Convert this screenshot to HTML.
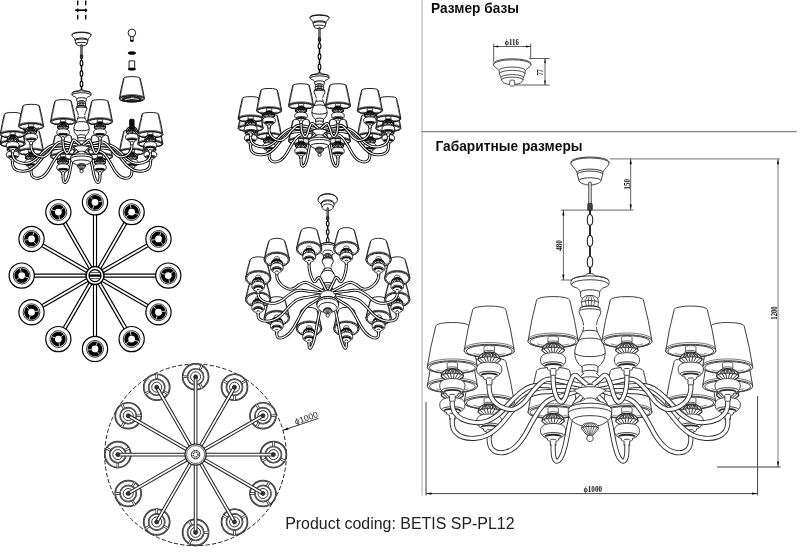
<!DOCTYPE html>
<html lang="ru"><head><meta charset="utf-8"><title>BETIS SP-PL12</title>
<style>
html,body{margin:0;padding:0;background:#fff}
body{width:800px;height:552px;overflow:hidden;position:relative;font-family:"Liberation Sans",sans-serif}
svg{position:absolute;left:0;top:0;display:block}
text{font-family:"Liberation Sans",sans-serif}
.h{font-weight:bold;font-size:15px;fill:#111}
.dim{font-family:"Liberation Serif",serif;font-weight:bold;fill:#111}
</style></head><body>
<svg width="800" height="552" viewBox="0 0 800 552">
<defs><filter id="soft" x="0" y="0" width="100%" height="100%" filterUnits="userSpaceOnUse"><feGaussianBlur stdDeviation="0.33"/></filter></defs>
<rect width="800" height="552" fill="#fff"/>
<g filter="url(#soft)">
<path d="M422.1 0L422.1 495.5" stroke="#cfcfcf" stroke-width="1.8" fill="none"/><path d="M421.4 131.6L796.8 131.6" stroke="#858585" stroke-width="1.4" fill="none"/><text class="h" x="431" y="12.6" textLength="88" lengthAdjust="spacingAndGlyphs">Размер базы</text><text class="h" x="435.5" y="151.3" textLength="147" lengthAdjust="spacingAndGlyphs">Габаритные размеры</text><text x="285.2" y="529.3" font-size="17.2" fill="#222" textLength="229.4" lengthAdjust="spacingAndGlyphs">Product coding: BETIS SP-PL12</text><g stroke="#222" stroke-linejoin="round" stroke-linecap="butt">
<path d="M493.43 64.39L493.53 63.78L493.79 63.04L494.03 62.64L494.43 62.22L495.15 61.7L495.82 61.34L496.83 60.9L498.03 60.5L500.83 59.8L504.34 59.25L508.03 58.92L512.2 58.8L516.03 58.9L519.63 59.2L523.23 59.74L526.03 60.39L528.2 61.17L529.23 61.69L529.81 62.09L530.27 62.51L530.61 63.04L530.87 63.78L530.97 64.39L530.97 64.43L530.91 64.99L530.72 65.48L530.45 65.93L530.05 66.39L529.25 67.11L527.81 68.17L526.03 69.61L525.63 70.02L525.23 70.63L524.94 73.98L523.63 76.94L523.23 78.31L522.83 80.47L522.03 81.62L521.63 82.08L521.23 82.43L520.37 82.97L518.83 83.64L518 83.89L516.83 84.14L515.23 84.36L512.2 84.51L509.23 84.37L507.82 84.18L506.43 83.9L505.23 83.51L504.03 82.97L503.23 82.48L502.83 82.15L502.03 81.16L501.63 80.56L501.23 78.83L501.17 78.31L500.83 77.07L499.46 73.98L499.23 70.92L498.93 70.23L498.43 69.67L498.03 69.32L495.15 67.11L494.35 66.39L493.95 65.93L493.68 65.48L493.49 64.99L493.43 64.43Z" fill="#fff" stroke-width="0.8"/>
<path d="M493.45 64.61A18.75 4.82 0 0 1 530.95 64.61" fill="none" stroke-width="0.8"/>
<path d="M499.2 70.41A13 3.34 0 0 1 525.2 70.41" fill="none" stroke-width="0.8"/>
<path d="M499.4 73.65A12.8 3.29 0 0 1 525 73.65" fill="none" stroke-width="0.8"/>
<path d="M501.07 77.46A11.13 2.86 0 0 1 523.33 77.46" fill="none" stroke-width="0.8"/>
<path d="M501.37 79.93A10.83 2.79 0 0 1 523.04 79.93" fill="none" stroke-width="0.8"/>
<path d="M509.62 83.7L509.95 80.62L510.18 80.43L510.69 80.26L511.4 80.15L512.2 80.11L513.02 80.15L513.71 80.26L514.22 80.43L514.45 80.62L514.78 83.7L514.78 83.71L514.76 84.24L514.65 84.69L514.28 85.32L513.82 85.85L513.55 86L513.19 86.09L512.2 86.17L511.21 86.09L510.6 85.87L510.12 85.32L509.75 84.69L509.64 84.24L509.62 83.71Z" fill="#fff" stroke-width="0.8"/>
</g>
<path d="M493.7 43.6L493.7 62" stroke="#333" stroke-width="0.8" fill="none"/><path d="M530.7 43.6L530.7 58.5" stroke="#333" stroke-width="0.8" fill="none"/><path d="M493.7 46.5L530.7 46.5" stroke="#333" stroke-width="0.8" fill="none"/><path d="M493.7 46.5L498.2 45.6L498.2 47.4Z" fill="#111" stroke="none"/><path d="M530.7 46.5L526.2 47.4L526.2 45.6Z" fill="#111" stroke="none"/><text class="dim" font-size="7.6" textLength="14" lengthAdjust="spacingAndGlyphs" x="504.8" y="45">&#981;116</text><path d="M529 58.5L549.7 58.5" stroke="#333" stroke-width="0.8" fill="none"/><path d="M515 85L549.7 85" stroke="#333" stroke-width="0.8" fill="none"/><path d="M545 58.5L545 85" stroke="#333" stroke-width="0.8" fill="none"/><path d="M545 58.5L545.9 63L544.1 63Z" fill="#111" stroke="none"/><path d="M545 85L544.1 80.5L545.9 80.5Z" fill="#111" stroke="none"/><text class="dim" font-size="7.6" textLength="6.3" lengthAdjust="spacingAndGlyphs" transform="translate(542.6 72.4) rotate(-90)" x="-3.15" y="0">77</text><path d="M610 158.8L780 158.8" stroke="#909090" stroke-width="1.2" fill="none"/><path d="M778 158.7L778 467" stroke="#a4a4a4" stroke-width="1.5" fill="none"/><path d="M717 467L780.6 467" stroke="#444" stroke-width="1" fill="none"/><path d="M778 158.7L779.1 164.2L776.9 164.2Z" fill="#111" stroke="none"/><path d="M778 467L776.9 461.5L779.1 461.5Z" fill="#111" stroke="none"/><text class="dim" font-size="8" textLength="13.4" lengthAdjust="spacingAndGlyphs" transform="translate(777 313) rotate(-90)" x="-6.7" y="0">1200</text><path d="M560.6 210.1L633.4 210.1" stroke="#555" stroke-width="0.9" fill="none"/><path d="M630.7 158.7L630.7 210" stroke="#555" stroke-width="0.9" fill="none"/><path d="M630.7 158.7L631.8 164.2L629.6 164.2Z" fill="#111" stroke="none"/><path d="M630.7 210L629.6 204.5L631.8 204.5Z" fill="#111" stroke="none"/><text class="dim" font-size="8" textLength="10.6" lengthAdjust="spacingAndGlyphs" transform="translate(629.5 184.3) rotate(-90)" x="-5.3" y="0">150</text><path d="M561 280L585 280" stroke="#555" stroke-width="0.9" fill="none"/><path d="M563.4 210L563.4 280" stroke="#555" stroke-width="0.9" fill="none"/><path d="M563.4 210L564.5 215.5L562.3 215.5Z" fill="#111" stroke="none"/><path d="M563.4 280L562.3 274.5L564.5 274.5Z" fill="#111" stroke="none"/><text class="dim" font-size="8" textLength="10.6" lengthAdjust="spacingAndGlyphs" transform="translate(561.8 245.4) rotate(-90)" x="-5.3" y="0">480</text><path d="M426 402L426 495.5" stroke="#444" stroke-width="1" fill="none"/><path d="M757.6 396L757.6 495.5" stroke="#444" stroke-width="1" fill="none"/><path d="M426 493.6L757.6 493.6" stroke="#444" stroke-width="1" fill="none"/><path d="M426 493.6L431.5 492.5L431.5 494.7Z" fill="#111" stroke="none"/><path d="M757.6 493.6L752.1 494.7L752.1 492.5Z" fill="#111" stroke="none"/><text class="dim" font-size="8" textLength="18.5" lengthAdjust="spacingAndGlyphs" x="583.45" y="492">&#981;1000</text><g stroke="#2b2b2b" stroke-linejoin="round" stroke-linecap="butt">
<path d="M570.92 163.16L570.98 162.48L571.29 161.41L571.52 160.99L571.85 160.61L572.37 160.19L573.35 159.63L574.32 159.21L575.49 158.8L578.32 158.09L582.01 157.5L585.92 157.16L590 157.04L594.32 157.17L598.32 157.54L601.81 158.11L604.72 158.87L606.72 159.66L607.52 160.12L608.15 160.61L608.55 161.09L608.72 161.43L609.02 162.48L609.08 163.16L609.08 163.19L608.85 164.13L608.32 165.07L606.65 167.15L604.51 169.53L603.92 170.38L603.49 171.23L602.95 172.48L602.72 174.19L601.12 180.22L600.72 181.26L600.32 181.81L599.92 182.25L599.12 182.87L598.32 183.3L597.12 183.75L595.12 184.24L593.92 184.65L593.12 184.81L591.52 185L590 185.06L588.32 184.99L586.72 184.79L585.92 184.6L584.82 184.23L583.12 183.82L582.01 183.44L581.34 183.14L580.68 182.74L579.92 182.08L579.12 181.04L577.52 175.26L577.12 172.61L576.32 170.83L575.52 169.56L573.35 167.15L571.64 165L571.12 164.07L570.92 163.19Z" fill="#fff" stroke-width="0.9"/>
<path d="M570.93 162.84A19.07 4.9 0 0 1 609.07 162.84" fill="none" stroke-width="0.9"/>
<path d="M577.1 172.41A12.9 3.32 0 0 1 602.9 172.41" fill="none" stroke-width="0.9"/>
<path d="M577.3 174.34A12.7 3.27 0 0 1 602.7 174.34" fill="none" stroke-width="0.9"/>
<path d="M579 180.62A11 2.83 0 0 1 601 180.62" fill="none" stroke-width="0.9"/>
<path d="M588.8 182.45L588.89 182.34L589.15 182.24L590 182.15L590.85 182.24L591.11 182.34L591.2 182.45L591.2 203.92L591.11 204.03L590.85 204.13L590 204.22L589.15 204.13L588.89 204.03L588.8 203.92Z" fill="#fff" stroke-width="0.9"/>
<path d="M587.8 203.91L587.97 203.7L588.44 203.51L589.16 203.39L590 203.35L590.84 203.39L591.56 203.51L592.03 203.7L592.2 203.91L592.2 209.91L592.03 210.12L591.56 210.3L590.84 210.43L590 210.47L589.16 210.43L588.44 210.3L587.97 210.12L587.8 209.91Z" fill="#444" stroke-width="0.9"/>
<path d="M590 209.9L590 215.51M590 224.4L590 236.48M590 245.37L590 257.45M590 266.34L590 275.23" fill="none" stroke-width="2"/>
<ellipse cx="590" cy="219.95" rx="2.7" ry="5.41" fill="#fff" stroke-width="1.12"/>
<ellipse cx="590" cy="240.92" rx="2.7" ry="5.41" fill="#fff" stroke-width="1.12"/>
<ellipse cx="590" cy="261.89" rx="2.7" ry="5.41" fill="#fff" stroke-width="1.12"/>
<path d="M536.62 370.73A16.5 3.39 0 0 1 569.62 370.73Q575.02 390.97 578.22 412.09A25.1 6.45 0 0 1 528.02 412.09Q531.22 390.97 536.62 370.73Z" fill="#fff" stroke-width="0.9"/>
<ellipse cx="553.12" cy="412.09" rx="25.1" ry="6.45" fill="#fff" stroke-width="0.9"/>
<ellipse cx="553.12" cy="412.38" rx="22.9" ry="5.89" fill="#fff" stroke-width="0.9"/>
<path d="M528.42 410.16A24.7 6.35 0 0 1 577.82 410.16" fill="none" stroke-width="0.63"/>
<path d="M547.92 408.22L548.02 407.97L548.31 407.72L548.79 407.48L549.44 407.28L551.13 406.99L553.12 406.89L555.11 406.99L556.8 407.28L557.44 407.48L557.92 407.72L558.22 407.97L558.32 408.22L558.32 413.07L558.22 413.32L557.92 413.57L557.44 413.8L556.8 414L555.11 414.29L553.12 414.4L551.13 414.29L549.44 414L548.79 413.8L548.31 413.57L548.02 413.32L547.92 413.07Z" fill="#fff" stroke-width="0.72"/>
<path d="M547.92 413.06A5.2 1.34 0 0 1 558.32 413.06" fill="none" stroke-width="0.72"/>
<path d="M537.04 414.61A20.1 5.17 0 0 0 569.2 414.61" fill="none" stroke-width="0.54"/>
<path d="M541.92 420.97L542.61 418.9L542.92 418.19L543.32 417.49L543.81 416.86L544.52 416.15L545.72 415.23L546.52 414.75L547.32 414.37L548.92 413.88L550.92 413.56L553.12 413.46L555.32 413.56L557.32 413.88L558.92 414.37L559.72 414.75L560.52 415.23L561.72 416.15L562.43 416.86L562.92 417.49L563.32 418.19L563.63 418.9L564.32 420.97L564.32 421L564.24 421.32L564.01 421.66L562.52 422.9L557.72 426.13L556.92 426.46L555.73 426.72L554.52 426.86L553.12 426.91L551.72 426.86L550.5 426.72L549.32 426.46L548.52 426.13L543.72 422.9L542.23 421.66L542 421.32L541.92 421Z" fill="#fff" stroke-width="1.12"/>
<path d="M550.74 414.13L543.6 419.47L548.07 423.57M551.72 413.83L547.52 418.49L550.15 422.99M552.64 413.72L551.21 418.15L552.11 422.79M553.59 413.72L555.02 418.15L554.13 422.79M554.52 413.83L558.72 418.49L556.09 422.99M555.5 414.13L562.64 419.47L558.17 423.57" fill="none" stroke-width="0.9"/>
<path d="M551.21 413.95L546.39 416.02L546.26 418.87M552.19 413.76L549.85 415.49L549.79 418.26M553.12 413.71L553.12 415.35L553.12 418.1M554.04 413.76L556.39 415.49L556.44 418.26M555.02 413.95L559.85 416.02L559.97 418.87" fill="none" stroke-width="0.9"/>
<path d="M541.92 420.98A11.2 2.88 0 0 1 564.32 420.98" fill="none" stroke-width="0.9"/>
<path d="M540.51 430.55L540.59 429.47L540.71 428.95L540.85 428.5L541.29 427.65L541.88 426.79L542.31 426.3L542.91 425.74L543.86 425.12L544.71 424.72L545.51 424.42L547.51 423.94L550.17 423.58L553.12 423.45L556.07 423.58L558.77 423.95L560.71 424.41L561.51 424.71L562.38 425.12L563.32 425.74L563.91 426.27L564.36 426.79L564.95 427.65L565.26 428.23L565.51 428.88L565.64 429.47L565.73 430.55L565.73 430.58L565.58 432.24L565.38 433.02L564.95 434.08L564.31 435.04L563.32 436.01L562.38 436.76L561.51 437.37L560.31 437.94L558.77 438.41L558.71 440.02L558.62 440.2L558.4 440.4L557.48 440.83L555.92 441.17L555.91 445.5L555.58 445.78L555.09 445.94L554.11 446.11L553.12 446.15L552.13 446.11L551.15 445.94L550.66 445.78L550.32 445.45L550.32 441.17L548.75 440.83L547.84 440.4L547.57 440.12L547.51 438.42L545.91 437.93L544.71 437.35L542.91 436.01L541.91 435.01L541.29 434.08L540.85 433.02L540.66 432.24L540.51 430.58Z" fill="#fff" stroke-width="0.9"/>
<path d="M542.54 435.29A10.58 2.72 0 0 1 563.7 435.29" fill="none" stroke-width="0.9"/>
<path d="M550.32 439.92A2.8 0.72 0 0 1 555.92 439.92" fill="none" stroke-width="0.9"/>
<path d="M545.12 436.83A8 2.06 0 0 1 561.12 436.83" fill="none" stroke-width="1.8"/>
<path d="M586.91 390.59C586.35 391.21 584.76 392.96 583.55 394.29C582.35 395.62 580.89 397.3 579.68 398.58C578.48 399.87 577.28 400.73 576.33 401.99C575.38 403.26 574.74 404.33 574.01 406.15C573.28 407.98 572.76 409.7 571.95 412.97C571.13 416.23 570.14 420.74 569.11 425.74C568.08 430.74 566.87 438.14 565.76 442.97C564.64 447.79 563.52 451.83 562.4 454.69C561.29 457.55 560.17 459.11 559.05 460.13C557.93 461.16 556.58 461.38 555.7 460.84C554.82 460.3 554.19 458.58 553.76 456.89C553.33 455.21 553.23 452.9 553.12 450.75C553.01 448.6 553.12 445.11 553.12 443.98" fill="none" stroke-width="5.1"/>
<path d="M586.91 390.59C586.35 391.21 584.76 392.96 583.55 394.29C582.35 395.62 580.89 397.3 579.68 398.58C578.48 399.87 577.28 400.73 576.33 401.99C575.38 403.26 574.74 404.33 574.01 406.15C573.28 407.98 572.76 409.7 571.95 412.97C571.13 416.23 570.14 420.74 569.11 425.74C568.08 430.74 566.87 438.14 565.76 442.97C564.64 447.79 563.52 451.83 562.4 454.69C561.29 457.55 560.17 459.11 559.05 460.13C557.93 461.16 556.58 461.38 555.7 460.84C554.82 460.3 554.19 458.58 553.76 456.89C553.33 455.21 553.23 452.9 553.12 450.75C553.01 448.6 553.12 445.11 553.12 443.98" fill="none" stroke="#fff" stroke-width="3.3"/>
<path d="M610.38 370.73A16.5 3.39 0 0 1 643.38 370.73Q648.78 390.97 651.98 412.09A25.1 6.45 0 0 1 601.78 412.09Q604.98 390.97 610.38 370.73Z" fill="#fff" stroke-width="0.9"/>
<ellipse cx="626.88" cy="412.09" rx="25.1" ry="6.45" fill="#fff" stroke-width="0.9"/>
<ellipse cx="626.88" cy="412.38" rx="22.9" ry="5.89" fill="#fff" stroke-width="0.9"/>
<path d="M602.18 410.16A24.7 6.35 0 0 1 651.58 410.16" fill="none" stroke-width="0.63"/>
<path d="M621.68 408.22L621.78 407.97L622.08 407.72L622.56 407.48L623.2 407.28L624.89 406.99L626.88 406.89L628.87 406.99L630.56 407.28L631.21 407.48L631.69 407.72L631.98 407.97L632.08 408.22L632.08 413.07L631.98 413.32L631.69 413.57L631.21 413.8L630.56 414L628.87 414.29L626.88 414.4L624.89 414.29L623.2 414L622.56 413.8L622.08 413.57L621.78 413.32L621.68 413.07Z" fill="#fff" stroke-width="0.72"/>
<path d="M621.68 413.06A5.2 1.34 0 0 1 632.08 413.06" fill="none" stroke-width="0.72"/>
<path d="M610.8 414.61A20.1 5.17 0 0 0 642.96 414.61" fill="none" stroke-width="0.54"/>
<path d="M615.68 420.97L616.37 418.9L616.68 418.19L617.08 417.49L617.57 416.86L618.28 416.15L619.48 415.23L620.28 414.75L621.08 414.37L622.68 413.88L624.68 413.56L626.88 413.46L629.08 413.56L631.08 413.88L632.68 414.37L633.48 414.75L634.28 415.23L635.48 416.15L636.19 416.86L636.68 417.49L637.08 418.19L637.39 418.9L638.08 420.97L638.08 421L638 421.32L637.77 421.66L636.28 422.9L631.48 426.13L630.68 426.46L629.5 426.72L628.28 426.86L626.88 426.91L625.48 426.86L624.27 426.72L623.08 426.46L622.28 426.13L617.48 422.9L615.99 421.66L615.76 421.32L615.68 421Z" fill="#fff" stroke-width="1.12"/>
<path d="M624.5 414.13L617.36 419.47L621.83 423.57M625.48 413.83L621.28 418.49L623.91 422.99M626.41 413.72L624.98 418.15L625.87 422.79M627.36 413.72L628.79 418.15L627.89 422.79M628.28 413.83L632.48 418.49L629.85 422.99M629.26 414.13L636.4 419.47L631.93 423.57" fill="none" stroke-width="0.9"/>
<path d="M624.98 413.95L620.15 416.02L620.03 418.87M625.96 413.76L623.61 415.49L623.56 418.26M626.88 413.71L626.88 415.35L626.88 418.1M627.81 413.76L630.15 415.49L630.21 418.26M628.79 413.95L633.61 416.02L633.74 418.87" fill="none" stroke-width="0.9"/>
<path d="M615.68 420.98A11.2 2.88 0 0 1 638.08 420.98" fill="none" stroke-width="0.9"/>
<path d="M614.27 430.55L614.36 429.47L614.47 428.95L614.62 428.5L615.05 427.65L615.64 426.79L616.07 426.3L616.68 425.74L617.62 425.12L618.47 424.72L619.27 424.42L621.27 423.94L623.94 423.58L626.88 423.45L629.83 423.58L632.53 423.95L634.47 424.41L635.27 424.71L636.14 425.12L637.09 425.74L637.67 426.27L638.12 426.79L638.71 427.65L639.02 428.23L639.27 428.88L639.41 429.47L639.49 430.55L639.49 430.58L639.34 432.24L639.15 433.02L638.71 434.08L638.07 435.04L637.09 436.01L636.14 436.76L635.27 437.37L634.07 437.94L632.53 438.41L632.47 440.02L632.38 440.2L632.16 440.4L631.25 440.83L629.68 441.17L629.67 445.5L629.34 445.78L628.85 445.94L627.87 446.11L626.88 446.15L625.89 446.11L624.91 445.94L624.42 445.78L624.08 445.45L624.08 441.17L622.52 440.83L621.6 440.4L621.33 440.12L621.27 438.42L619.67 437.93L618.47 437.35L616.68 436.01L615.67 435.01L615.05 434.08L614.62 433.02L614.42 432.24L614.27 430.58Z" fill="#fff" stroke-width="0.9"/>
<path d="M616.3 435.29A10.58 2.72 0 0 1 637.46 435.29" fill="none" stroke-width="0.9"/>
<path d="M624.08 439.92A2.8 0.72 0 0 1 629.68 439.92" fill="none" stroke-width="0.9"/>
<path d="M618.88 436.83A8 2.06 0 0 1 634.88 436.83" fill="none" stroke-width="1.8"/>
<path d="M593.09 390.59C593.65 391.21 595.24 392.96 596.45 394.29C597.65 395.62 599.11 397.3 600.32 398.58C601.52 399.87 602.72 400.73 603.67 401.99C604.62 403.26 605.26 404.33 605.99 406.15C606.72 407.98 607.24 409.7 608.05 412.97C608.87 416.23 609.86 420.74 610.89 425.74C611.92 430.74 613.13 438.14 614.24 442.97C615.36 447.79 616.48 451.83 617.6 454.69C618.71 457.55 619.83 459.11 620.95 460.13C622.07 461.16 623.42 461.38 624.3 460.84C625.18 460.3 625.81 458.58 626.24 456.89C626.67 455.21 626.77 452.9 626.88 450.75C626.99 448.6 626.88 445.11 626.88 443.98" fill="none" stroke-width="5.1"/>
<path d="M593.09 390.59C593.65 391.21 595.24 392.96 596.45 394.29C597.65 395.62 599.11 397.3 600.32 398.58C601.52 399.87 602.72 400.73 603.67 401.99C604.62 403.26 605.26 404.33 605.99 406.15C606.72 407.98 607.24 409.7 608.05 412.97C608.87 416.23 609.86 420.74 610.89 425.74C611.92 430.74 613.13 438.14 614.24 442.97C615.36 447.79 616.48 451.83 617.6 454.69C618.71 457.55 619.83 459.11 620.95 460.13C622.07 461.16 623.42 461.38 624.3 460.84C625.18 460.3 625.81 458.58 626.24 456.89C626.67 455.21 626.77 452.9 626.88 450.75C626.99 448.6 626.88 445.11 626.88 443.98" fill="none" stroke="#fff" stroke-width="3.3"/>
<path d="M472.74 361.25A16.5 3.39 0 0 1 505.74 361.25Q511.14 381.49 514.34 402.61A25.1 6.45 0 0 1 464.14 402.61Q467.34 381.49 472.74 361.25Z" fill="#fff" stroke-width="0.9"/>
<ellipse cx="489.24" cy="402.61" rx="25.1" ry="6.45" fill="#fff" stroke-width="0.9"/>
<ellipse cx="489.24" cy="402.9" rx="22.9" ry="5.89" fill="#fff" stroke-width="0.9"/>
<path d="M464.54 400.68A24.7 6.35 0 0 1 513.94 400.68" fill="none" stroke-width="0.63"/>
<path d="M484.04 398.74L484.14 398.48L484.43 398.23L484.91 398L485.56 397.8L487.25 397.51L489.24 397.41L491.23 397.51L492.91 397.8L493.56 398L494.04 398.23L494.34 398.48L494.44 398.74L494.44 403.58L494.34 403.84L494.04 404.09L493.56 404.32L492.91 404.52L491.23 404.81L489.24 404.91L487.25 404.81L485.56 404.52L484.91 404.32L484.43 404.09L484.14 403.84L484.04 403.58Z" fill="#fff" stroke-width="0.72"/>
<path d="M484.04 403.58A5.2 1.34 0 0 1 494.44 403.58" fill="none" stroke-width="0.72"/>
<path d="M473.16 405.13A20.1 5.17 0 0 0 505.32 405.13" fill="none" stroke-width="0.54"/>
<path d="M478.04 411.49L478.73 409.41L479.04 408.71L479.44 408.01L479.92 407.38L480.64 406.66L481.84 405.75L482.64 405.27L483.44 404.89L485.04 404.39L487.04 404.08L489.24 403.98L491.44 404.08L493.44 404.39L495.04 404.89L495.84 405.27L496.64 405.75L497.84 406.66L498.55 407.38L499.04 408.01L499.44 408.71L499.75 409.41L500.44 411.49L500.44 411.51L500.36 411.84L500.13 412.17L498.64 413.42L493.84 416.64L493.04 416.97L491.85 417.23L490.64 417.37L489.24 417.42L487.84 417.37L486.62 417.23L485.44 416.97L484.64 416.64L479.84 413.42L478.35 412.17L478.11 411.84L478.04 411.51Z" fill="#fff" stroke-width="1.12"/>
<path d="M486.86 404.65L479.72 409.98L484.19 414.09M487.84 404.34L483.64 409.01L486.27 413.51M488.76 404.24L487.33 408.66L488.23 413.31M489.71 404.24L491.14 408.66L490.25 413.31M490.64 404.34L494.84 409.01L492.21 413.51M491.62 404.65L498.76 409.98L494.29 414.09" fill="none" stroke-width="0.9"/>
<path d="M487.33 404.46L482.51 406.54L482.38 409.39M488.31 404.27L485.97 406L485.91 408.78M489.24 404.22L489.24 405.86L489.24 408.62M490.16 404.27L492.5 406L492.56 408.78M491.14 404.46L495.97 406.54L496.09 409.39" fill="none" stroke-width="0.9"/>
<path d="M478.04 411.5A11.2 2.88 0 0 1 500.44 411.5" fill="none" stroke-width="0.9"/>
<path d="M476.62 421.07L476.71 419.99L476.82 419.47L476.97 419.02L477.4 418.16L478 417.3L478.42 416.81L479.03 416.26L479.98 415.64L480.82 415.23L481.62 414.94L483.62 414.46L486.29 414.09L489.24 413.97L492.19 414.09L494.89 414.47L496.82 414.93L497.62 415.22L498.5 415.64L499.44 416.26L500.02 416.79L500.48 417.3L501.07 418.16L501.38 418.74L501.62 419.39L501.76 419.99L501.85 421.07L501.85 421.1L501.69 422.75L501.5 423.54L501.07 424.59L500.42 425.55L499.44 426.53L498.5 427.28L497.62 427.88L496.42 428.45L494.89 428.92L494.82 430.54L494.74 430.71L494.52 430.92L493.6 431.34L492.04 431.69L492.02 436.02L491.7 436.29L491.21 436.46L490.23 436.62L489.24 436.67L488.25 436.62L487.26 436.46L486.78 436.29L486.44 435.97L486.44 431.69L484.87 431.34L483.96 430.92L483.69 430.63L483.62 428.93L482.02 428.44L480.82 427.87L479.03 426.53L478.02 425.52L477.4 424.59L476.97 423.54L476.78 422.75L476.62 421.1Z" fill="#fff" stroke-width="0.9"/>
<path d="M478.66 425.8A10.58 2.72 0 0 1 499.82 425.8" fill="none" stroke-width="0.9"/>
<path d="M486.44 430.44A2.8 0.72 0 0 1 492.04 430.44" fill="none" stroke-width="0.9"/>
<path d="M481.24 427.35A8 2.06 0 0 1 497.24 427.35" fill="none" stroke-width="1.8"/>
<path d="M581.54 389.79C580.02 390.27 575.67 391.61 572.38 392.63C569.1 393.66 565.1 394.96 561.81 395.93C558.53 396.9 555.24 397.46 552.65 398.48C550.07 399.5 548.31 400.4 546.31 402.04C544.32 403.68 542.91 405.27 540.68 408.32C538.44 411.38 535.74 415.63 532.92 420.37C530.11 425.1 526.82 432.2 523.76 436.74C520.71 441.27 517.66 445.02 514.6 447.59C511.55 450.17 508.5 451.44 505.44 452.17C502.39 452.91 498.69 452.78 496.28 452.02C493.88 451.25 492.17 449.37 491 447.58C489.82 445.78 489.53 443.44 489.24 441.26C488.94 439.09 489.24 435.63 489.24 434.5" fill="none" stroke-width="5.1"/>
<path d="M581.54 389.79C580.02 390.27 575.67 391.61 572.38 392.63C569.1 393.66 565.1 394.96 561.81 395.93C558.53 396.9 555.24 397.46 552.65 398.48C550.07 399.5 548.31 400.4 546.31 402.04C544.32 403.68 542.91 405.27 540.68 408.32C538.44 411.38 535.74 415.63 532.92 420.37C530.11 425.1 526.82 432.2 523.76 436.74C520.71 441.27 517.66 445.02 514.6 447.59C511.55 450.17 508.5 451.44 505.44 452.17C502.39 452.91 498.69 452.78 496.28 452.02C493.88 451.25 492.17 449.37 491 447.58C489.82 445.78 489.53 443.44 489.24 441.26C488.94 439.09 489.24 435.63 489.24 434.5" fill="none" stroke="#fff" stroke-width="3.3"/>
<path d="M674.26 361.25A16.5 3.39 0 0 1 707.26 361.25Q712.66 381.49 715.86 402.61A25.1 6.45 0 0 1 665.66 402.61Q668.86 381.49 674.26 361.25Z" fill="#fff" stroke-width="0.9"/>
<ellipse cx="690.76" cy="402.61" rx="25.1" ry="6.45" fill="#fff" stroke-width="0.9"/>
<ellipse cx="690.76" cy="402.9" rx="22.9" ry="5.89" fill="#fff" stroke-width="0.9"/>
<path d="M666.06 400.68A24.7 6.35 0 0 1 715.46 400.68" fill="none" stroke-width="0.63"/>
<path d="M685.56 398.74L685.66 398.48L685.96 398.23L686.44 398L687.09 397.8L688.77 397.51L690.76 397.41L692.75 397.51L694.44 397.8L695.09 398L695.57 398.23L695.86 398.48L695.96 398.74L695.96 403.58L695.86 403.84L695.57 404.09L695.09 404.32L694.44 404.52L692.75 404.81L690.76 404.91L688.77 404.81L687.09 404.52L686.44 404.32L685.96 404.09L685.66 403.84L685.56 403.58Z" fill="#fff" stroke-width="0.72"/>
<path d="M685.56 403.58A5.2 1.34 0 0 1 695.96 403.58" fill="none" stroke-width="0.72"/>
<path d="M674.68 405.13A20.1 5.17 0 0 0 706.84 405.13" fill="none" stroke-width="0.54"/>
<path d="M679.56 411.49L680.25 409.41L680.56 408.71L680.96 408.01L681.45 407.38L682.16 406.66L683.36 405.75L684.16 405.27L684.96 404.89L686.56 404.39L688.56 404.08L690.76 403.98L692.96 404.08L694.96 404.39L696.56 404.89L697.36 405.27L698.16 405.75L699.36 406.66L700.08 407.38L700.56 408.01L700.96 408.71L701.27 409.41L701.96 411.49L701.96 411.51L701.89 411.84L701.65 412.17L700.16 413.42L695.36 416.64L694.56 416.97L693.38 417.23L692.16 417.37L690.76 417.42L689.36 417.37L688.15 417.23L686.96 416.97L686.16 416.64L681.36 413.42L679.87 412.17L679.64 411.84L679.56 411.51Z" fill="#fff" stroke-width="1.12"/>
<path d="M688.38 404.65L681.24 409.98L685.71 414.09M689.36 404.34L685.16 409.01L687.79 413.51M690.29 404.24L688.86 408.66L689.75 413.31M691.24 404.24L692.67 408.66L691.77 413.31M692.16 404.34L696.36 409.01L693.73 413.51M693.14 404.65L700.28 409.98L695.81 414.09" fill="none" stroke-width="0.9"/>
<path d="M688.86 404.46L684.03 406.54L683.91 409.39M689.84 404.27L687.5 406L687.44 408.78M690.76 404.22L690.76 405.86L690.76 408.62M691.69 404.27L694.03 406L694.09 408.78M692.67 404.46L697.49 406.54L697.62 409.39" fill="none" stroke-width="0.9"/>
<path d="M679.56 411.5A11.2 2.88 0 0 1 701.96 411.5" fill="none" stroke-width="0.9"/>
<path d="M678.15 421.07L678.24 419.99L678.35 419.47L678.5 419.02L678.93 418.16L679.52 417.3L679.95 416.81L680.56 416.26L681.5 415.64L682.35 415.23L683.15 414.94L685.15 414.46L687.82 414.09L690.76 413.97L693.71 414.09L696.41 414.47L698.35 414.93L699.15 415.22L700.02 415.64L700.97 416.26L701.55 416.79L702 417.3L702.6 418.16L702.9 418.74L703.15 419.39L703.29 419.99L703.38 421.07L703.38 421.1L703.22 422.75L703.03 423.54L702.6 424.59L701.95 425.55L700.97 426.53L700.02 427.28L699.15 427.88L697.95 428.45L696.41 428.92L696.35 430.54L696.26 430.71L696.04 430.92L695.13 431.34L693.56 431.69L693.55 436.02L693.22 436.29L692.74 436.46L691.75 436.62L690.76 436.67L689.77 436.62L688.79 436.46L688.3 436.29L687.96 435.97L687.96 431.69L686.4 431.34L685.48 430.92L685.21 430.63L685.15 428.93L683.55 428.44L682.35 427.87L680.56 426.53L679.55 425.52L678.93 424.59L678.5 423.54L678.31 422.75L678.15 421.1Z" fill="#fff" stroke-width="0.9"/>
<path d="M680.18 425.8A10.58 2.72 0 0 1 701.34 425.8" fill="none" stroke-width="0.9"/>
<path d="M687.96 430.44A2.8 0.72 0 0 1 693.56 430.44" fill="none" stroke-width="0.9"/>
<path d="M682.76 427.35A8 2.06 0 0 1 698.76 427.35" fill="none" stroke-width="1.8"/>
<path d="M598.46 389.79C599.98 390.27 604.33 391.61 607.62 392.63C610.9 393.66 614.9 394.96 618.19 395.93C621.47 396.9 624.76 397.46 627.35 398.48C629.93 399.5 631.69 400.4 633.69 402.04C635.68 403.68 637.09 405.27 639.32 408.32C641.56 411.38 644.26 415.63 647.08 420.37C649.89 425.1 653.18 432.2 656.24 436.74C659.29 441.27 662.34 445.02 665.4 447.59C668.45 450.17 671.5 451.44 674.56 452.17C677.61 452.91 681.31 452.78 683.72 452.02C686.12 451.25 687.83 449.37 689 447.58C690.18 445.78 690.47 443.44 690.76 441.26C691.06 439.09 690.76 435.63 690.76 434.5" fill="none" stroke-width="5.1"/>
<path d="M598.46 389.79C599.98 390.27 604.33 391.61 607.62 392.63C610.9 393.66 614.9 394.96 618.19 395.93C621.47 396.9 624.76 397.46 627.35 398.48C629.93 399.5 631.69 400.4 633.69 402.04C635.68 403.68 637.09 405.27 639.32 408.32C641.56 411.38 644.26 415.63 647.08 420.37C649.89 425.1 653.18 432.2 656.24 436.74C659.29 441.27 662.34 445.02 665.4 447.59C668.45 450.17 671.5 451.44 674.56 452.17C677.61 452.91 681.31 452.78 683.72 452.02C686.12 451.25 687.83 449.37 689 447.58C690.18 445.78 690.47 443.44 690.76 441.26C691.06 439.09 690.76 435.63 690.76 434.5" fill="none" stroke="#fff" stroke-width="3.3"/>
<path d="M435.86 344.82A16.5 3.39 0 0 1 468.86 344.82Q474.26 365.06 477.46 386.18A25.1 6.45 0 0 1 427.26 386.18Q430.46 365.06 435.86 344.82Z" fill="#fff" stroke-width="0.9"/>
<ellipse cx="452.36" cy="386.18" rx="25.1" ry="6.45" fill="#fff" stroke-width="0.9"/>
<ellipse cx="452.36" cy="386.47" rx="22.9" ry="5.89" fill="#fff" stroke-width="0.9"/>
<path d="M427.66 384.25A24.7 6.35 0 0 1 477.06 384.25" fill="none" stroke-width="0.63"/>
<path d="M447.16 382.31L447.26 382.06L447.55 381.81L448.03 381.58L448.68 381.37L450.37 381.08L452.36 380.98L454.35 381.08L456.03 381.37L456.68 381.58L457.16 381.81L457.46 382.06L457.56 382.31L457.56 387.16L457.46 387.41L457.16 387.66L456.68 387.89L456.03 388.1L454.35 388.39L452.36 388.49L450.37 388.39L448.68 388.1L448.03 387.89L447.55 387.66L447.26 387.41L447.16 387.16Z" fill="#fff" stroke-width="0.72"/>
<path d="M447.16 387.15A5.2 1.34 0 0 1 457.56 387.15" fill="none" stroke-width="0.72"/>
<path d="M436.28 388.7A20.1 5.17 0 0 0 468.44 388.7" fill="none" stroke-width="0.54"/>
<path d="M441.16 395.06L441.85 392.99L442.16 392.28L442.56 391.58L443.04 390.95L443.76 390.24L444.96 389.32L445.76 388.84L446.56 388.46L448.16 387.97L450.16 387.65L452.36 387.55L454.56 387.65L456.56 387.97L458.16 388.46L458.96 388.84L459.76 389.32L460.96 390.24L461.67 390.95L462.16 391.58L462.56 392.28L462.86 392.99L463.56 395.06L463.56 395.09L463.48 395.41L463.25 395.75L461.76 396.99L456.96 400.22L456.16 400.55L454.97 400.81L453.76 400.95L452.36 401L450.96 400.95L449.74 400.81L448.56 400.55L447.76 400.22L442.96 396.99L441.47 395.75L441.23 395.41L441.16 395.09Z" fill="#fff" stroke-width="1.12"/>
<path d="M449.98 388.22L442.84 393.56L447.31 397.66M450.96 387.92L446.76 392.58L449.39 397.08M451.88 387.81L450.45 392.24L451.35 396.88M452.83 387.81L454.26 392.24L453.37 396.88M453.76 387.92L457.96 392.58L455.33 397.08M454.74 388.22L461.88 393.56L457.4 397.66" fill="none" stroke-width="0.9"/>
<path d="M450.45 388.04L445.62 390.12L445.5 392.96M451.43 387.85L449.09 389.58L449.03 392.36M452.36 387.8L452.36 389.44L452.36 392.19M453.28 387.85L455.62 389.58L455.68 392.36M454.26 388.04L459.09 390.12L459.21 392.96" fill="none" stroke-width="0.9"/>
<path d="M441.16 395.07A11.2 2.88 0 0 1 463.56 395.07" fill="none" stroke-width="0.9"/>
<path d="M439.74 404.64L439.83 403.56L439.94 403.04L440.09 402.6L440.52 401.74L441.12 400.88L441.54 400.39L442.15 399.83L443.09 399.21L443.94 398.81L444.74 398.51L446.74 398.03L449.41 397.67L452.36 397.54L455.31 397.67L458.01 398.04L459.94 398.5L460.74 398.8L461.62 399.21L462.56 399.83L463.14 400.36L463.59 400.88L464.19 401.74L464.49 402.32L464.74 402.97L464.88 403.56L464.97 404.64L464.97 404.67L464.81 406.33L464.62 407.11L464.19 408.17L463.54 409.13L462.56 410.1L461.62 410.85L460.74 411.46L459.54 412.03L458.01 412.5L457.94 414.11L457.85 414.29L457.64 414.49L456.72 414.92L455.16 415.26L455.14 419.59L454.82 419.87L454.33 420.03L453.35 420.2L452.36 420.24L451.37 420.2L450.38 420.03L449.89 419.87L449.56 419.54L449.55 415.26L447.99 414.92L447.08 414.49L446.81 414.21L446.74 412.51L445.14 412.02L443.94 411.44L442.15 410.1L441.14 409.1L440.52 408.17L440.09 407.11L439.9 406.33L439.74 404.67Z" fill="#fff" stroke-width="0.9"/>
<path d="M441.78 409.38A10.58 2.72 0 0 1 462.94 409.38" fill="none" stroke-width="0.9"/>
<path d="M449.56 414.02A2.8 0.72 0 0 1 455.16 414.02" fill="none" stroke-width="0.9"/>
<path d="M444.36 410.92A8 2.06 0 0 1 460.36 410.92" fill="none" stroke-width="1.8"/>
<path d="M578.45 388.42C576.36 388.64 570.43 389.27 565.94 389.76C561.44 390.25 555.99 390.9 551.5 391.34C547.01 391.77 542.51 391.79 538.98 392.39C535.46 392.99 533.05 393.61 530.32 394.92C527.59 396.24 525.67 397.59 522.62 400.28C519.57 402.97 515.88 406.79 512.03 411.06C508.18 415.34 503.69 421.9 499.52 425.94C495.35 429.98 491.18 433.23 487.01 435.3C482.84 437.38 478.67 438.15 474.49 438.39C470.32 438.63 465.27 437.9 461.98 436.74C458.69 435.58 456.37 433.42 454.76 431.44C453.16 429.45 452.76 427.07 452.36 424.84C451.95 422.61 452.36 419.2 452.36 418.07" fill="none" stroke-width="5.1"/>
<path d="M578.45 388.42C576.36 388.64 570.43 389.27 565.94 389.76C561.44 390.25 555.99 390.9 551.5 391.34C547.01 391.77 542.51 391.79 538.98 392.39C535.46 392.99 533.05 393.61 530.32 394.92C527.59 396.24 525.67 397.59 522.62 400.28C519.57 402.97 515.88 406.79 512.03 411.06C508.18 415.34 503.69 421.9 499.52 425.94C495.35 429.98 491.18 433.23 487.01 435.3C482.84 437.38 478.67 438.15 474.49 438.39C470.32 438.63 465.27 437.9 461.98 436.74C458.69 435.58 456.37 433.42 454.76 431.44C453.16 429.45 452.76 427.07 452.36 424.84C451.95 422.61 452.36 419.2 452.36 418.07" fill="none" stroke="#fff" stroke-width="3.3"/>
<path d="M711.14 344.82A16.5 3.39 0 0 1 744.14 344.82Q749.54 365.06 752.74 386.18A25.1 6.45 0 0 1 702.54 386.18Q705.74 365.06 711.14 344.82Z" fill="#fff" stroke-width="0.9"/>
<ellipse cx="727.64" cy="386.18" rx="25.1" ry="6.45" fill="#fff" stroke-width="0.9"/>
<ellipse cx="727.64" cy="386.47" rx="22.9" ry="5.89" fill="#fff" stroke-width="0.9"/>
<path d="M702.94 384.25A24.7 6.35 0 0 1 752.34 384.25" fill="none" stroke-width="0.63"/>
<path d="M722.44 382.31L722.54 382.06L722.84 381.81L723.32 381.58L723.97 381.37L725.65 381.08L727.64 380.98L729.63 381.08L731.32 381.37L731.97 381.58L732.45 381.81L732.74 382.06L732.84 382.31L732.84 387.16L732.74 387.41L732.45 387.66L731.97 387.89L731.32 388.1L729.63 388.39L727.64 388.49L725.65 388.39L723.97 388.1L723.32 387.89L722.84 387.66L722.54 387.41L722.44 387.16Z" fill="#fff" stroke-width="0.72"/>
<path d="M722.44 387.15A5.2 1.34 0 0 1 732.84 387.15" fill="none" stroke-width="0.72"/>
<path d="M711.56 388.7A20.1 5.17 0 0 0 743.72 388.7" fill="none" stroke-width="0.54"/>
<path d="M716.44 395.06L717.14 392.99L717.44 392.28L717.84 391.58L718.33 390.95L719.04 390.24L720.24 389.32L721.04 388.84L721.84 388.46L723.44 387.97L725.44 387.65L727.64 387.55L729.84 387.65L731.84 387.97L733.44 388.46L734.24 388.84L735.04 389.32L736.24 390.24L736.96 390.95L737.44 391.58L737.84 392.28L738.15 392.99L738.84 395.06L738.84 395.09L738.77 395.41L738.53 395.75L737.04 396.99L732.24 400.22L731.44 400.55L730.26 400.81L729.04 400.95L727.64 401L726.24 400.95L725.03 400.81L723.84 400.55L723.04 400.22L718.24 396.99L716.75 395.75L716.52 395.41L716.44 395.09Z" fill="#fff" stroke-width="1.12"/>
<path d="M725.26 388.22L718.12 393.56L722.6 397.66M726.24 387.92L722.04 392.58L724.67 397.08M727.17 387.81L725.74 392.24L726.63 396.88M728.12 387.81L729.55 392.24L728.65 396.88M729.04 387.92L733.24 392.58L730.61 397.08M730.02 388.22L737.16 393.56L732.69 397.66" fill="none" stroke-width="0.9"/>
<path d="M725.74 388.04L720.91 390.12L720.79 392.96M726.72 387.85L724.38 389.58L724.32 392.36M727.64 387.8L727.64 389.44L727.64 392.19M728.57 387.85L730.91 389.58L730.97 392.36M729.55 388.04L734.38 390.12L734.5 392.96" fill="none" stroke-width="0.9"/>
<path d="M716.44 395.07A11.2 2.88 0 0 1 738.84 395.07" fill="none" stroke-width="0.9"/>
<path d="M715.03 404.64L715.12 403.56L715.23 403.04L715.38 402.6L715.81 401.74L716.41 400.88L716.83 400.39L717.44 399.83L718.38 399.21L719.23 398.81L720.03 398.51L722.03 398.03L724.7 397.67L727.64 397.54L730.59 397.67L733.29 398.04L735.23 398.5L736.03 398.8L736.91 399.21L737.85 399.83L738.43 400.36L738.88 400.88L739.48 401.74L739.78 402.32L740.03 402.97L740.17 403.56L740.26 404.64L740.26 404.67L740.1 406.33L739.91 407.11L739.48 408.17L738.83 409.13L737.85 410.1L736.91 410.85L736.03 411.46L734.83 412.03L733.29 412.5L733.23 414.11L733.14 414.29L732.92 414.49L732.01 414.92L730.45 415.26L730.43 419.59L730.11 419.87L729.62 420.03L728.63 420.2L727.64 420.24L726.65 420.2L725.67 420.03L725.18 419.87L724.85 419.54L724.84 415.26L723.28 414.92L722.36 414.49L722.09 414.21L722.03 412.51L720.43 412.02L719.23 411.44L717.44 410.1L716.43 409.1L715.81 408.17L715.38 407.11L715.19 406.33L715.03 404.67Z" fill="#fff" stroke-width="0.9"/>
<path d="M717.06 409.38A10.58 2.72 0 0 1 738.22 409.38" fill="none" stroke-width="0.9"/>
<path d="M724.84 414.02A2.8 0.72 0 0 1 730.44 414.02" fill="none" stroke-width="0.9"/>
<path d="M719.64 410.92A8 2.06 0 0 1 735.64 410.92" fill="none" stroke-width="1.8"/>
<path d="M601.55 388.42C603.64 388.64 609.57 389.27 614.06 389.76C618.56 390.25 624.01 390.9 628.5 391.34C632.99 391.77 637.49 391.79 641.02 392.39C644.54 392.99 646.95 393.61 649.68 394.92C652.41 396.24 654.33 397.59 657.38 400.28C660.43 402.97 664.12 406.79 667.97 411.06C671.82 415.34 676.31 421.9 680.48 425.94C684.65 429.98 688.82 433.23 692.99 435.3C697.16 437.38 701.33 438.15 705.51 438.39C709.68 438.63 714.73 437.9 718.02 436.74C721.31 435.58 723.63 433.42 725.24 431.44C726.84 429.45 727.24 427.07 727.64 424.84C728.05 422.61 727.64 419.2 727.64 418.07" fill="none" stroke-width="5.1"/>
<path d="M601.55 388.42C603.64 388.64 609.57 389.27 614.06 389.76C618.56 390.25 624.01 390.9 628.5 391.34C632.99 391.77 637.49 391.79 641.02 392.39C644.54 392.99 646.95 393.61 649.68 394.92C652.41 396.24 654.33 397.59 657.38 400.28C660.43 402.97 664.12 406.79 667.97 411.06C671.82 415.34 676.31 421.9 680.48 425.94C684.65 429.98 688.82 433.23 692.99 435.3C697.16 437.38 701.33 438.15 705.51 438.39C709.68 438.63 714.73 437.9 718.02 436.74C721.31 435.58 723.63 433.42 725.24 431.44C726.84 429.45 727.24 427.07 727.64 424.84C728.05 422.61 727.64 419.2 727.64 418.07" fill="none" stroke="#fff" stroke-width="3.3"/>
<path d="M570.8 282.56L570.86 282L571 281.45L571.52 280.1L571.74 279.73L572.2 279.25L572.56 278.98L573.63 278.37L574.6 277.96L575.8 277.55L578.2 276.95L581.28 276.42L584.6 276.06L585.8 274.74L586.25 274.39L587 273.99L588.35 273.59L590 273.4L591.65 273.59L593 273.99L593.75 274.39L594.2 274.74L595.4 276.06L598.72 276.42L601.8 276.95L604.2 277.55L605.4 277.96L606.37 278.37L607.44 278.98L607.8 279.25L608.26 279.73L608.48 280.1L609 281.45L609.14 282L609.2 282.56L609.2 282.59L609.14 283.15L609 283.7L608.48 285.05L608.2 285.49L607.8 285.9L607 286.45L605.96 286.96L603.03 287.99L602.47 288.35L601.4 289.19L600.6 290.06L600.2 290.76L599.8 291.79L599.4 294.46L599.2 296.72L599 297.17L598.72 297.44L598.2 297.76L597.4 298.09L595.4 298.6L593 298.92L590 299.05L587 298.92L584.6 298.6L582.6 298.09L581.8 297.76L581.28 297.44L581 297.17L580.8 296.72L580.6 294.34L580.2 291.79L579.8 290.76L579.4 290.06L578.6 289.19L577.53 288.35L576.97 287.99L574.04 286.96L573 286.45L572.2 285.9L571.8 285.49L571.52 285.05L571 283.7L570.86 283.15L570.8 282.59Z" fill="#fff" stroke-width="0.9"/>
<path d="M571.4 280.64A18.6 4.78 0 0 1 608.6 280.64" fill="none" stroke-width="0.9"/>
<path d="M571.4 284.51A18.6 4.78 0 0 1 608.6 284.51" fill="none" stroke-width="0.9"/>
<path d="M580.4 292.24A9.6 2.47 0 0 1 599.6 292.24" fill="none" stroke-width="0.9"/>
<path d="M581.6 302.67L581.66 301.62L581.8 300.6L582.2 299.21L582.52 298.57L582.84 298.15L583.61 297.39L585.4 296.18L586.19 295.85L587.8 295.53L590 295.4L592.2 295.53L593.81 295.85L594.6 296.18L596.39 297.39L597.16 298.15L597.48 298.57L597.8 299.21L598.2 300.6L598.34 301.62L598.4 302.67L598.4 302.69L598.34 303.68L598.2 304.61L597.8 305.87L597.48 306.49L597 307.13L595.94 308.13L594.67 309.13L593.81 309.5L592.2 309.82L590 309.95L587.8 309.82L586.19 309.5L585.33 309.13L584.06 308.13L583 307.13L582.52 306.49L582.2 305.87L581.8 304.61L581.66 303.68L581.6 302.69Z" fill="#fff" stroke-width="0.9"/>
<path d="M581.6 302.68A8.4 2.16 0 0 1 598.4 302.68" fill="none" stroke-width="0.9"/>
<path d="M587.6 295.66L584.96 300.95L587.3 307.64M589.2 295.42L588.32 300.56L589.1 307.41M590.8 295.42L591.68 300.56L590.9 307.41M592.4 295.66L595.04 300.95L592.7 307.64" fill="none" stroke-width="0.68"/>
<path d="M579.8 311.36L580 308.44L580.08 308.15L580.4 307.75L580.91 307.4L581.6 307.08L582.51 306.77L584.67 306.3L587.23 306L590 305.9L592.77 306L595.33 306.3L597.49 306.77L598.4 307.08L599.09 307.4L599.6 307.75L599.92 308.15L600 308.44L600.2 311.36L600.2 311.38L600.15 311.63L600 311.89L599.42 312.38L598.48 312.83L597.2 313.23L595.67 313.55L593.9 313.8L591.99 313.95L590 314L588.01 313.95L586.1 313.8L584.33 313.55L582.8 313.23L581.52 312.83L580.58 312.38L580 311.89L579.85 311.63L579.8 311.38Z" fill="#fff" stroke-width="0.9"/>
<path d="M580 308.47A10 2.57 0 0 1 600 308.47" fill="none" stroke-width="0.9"/>
<path d="M579.1 311.55L579.18 311.24L579.31 311.02L579.93 310.49L580.94 310.01L582.29 309.58L583.94 309.24L585.83 308.98L587.87 308.82L590 308.76L592.13 308.82L594.17 308.98L596.06 309.24L597.7 309.58L599.06 310.01L600.07 310.49L600.69 311.02L600.82 311.24L600.9 311.55L600.9 311.58L600.69 313.06L600.37 314.1L598.5 317.61L598 318.76L597.7 319.68L597.08 321.73L596.75 323.13L596.5 324.41L596.4 325.7L596.1 326.17L595.3 326.6L593.77 327L592.1 327.23L590 327.32L587.7 327.21L585.83 326.92L584.5 326.52L583.94 326.21L583.7 325.97L583.6 325.7L583.45 324.11L583.3 323.24L582.92 321.73L582.1 319.04L581.3 317.21L579.63 314.1L579.3 313.03L579.1 311.58Z" fill="#fff" stroke="none"/>
<path d="M583.6 325.52L583.3 323.24L582.92 321.73L582.1 319.04L581.3 317.21L579.63 314.1L579.3 313.03L579.1 311.6L579.13 311.35L579.3 311.03L579.51 310.81L580.29 310.29L581.3 309.88L582.6 309.51L584.3 309.18L586.1 308.95L588.1 308.81L590 308.76L592.1 308.82L594.1 308.97L595.7 309.18L597.4 309.51L598.56 309.83L599.71 310.29L600.49 310.81L600.69 311.02L600.87 311.35L600.9 311.6L600.69 313.06L600.37 314.1L598.5 317.61L598 318.76L597.7 319.68L597.08 321.73L596.75 323.13L596.5 324.41L596.4 325.52" fill="none" stroke-width="0.9"/>
<path d="M574.8 352.72L574.85 351.17L575.09 349.28L575.54 347.42L575.96 346.1L576.6 344.34L578.06 340.92L581.65 333.94L582.6 331.63L583.1 330.02L583.4 328.69L583.55 327.66L583.64 325.5L583.8 325.27L584.2 324.98L585 324.65L585.8 324.43L587.8 324.13L590 324.03L592.2 324.13L594.2 324.43L595 324.65L595.8 324.98L596.2 325.27L596.36 325.5L596.45 327.66L596.6 328.69L596.9 330.02L597.4 331.63L598.35 333.94L601.94 340.92L603.4 344.34L604.04 346.1L604.46 347.42L604.91 349.28L605.15 351.17L605.2 352.72L605.2 352.75L605.09 354.46L604.78 356.66L604.2 358.77L603.8 359.74L602.96 361.39L601.94 362.98L600.75 364.51L599.4 365.86L597.8 367.3L596.9 367.79L595.4 368.24L593.8 368.52L591.8 368.71L590 368.76L588.2 368.71L586.2 368.52L584.6 368.24L583.1 367.79L582.2 367.3L580.6 365.86L579.25 364.51L578.06 362.98L577.04 361.39L576.2 359.74L575.8 358.77L575.22 356.66L574.91 354.46L574.8 352.75Z" fill="#fff" stroke="none"/>
<path d="M596.4 326.97L596.6 328.69L596.9 330.02L597.4 331.63L597.8 332.64L598.35 333.94L601.94 340.92L603.4 344.34L604.26 346.77L604.91 349.28L605.15 351.17L605.2 352.75L605 355.31L604.78 356.66L604.26 358.61L603.8 359.74L602.96 361.39L601.94 362.98L600.75 364.51L599.4 365.86L597.94 367.17L597.43 367.54L596.9 367.79L596.2 368.03L595 368.32L592.6 368.65L590 368.76L587.4 368.65L585 368.32L583.8 368.03L583.1 367.79L582.57 367.54L582.06 367.17L580.6 365.86L579.25 364.51L578.06 362.98L577.04 361.39L576.2 359.74L575.74 358.61L575.22 356.66L575 355.31L574.8 352.75L574.85 351.17L575.09 349.28L575.74 346.77L576.6 344.34L578.06 340.92L581.65 333.94L582.2 332.64L582.6 331.63L583.1 330.02L583.4 328.69L583.6 326.97" fill="none" stroke-width="0.9"/>
<path d="M582.4 332.25A7.6 1.95 0 0 1 597.6 332.25" fill="none" stroke-width="0.9"/>
<path d="M578 341.23A12 3.09 0 0 1 602 341.23" fill="none" stroke-width="0.9"/>
<path d="M574.8 352.73A15.2 3.91 0 0 0 605.2 352.73" fill="none" stroke-width="0.9"/>
<path d="M582.2 366.64L582.35 366.26L582.8 365.88L583.51 365.54L584.48 365.23L585.67 364.98L587.02 364.8L590 364.64L592.98 364.8L594.33 364.98L595.52 365.23L596.49 365.54L597.2 365.88L597.65 366.26L597.8 366.64L597.8 372.36L597.65 372.74L597.2 373.12L595.2 374.09L594.58 374.31L593.6 374.55L592.41 374.73L590 374.86L587.59 374.73L586.4 374.55L585.42 374.31L584.8 374.09L582.8 373.12L582.35 372.74L582.2 372.36Z" fill="#fff" stroke="none"/>
<path d="M584.48 373.94L582.79 373.12L582.42 372.82L582.22 372.51L582.2 366.64L582.3 366.34L582.58 366.03L583.19 365.67L583.95 365.38L584.93 365.12L587.3 364.77L590 364.64L592.7 364.77L595.07 365.12L596.05 365.38L596.81 365.67L597.42 366.03L597.7 366.34L597.8 366.64L597.78 372.51L597.58 372.82L597.21 373.12L595.52 373.94" fill="none" stroke-width="0.9"/>
<path d="M579 379.59L579.08 379.27L579.6 378.05L580.2 376.92L580.62 376.31L581.92 374.94L584.4 372.76L585.2 372.39L586.6 372.05L588.28 371.84L590 371.77L591.72 371.84L593.4 372.05L594.8 372.39L595.6 372.76L598.08 374.94L599.38 376.31L599.8 376.92L600.4 378.05L600.92 379.27L601 379.59L601 379.61L600.92 379.93L600.7 380.26L599.99 380.78L598.8 381.3L597 381.8L597 390.26L596.81 390.65L596.47 390.92L596 391.16L594.4 391.63L592.4 391.92L590 392.03L587.6 391.92L585.6 391.63L584 391.16L583.53 390.92L583.19 390.65L583 390.26L583 381.8L581.2 381.3L580.01 380.78L579.3 380.26L579.08 379.93L579 379.61Z" fill="#fff" stroke="none"/>
<path d="M596 373.12L598.08 374.94L599.38 376.31L599.8 376.92L600.4 378.05L600.97 379.38L600.97 379.82L600.8 380.14L600.59 380.37L599.8 380.88L598.64 381.35L597 381.8L597 390.26L596.81 390.65L596.47 390.92L596 391.16L594.4 391.63L592.4 391.92L590 392.03L587.6 391.92L585.6 391.63L584 391.16L583.53 390.92L583.19 390.65L583 390.26L583 381.8L581.36 381.35L580.2 380.88L579.41 380.37L579.2 380.14L579.03 379.82L579.03 379.38L579.6 378.05L580.2 376.92L580.62 376.31L581.92 374.94L584 373.12" fill="none" stroke-width="0.9"/>
<path d="M582.2 372.35A7.8 2.01 0 0 1 597.8 372.35" fill="none" stroke-width="0.9"/>
<path d="M579 379.6A11 2.83 0 0 1 601 379.6" fill="none" stroke-width="0.9"/>
<path d="M574.1 389.03L574.21 388.44L574.54 387.58L575.08 386.93L575.56 386.59L576.3 386.19L577.91 385.57L580.3 384.96L583.34 384.48L586.7 384.18L590 384.09L593.5 384.19L596.7 384.48L599.5 384.92L602.09 385.57L603.88 386.27L604.92 386.93L605.31 387.33L605.5 387.64L605.79 388.44L605.9 389.03L605.9 389.06L605.86 389.57L605.6 390.24L604.92 391.36L604.69 391.62L604.17 392.03L600.8 394.08L599.1 395.28L597.5 396.8L594.91 399.65L594.3 399.97L593.1 400.29L591.5 400.5L590 400.55L588.3 400.48L586.9 400.29L585.9 400.04L585.1 399.66L582.3 396.58L581.1 395.45L579.5 394.27L575.9 392.07L575.31 391.62L575.08 391.36L574.4 390.24L574.14 389.57L574.1 389.06Z" fill="#fff" stroke-width="0.9"/>
<path d="M574.4 388.1A15.6 4.01 0 0 1 605.6 388.1" fill="none" stroke-width="0.9"/>
<path d="M574.8 390.62A15.2 3.91 0 0 1 605.2 390.62" fill="none" stroke-width="0.9"/>
<path d="M568.25 410.85L568.32 409.54L568.45 408.98L568.67 408.48L569.06 407.88L569.9 407.02L571.65 405.62L572.85 404.74L574.03 403.98L575.25 403.31L577.21 402.43L582.45 400.57L583.25 400.22L584.05 399.76L585.25 398.82L585.76 398.54L586.6 398.27L587.65 398.08L590 397.93L591.25 397.97L592.45 398.1L594.05 398.46L594.45 398.63L596.05 399.83L596.85 400.27L602.85 402.46L604.45 403.16L606.05 404.02L607.25 404.8L608.45 405.7L610.1 407.02L610.85 407.77L611.25 408.32L611.48 408.8L611.68 409.54L611.75 410.85L611.75 410.88L611.68 413.44L611.15 415.91L610.85 416.8L610.45 417.63L609.65 418.82L608.45 420.21L607.08 421.47L606.05 422.27L604.45 423.29L602.79 424.18L601.37 424.81L599.45 425.46L596.85 426.08L594.45 426.47L592.45 426.68L590 426.76L587.65 426.68L585.65 426.48L582.47 425.94L580.45 425.43L578.63 424.81L577.25 424.19L575.65 423.35L573.65 422.04L572.4 421.03L571.02 419.64L569.9 418.2L569.31 417.15L568.85 415.9L568.32 413.44L568.25 410.88Z" fill="#fff" stroke-width="0.9"/>
<path d="M569 408.59A21 5.4 0 0 1 611 408.59" fill="none" stroke-width="0.9"/>
<path d="M568.3 413.23A21.7 5.58 0 0 1 611.7 413.23" fill="none" stroke-width="0.9"/>
<path d="M572.2 420.19A17.8 4.58 0 0 1 607.8 420.19" fill="none" stroke-width="0.9"/>
<path d="M581.6 428.49L581.92 426.92L582.24 425.79L582.6 425.15L583.02 424.72L583.61 424.31L584.35 423.94L585.4 423.52L586.48 423.22L588.2 422.98L590 422.9L591.8 422.98L593.52 423.22L594.6 423.52L595.65 423.94L596.39 424.31L596.98 424.72L597.4 425.15L597.76 425.79L598.08 426.92L598.4 428.49L598.4 428.51L598.24 428.92L595 432.89L593 435.25L592.6 435.62L592.6 435.69L592.28 435.97L591.8 436.13L590.99 436.27L590 436.32L589.01 436.27L588.2 436.13L587.72 435.97L587.4 435.69L587.4 435.62L587 435.25L585 432.89L581.76 428.92L581.6 428.51Z" fill="#fff" stroke-width="0.9"/>
<path d="M581.6 428.5A8.4 2.16 0 0 1 598.4 428.5" fill="none" stroke-width="0.9"/>
<path d="M586.19 423.58L582.86 427.36L588.01 435.3M587.76 423.1L585.8 426.63L588.83 435.07M589.24 422.92L588.57 426.37L589.6 434.99M590.76 422.92L591.43 426.37L590.4 434.99M592.24 423.1L594.2 426.63L591.17 435.07M593.81 423.58L597.14 427.36L591.99 435.3" fill="none" stroke-width="0.68"/>
<path d="M586.9 438.35L586.96 437.61L587.14 436.89L587.49 436.25L587.81 435.98L588.3 435.74L589.4 435.44L590 435.39L590.6 435.44L591.62 435.71L592.19 435.98L592.51 436.25L592.86 436.89L593.04 437.61L593.1 438.35L593.1 438.36L593.04 439.09L592.86 439.8L592.51 440.46L592.19 440.75L591.5 441.13L590.7 441.44L590 441.51L589.28 441.43L588.49 441.13L587.81 440.75L587.49 440.46L587.14 439.8L586.96 439.09L586.9 438.36Z" fill="#fff" stroke-width="0.9"/>
<path d="M578.45 386.82C576.36 386.76 570.43 386.58 565.94 386.45C561.44 386.31 555.99 386.21 551.5 386.03C547.01 385.85 542.51 385.25 538.98 385.36C535.46 385.47 533.05 385.76 530.32 386.7C527.59 387.64 525.67 388.73 522.62 391C519.57 393.27 515.88 396.57 512.03 400.32C508.18 404.06 503.69 410 499.52 413.47C495.35 416.94 491.18 419.61 487.01 421.11C482.84 422.61 478.67 422.81 474.49 422.47C470.32 422.14 465.27 420.71 461.98 419.1C458.69 417.49 456.37 415.01 454.76 412.8C453.16 410.6 452.76 408.15 452.36 405.87C451.95 403.59 452.36 400.23 452.36 399.11" fill="none" stroke-width="5.1"/>
<path d="M578.45 386.82C576.36 386.76 570.43 386.58 565.94 386.45C561.44 386.31 555.99 386.21 551.5 386.03C547.01 385.85 542.51 385.25 538.98 385.36C535.46 385.47 533.05 385.76 530.32 386.7C527.59 387.64 525.67 388.73 522.62 391C519.57 393.27 515.88 396.57 512.03 400.32C508.18 404.06 503.69 410 499.52 413.47C495.35 416.94 491.18 419.61 487.01 421.11C482.84 422.61 478.67 422.81 474.49 422.47C470.32 422.14 465.27 420.71 461.98 419.1C458.69 417.49 456.37 415.01 454.76 412.8C453.16 410.6 452.76 408.15 452.36 405.87C451.95 403.59 452.36 400.23 452.36 399.11" fill="none" stroke="#fff" stroke-width="3.3"/>
<path d="M601.55 386.82C603.64 386.76 609.57 386.58 614.06 386.45C618.56 386.31 624.01 386.21 628.5 386.03C632.99 385.85 637.49 385.25 641.02 385.36C644.54 385.47 646.95 385.76 649.68 386.7C652.41 387.64 654.33 388.73 657.38 391C660.43 393.27 664.12 396.57 667.97 400.32C671.82 404.06 676.31 410 680.48 413.47C684.65 416.94 688.82 419.61 692.99 421.11C697.16 422.61 701.33 422.81 705.51 422.47C709.68 422.14 714.73 420.71 718.02 419.1C721.31 417.49 723.63 415.01 725.24 412.8C726.84 410.6 727.24 408.15 727.64 405.87C728.05 403.59 727.64 400.23 727.64 399.11" fill="none" stroke-width="5.1"/>
<path d="M601.55 386.82C603.64 386.76 609.57 386.58 614.06 386.45C618.56 386.31 624.01 386.21 628.5 386.03C632.99 385.85 637.49 385.25 641.02 385.36C644.54 385.47 646.95 385.76 649.68 386.7C652.41 387.64 654.33 388.73 657.38 391C660.43 393.27 664.12 396.57 667.97 400.32C671.82 404.06 676.31 410 680.48 413.47C684.65 416.94 688.82 419.61 692.99 421.11C697.16 422.61 701.33 422.81 705.51 422.47C709.68 422.14 714.73 420.71 718.02 419.1C721.31 417.49 723.63 415.01 725.24 412.8C726.84 410.6 727.24 408.15 727.64 405.87C728.05 403.59 727.64 400.23 727.64 399.11" fill="none" stroke="#fff" stroke-width="3.3"/>
<path d="M581.54 385.45C580.02 385.13 575.67 384.24 572.38 383.57C569.1 382.91 565.1 382.15 561.81 381.44C558.53 380.72 555.24 379.58 552.65 379.27C550.07 378.96 548.31 378.96 546.31 379.58C544.32 380.19 542.91 381.05 540.68 382.96C538.44 384.86 535.74 387.73 532.92 391.02C530.11 394.3 526.82 399.7 523.76 402.67C520.71 405.64 517.66 407.82 514.6 408.82C511.55 409.82 508.5 409.52 505.44 408.69C502.39 407.85 498.69 405.82 496.28 403.82C493.88 401.82 492.17 399.06 491 396.66C489.82 394.27 489.53 391.78 489.24 389.45C488.94 387.12 489.24 383.81 489.24 382.68" fill="none" stroke-width="5.1"/>
<path d="M581.54 385.45C580.02 385.13 575.67 384.24 572.38 383.57C569.1 382.91 565.1 382.15 561.81 381.44C558.53 380.72 555.24 379.58 552.65 379.27C550.07 378.96 548.31 378.96 546.31 379.58C544.32 380.19 542.91 381.05 540.68 382.96C538.44 384.86 535.74 387.73 532.92 391.02C530.11 394.3 526.82 399.7 523.76 402.67C520.71 405.64 517.66 407.82 514.6 408.82C511.55 409.82 508.5 409.52 505.44 408.69C502.39 407.85 498.69 405.82 496.28 403.82C493.88 401.82 492.17 399.06 491 396.66C489.82 394.27 489.53 391.78 489.24 389.45C488.94 387.12 489.24 383.81 489.24 382.68" fill="none" stroke="#fff" stroke-width="3.3"/>
<path d="M598.46 385.45C599.98 385.13 604.33 384.24 607.62 383.57C610.9 382.91 614.9 382.15 618.19 381.44C621.47 380.72 624.76 379.58 627.35 379.27C629.93 378.96 631.69 378.96 633.69 379.58C635.68 380.19 637.09 381.05 639.32 382.96C641.56 384.86 644.26 387.73 647.08 391.02C649.89 394.3 653.18 399.7 656.24 402.67C659.29 405.64 662.34 407.82 665.4 408.82C668.45 409.82 671.5 409.52 674.56 408.69C677.61 407.85 681.31 405.82 683.72 403.82C686.12 401.82 687.83 399.06 689 396.66C690.18 394.27 690.47 391.78 690.76 389.45C691.06 387.12 690.76 383.81 690.76 382.68" fill="none" stroke-width="5.1"/>
<path d="M598.46 385.45C599.98 385.13 604.33 384.24 607.62 383.57C610.9 382.91 614.9 382.15 618.19 381.44C621.47 380.72 624.76 379.58 627.35 379.27C629.93 378.96 631.69 378.96 633.69 379.58C635.68 380.19 637.09 381.05 639.32 382.96C641.56 384.86 644.26 387.73 647.08 391.02C649.89 394.3 653.18 399.7 656.24 402.67C659.29 405.64 662.34 407.82 665.4 408.82C668.45 409.82 671.5 409.52 674.56 408.69C677.61 407.85 681.31 405.82 683.72 403.82C686.12 401.82 687.83 399.06 689 396.66C690.18 394.27 690.47 391.78 690.76 389.45C691.06 387.12 690.76 383.81 690.76 382.68" fill="none" stroke="#fff" stroke-width="3.3"/>
<path d="M586.91 384.65C586.35 384.19 584.76 382.89 583.55 381.92C582.35 380.94 580.89 379.81 579.68 378.78C578.48 377.76 577.28 376.31 576.33 375.76C575.38 375.21 574.74 375.04 574.01 375.46C573.28 375.89 572.76 376.62 571.95 378.32C571.13 380.01 570.14 382.62 569.11 385.64C568.08 388.66 566.87 393.76 565.76 396.44C564.64 399.12 563.52 401.01 562.4 401.73C561.29 402.44 560.17 401.85 559.05 400.73C557.93 399.61 556.58 397.23 555.7 395C554.82 392.77 554.19 389.85 553.76 387.35C553.33 384.84 553.23 382.32 553.12 379.96C553.01 377.6 553.12 374.32 553.12 373.2" fill="none" stroke-width="5.1"/>
<path d="M586.91 384.65C586.35 384.19 584.76 382.89 583.55 381.92C582.35 380.94 580.89 379.81 579.68 378.78C578.48 377.76 577.28 376.31 576.33 375.76C575.38 375.21 574.74 375.04 574.01 375.46C573.28 375.89 572.76 376.62 571.95 378.32C571.13 380.01 570.14 382.62 569.11 385.64C568.08 388.66 566.87 393.76 565.76 396.44C564.64 399.12 563.52 401.01 562.4 401.73C561.29 402.44 560.17 401.85 559.05 400.73C557.93 399.61 556.58 397.23 555.7 395C554.82 392.77 554.19 389.85 553.76 387.35C553.33 384.84 553.23 382.32 553.12 379.96C553.01 377.6 553.12 374.32 553.12 373.2" fill="none" stroke="#fff" stroke-width="3.3"/>
<path d="M593.09 384.65C593.65 384.19 595.24 382.89 596.45 381.92C597.65 380.94 599.11 379.81 600.32 378.78C601.52 377.76 602.72 376.31 603.67 375.76C604.62 375.21 605.26 375.04 605.99 375.46C606.72 375.89 607.24 376.62 608.05 378.32C608.87 380.01 609.86 382.62 610.89 385.64C611.92 388.66 613.13 393.76 614.24 396.44C615.36 399.12 616.48 401.01 617.6 401.73C618.71 402.44 619.83 401.85 620.95 400.73C622.07 399.61 623.42 397.23 624.3 395C625.18 392.77 625.81 389.85 626.24 387.35C626.67 384.84 626.77 382.32 626.88 379.96C626.99 377.6 626.88 374.32 626.88 373.2" fill="none" stroke-width="5.1"/>
<path d="M593.09 384.65C593.65 384.19 595.24 382.89 596.45 381.92C597.65 380.94 599.11 379.81 600.32 378.78C601.52 377.76 602.72 376.31 603.67 375.76C604.62 375.21 605.26 375.04 605.99 375.46C606.72 375.89 607.24 376.62 608.05 378.32C608.87 380.01 609.86 382.62 610.89 385.64C611.92 388.66 613.13 393.76 614.24 396.44C615.36 399.12 616.48 401.01 617.6 401.73C618.71 402.44 619.83 401.85 620.95 400.73C622.07 399.61 623.42 397.23 624.3 395C625.18 392.77 625.81 389.85 626.24 387.35C626.67 384.84 626.77 382.32 626.88 379.96C626.99 377.6 626.88 374.32 626.88 373.2" fill="none" stroke="#fff" stroke-width="3.3"/>
<path d="M435.86 325.86A16.5 3.39 0 0 1 468.86 325.86Q474.26 346.1 477.46 367.22A25.1 6.45 0 0 1 427.26 367.22Q430.46 346.1 435.86 325.86Z" fill="#fff" stroke-width="0.9"/>
<ellipse cx="452.36" cy="367.22" rx="25.1" ry="6.45" fill="#fff" stroke-width="0.9"/>
<ellipse cx="452.36" cy="367.51" rx="22.9" ry="5.89" fill="#fff" stroke-width="0.9"/>
<path d="M427.66 365.28A24.7 6.35 0 0 1 477.06 365.28" fill="none" stroke-width="0.63"/>
<path d="M447.16 363.34L447.26 363.09L447.55 362.84L448.03 362.61L448.68 362.41L450.37 362.12L452.36 362.01L454.35 362.12L456.03 362.41L456.68 362.61L457.16 362.84L457.46 363.09L457.56 363.34L457.56 368.19L457.46 368.44L457.16 368.69L456.68 368.93L456.03 369.13L454.35 369.42L452.36 369.52L450.37 369.42L448.68 369.13L448.03 368.93L447.55 368.69L447.26 368.44L447.16 368.19Z" fill="#fff" stroke-width="0.72"/>
<path d="M447.16 368.18A5.2 1.34 0 0 1 457.56 368.18" fill="none" stroke-width="0.72"/>
<path d="M436.28 369.74A20.1 5.17 0 0 0 468.44 369.74" fill="none" stroke-width="0.54"/>
<path d="M441.16 376.09L441.85 374.02L442.16 373.32L442.56 372.62L443.04 371.99L443.76 371.27L444.96 370.35L445.76 369.87L446.56 369.49L448.16 369L450.16 368.69L452.36 368.58L454.56 368.69L456.56 369L458.16 369.49L458.96 369.87L459.76 370.35L460.96 371.27L461.67 371.99L462.16 372.62L462.56 373.32L462.86 374.02L463.56 376.09L463.56 376.12L463.48 376.45L463.25 376.78L461.76 378.03L456.96 381.25L456.16 381.58L454.97 381.84L453.76 381.98L452.36 382.03L450.96 381.98L449.74 381.84L448.56 381.58L447.76 381.25L442.96 378.03L441.47 376.78L441.23 376.45L441.16 376.12Z" fill="#fff" stroke-width="1.12"/>
<path d="M449.98 369.25L442.84 374.59L447.31 378.69M450.96 368.95L446.76 373.61L449.39 378.12M451.88 368.84L450.45 373.27L451.35 377.91M452.83 368.84L454.26 373.27L453.37 377.91M453.76 368.95L457.96 373.61L455.33 378.12M454.74 369.25L461.88 374.59L457.4 378.69" fill="none" stroke-width="0.9"/>
<path d="M450.45 369.07L445.62 371.15L445.5 374M451.43 368.88L449.09 370.61L449.03 373.39M452.36 368.83L452.36 370.47L452.36 373.23M453.28 368.88L455.62 370.61L455.68 373.39M454.26 369.07L459.09 371.15L459.21 374" fill="none" stroke-width="0.9"/>
<path d="M441.16 376.11A11.2 2.88 0 0 1 463.56 376.11" fill="none" stroke-width="0.9"/>
<path d="M439.74 385.68L439.83 384.59L439.94 384.08L440.09 383.63L440.52 382.77L441.12 381.91L441.54 381.42L442.15 380.87L443.09 380.24L443.94 379.84L444.74 379.55L446.74 379.07L449.41 378.7L452.36 378.58L455.31 378.7L458.01 379.07L459.94 379.54L460.74 379.83L461.62 380.24L462.56 380.87L463.14 381.4L463.59 381.91L464.19 382.77L464.49 383.35L464.74 384L464.88 384.59L464.97 385.68L464.97 385.7L464.81 387.36L464.62 388.14L464.19 389.2L463.54 390.16L462.56 391.13L461.62 391.89L460.74 392.49L459.54 393.06L458.01 393.53L457.94 395.15L457.85 395.32L457.64 395.53L456.72 395.95L455.16 396.3L455.14 400.63L454.82 400.9L454.33 401.07L453.35 401.23L452.36 401.28L451.37 401.23L450.38 401.07L449.89 400.9L449.56 400.58L449.55 396.3L447.99 395.95L447.08 395.53L446.81 395.24L446.74 393.54L445.14 393.05L443.94 392.47L442.15 391.13L441.14 390.13L440.52 389.2L440.09 388.14L439.9 387.36L439.74 385.7Z" fill="#fff" stroke-width="0.9"/>
<path d="M441.78 390.41A10.58 2.72 0 0 1 462.94 390.41" fill="none" stroke-width="0.9"/>
<path d="M449.56 395.05A2.8 0.72 0 0 1 455.16 395.05" fill="none" stroke-width="0.9"/>
<path d="M444.36 391.96A8 2.06 0 0 1 460.36 391.96" fill="none" stroke-width="1.8"/>
<path d="M711.14 325.86A16.5 3.39 0 0 1 744.14 325.86Q749.54 346.1 752.74 367.22A25.1 6.45 0 0 1 702.54 367.22Q705.74 346.1 711.14 325.86Z" fill="#fff" stroke-width="0.9"/>
<ellipse cx="727.64" cy="367.22" rx="25.1" ry="6.45" fill="#fff" stroke-width="0.9"/>
<ellipse cx="727.64" cy="367.51" rx="22.9" ry="5.89" fill="#fff" stroke-width="0.9"/>
<path d="M702.94 365.28A24.7 6.35 0 0 1 752.34 365.28" fill="none" stroke-width="0.63"/>
<path d="M722.44 363.34L722.54 363.09L722.84 362.84L723.32 362.61L723.97 362.41L725.65 362.12L727.64 362.01L729.63 362.12L731.32 362.41L731.97 362.61L732.45 362.84L732.74 363.09L732.84 363.34L732.84 368.19L732.74 368.44L732.45 368.69L731.97 368.93L731.32 369.13L729.63 369.42L727.64 369.52L725.65 369.42L723.97 369.13L723.32 368.93L722.84 368.69L722.54 368.44L722.44 368.19Z" fill="#fff" stroke-width="0.72"/>
<path d="M722.44 368.18A5.2 1.34 0 0 1 732.84 368.18" fill="none" stroke-width="0.72"/>
<path d="M711.56 369.74A20.1 5.17 0 0 0 743.72 369.74" fill="none" stroke-width="0.54"/>
<path d="M716.44 376.09L717.14 374.02L717.44 373.32L717.84 372.62L718.33 371.99L719.04 371.27L720.24 370.35L721.04 369.87L721.84 369.49L723.44 369L725.44 368.69L727.64 368.58L729.84 368.69L731.84 369L733.44 369.49L734.24 369.87L735.04 370.35L736.24 371.27L736.96 371.99L737.44 372.62L737.84 373.32L738.15 374.02L738.84 376.09L738.84 376.12L738.77 376.45L738.53 376.78L737.04 378.03L732.24 381.25L731.44 381.58L730.26 381.84L729.04 381.98L727.64 382.03L726.24 381.98L725.03 381.84L723.84 381.58L723.04 381.25L718.24 378.03L716.75 376.78L716.52 376.45L716.44 376.12Z" fill="#fff" stroke-width="1.12"/>
<path d="M725.26 369.25L718.12 374.59L722.6 378.69M726.24 368.95L722.04 373.61L724.67 378.12M727.17 368.84L725.74 373.27L726.63 377.91M728.12 368.84L729.55 373.27L728.65 377.91M729.04 368.95L733.24 373.61L730.61 378.12M730.02 369.25L737.16 374.59L732.69 378.69" fill="none" stroke-width="0.9"/>
<path d="M725.74 369.07L720.91 371.15L720.79 374M726.72 368.88L724.38 370.61L724.32 373.39M727.64 368.83L727.64 370.47L727.64 373.23M728.57 368.88L730.91 370.61L730.97 373.39M729.55 369.07L734.38 371.15L734.5 374" fill="none" stroke-width="0.9"/>
<path d="M716.44 376.11A11.2 2.88 0 0 1 738.84 376.11" fill="none" stroke-width="0.9"/>
<path d="M715.03 385.68L715.12 384.59L715.23 384.08L715.38 383.63L715.81 382.77L716.41 381.91L716.83 381.42L717.44 380.87L718.38 380.24L719.23 379.84L720.03 379.55L722.03 379.07L724.7 378.7L727.64 378.58L730.59 378.7L733.29 379.07L735.23 379.54L736.03 379.83L736.91 380.24L737.85 380.87L738.43 381.4L738.88 381.91L739.48 382.77L739.78 383.35L740.03 384L740.17 384.59L740.26 385.68L740.26 385.7L740.1 387.36L739.91 388.14L739.48 389.2L738.83 390.16L737.85 391.13L736.91 391.89L736.03 392.49L734.83 393.06L733.29 393.53L733.23 395.15L733.14 395.32L732.92 395.53L732.01 395.95L730.45 396.3L730.43 400.63L730.11 400.9L729.62 401.07L728.63 401.23L727.64 401.28L726.65 401.23L725.67 401.07L725.18 400.9L724.85 400.58L724.84 396.3L723.28 395.95L722.36 395.53L722.09 395.24L722.03 393.54L720.43 393.05L719.23 392.47L717.44 391.13L716.43 390.13L715.81 389.2L715.38 388.14L715.19 387.36L715.03 385.7Z" fill="#fff" stroke-width="0.9"/>
<path d="M717.06 390.41A10.58 2.72 0 0 1 738.22 390.41" fill="none" stroke-width="0.9"/>
<path d="M724.84 395.05A2.8 0.72 0 0 1 730.44 395.05" fill="none" stroke-width="0.9"/>
<path d="M719.64 391.96A8 2.06 0 0 1 735.64 391.96" fill="none" stroke-width="1.8"/>
<path d="M472.74 309.43A16.5 3.39 0 0 1 505.74 309.43Q511.14 329.67 514.34 350.79A25.1 6.45 0 0 1 464.14 350.79Q467.34 329.67 472.74 309.43Z" fill="#fff" stroke-width="0.9"/>
<ellipse cx="489.24" cy="350.79" rx="25.1" ry="6.45" fill="#fff" stroke-width="0.9"/>
<ellipse cx="489.24" cy="351.08" rx="22.9" ry="5.89" fill="#fff" stroke-width="0.9"/>
<path d="M464.54 348.86A24.7 6.35 0 0 1 513.94 348.86" fill="none" stroke-width="0.63"/>
<path d="M484.04 346.92L484.14 346.66L484.43 346.41L484.91 346.18L485.56 345.98L487.25 345.69L489.24 345.59L491.23 345.69L492.91 345.98L493.56 346.18L494.04 346.41L494.34 346.66L494.44 346.92L494.44 351.77L494.34 352.02L494.04 352.27L493.56 352.5L492.91 352.7L491.23 352.99L489.24 353.09L487.25 352.99L485.56 352.7L484.91 352.5L484.43 352.27L484.14 352.02L484.04 351.77Z" fill="#fff" stroke-width="0.72"/>
<path d="M484.04 351.76A5.2 1.34 0 0 1 494.44 351.76" fill="none" stroke-width="0.72"/>
<path d="M473.16 353.31A20.1 5.17 0 0 0 505.32 353.31" fill="none" stroke-width="0.54"/>
<path d="M478.04 359.67L478.73 357.59L479.04 356.89L479.44 356.19L479.92 355.56L480.64 354.84L481.84 353.93L482.64 353.45L483.44 353.07L485.04 352.58L487.04 352.26L489.24 352.16L491.44 352.26L493.44 352.58L495.04 353.07L495.84 353.45L496.64 353.93L497.84 354.84L498.55 355.56L499.04 356.19L499.44 356.89L499.75 357.59L500.44 359.67L500.44 359.69L500.36 360.02L500.13 360.35L498.64 361.6L493.84 364.82L493.04 365.16L491.85 365.42L490.64 365.55L489.24 365.61L487.84 365.55L486.62 365.42L485.44 365.16L484.64 364.82L479.84 361.6L478.35 360.35L478.11 360.02L478.04 359.69Z" fill="#fff" stroke-width="1.12"/>
<path d="M486.86 352.83L479.72 358.16L484.19 362.27M487.84 352.52L483.64 357.19L486.27 361.69M488.76 352.42L487.33 356.84L488.23 361.49M489.71 352.42L491.14 356.84L490.25 361.49M490.64 352.52L494.84 357.19L492.21 361.69M491.62 352.83L498.76 358.16L494.29 362.27" fill="none" stroke-width="0.9"/>
<path d="M487.33 352.64L482.51 354.72L482.38 357.57M488.31 352.45L485.97 354.19L485.91 356.96M489.24 352.4L489.24 354.04L489.24 356.8M490.16 352.45L492.5 354.19L492.56 356.96M491.14 352.64L495.97 354.72L496.09 357.57" fill="none" stroke-width="0.9"/>
<path d="M478.04 359.68A11.2 2.88 0 0 1 500.44 359.68" fill="none" stroke-width="0.9"/>
<path d="M476.62 369.25L476.71 368.17L476.82 367.65L476.97 367.2L477.4 366.34L478 365.48L478.42 364.99L479.03 364.44L479.98 363.82L480.82 363.41L481.62 363.12L483.62 362.64L486.29 362.27L489.24 362.15L492.19 362.28L494.89 362.65L496.82 363.11L497.62 363.4L498.5 363.82L499.44 364.44L500.02 364.97L500.48 365.48L501.07 366.34L501.38 366.92L501.62 367.58L501.76 368.17L501.85 369.25L501.85 369.28L501.69 370.93L501.5 371.72L501.07 372.78L500.42 373.73L499.44 374.71L498.5 375.46L497.62 376.06L496.42 376.63L494.89 377.11L494.82 378.72L494.74 378.89L494.52 379.1L493.6 379.52L492.04 379.87L492.02 384.2L491.7 384.47L491.21 384.64L490.23 384.8L489.24 384.85L488.25 384.8L487.26 384.64L486.78 384.47L486.44 384.15L486.44 379.87L484.87 379.52L483.96 379.1L483.69 378.81L483.62 377.12L482.02 376.62L480.82 376.05L479.03 374.71L478.02 373.71L477.4 372.78L476.97 371.72L476.78 370.93L476.62 369.28Z" fill="#fff" stroke-width="0.9"/>
<path d="M478.66 373.98A10.58 2.72 0 0 1 499.82 373.98" fill="none" stroke-width="0.9"/>
<path d="M486.44 378.62A2.8 0.72 0 0 1 492.04 378.62" fill="none" stroke-width="0.9"/>
<path d="M481.24 375.53A8 2.06 0 0 1 497.24 375.53" fill="none" stroke-width="1.8"/>
<path d="M674.26 309.43A16.5 3.39 0 0 1 707.26 309.43Q712.66 329.67 715.86 350.79A25.1 6.45 0 0 1 665.66 350.79Q668.86 329.67 674.26 309.43Z" fill="#fff" stroke-width="0.9"/>
<ellipse cx="690.76" cy="350.79" rx="25.1" ry="6.45" fill="#fff" stroke-width="0.9"/>
<ellipse cx="690.76" cy="351.08" rx="22.9" ry="5.89" fill="#fff" stroke-width="0.9"/>
<path d="M666.06 348.86A24.7 6.35 0 0 1 715.46 348.86" fill="none" stroke-width="0.63"/>
<path d="M685.56 346.92L685.66 346.66L685.96 346.41L686.44 346.18L687.09 345.98L688.77 345.69L690.76 345.59L692.75 345.69L694.44 345.98L695.09 346.18L695.57 346.41L695.86 346.66L695.96 346.92L695.96 351.77L695.86 352.02L695.57 352.27L695.09 352.5L694.44 352.7L692.75 352.99L690.76 353.09L688.77 352.99L687.09 352.7L686.44 352.5L685.96 352.27L685.66 352.02L685.56 351.77Z" fill="#fff" stroke-width="0.72"/>
<path d="M685.56 351.76A5.2 1.34 0 0 1 695.96 351.76" fill="none" stroke-width="0.72"/>
<path d="M674.68 353.31A20.1 5.17 0 0 0 706.84 353.31" fill="none" stroke-width="0.54"/>
<path d="M679.56 359.67L680.25 357.59L680.56 356.89L680.96 356.19L681.45 355.56L682.16 354.84L683.36 353.93L684.16 353.45L684.96 353.07L686.56 352.58L688.56 352.26L690.76 352.16L692.96 352.26L694.96 352.58L696.56 353.07L697.36 353.45L698.16 353.93L699.36 354.84L700.08 355.56L700.56 356.19L700.96 356.89L701.27 357.59L701.96 359.67L701.96 359.69L701.89 360.02L701.65 360.35L700.16 361.6L695.36 364.82L694.56 365.16L693.38 365.42L692.16 365.55L690.76 365.61L689.36 365.55L688.15 365.42L686.96 365.16L686.16 364.82L681.36 361.6L679.87 360.35L679.64 360.02L679.56 359.69Z" fill="#fff" stroke-width="1.12"/>
<path d="M688.38 352.83L681.24 358.16L685.71 362.27M689.36 352.52L685.16 357.19L687.79 361.69M690.29 352.42L688.86 356.84L689.75 361.49M691.24 352.42L692.67 356.84L691.77 361.49M692.16 352.52L696.36 357.19L693.73 361.69M693.14 352.83L700.28 358.16L695.81 362.27" fill="none" stroke-width="0.9"/>
<path d="M688.86 352.64L684.03 354.72L683.91 357.57M689.84 352.45L687.5 354.19L687.44 356.96M690.76 352.4L690.76 354.04L690.76 356.8M691.69 352.45L694.03 354.19L694.09 356.96M692.67 352.64L697.49 354.72L697.62 357.57" fill="none" stroke-width="0.9"/>
<path d="M679.56 359.68A11.2 2.88 0 0 1 701.96 359.68" fill="none" stroke-width="0.9"/>
<path d="M678.15 369.25L678.24 368.17L678.35 367.65L678.5 367.2L678.93 366.34L679.52 365.48L679.95 364.99L680.56 364.44L681.5 363.82L682.35 363.41L683.15 363.12L685.15 362.64L687.82 362.27L690.76 362.15L693.71 362.28L696.41 362.65L698.35 363.11L699.15 363.4L700.02 363.82L700.97 364.44L701.55 364.97L702 365.48L702.6 366.34L702.9 366.92L703.15 367.58L703.29 368.17L703.38 369.25L703.38 369.28L703.22 370.93L703.03 371.72L702.6 372.78L701.95 373.73L700.97 374.71L700.02 375.46L699.15 376.06L697.95 376.63L696.41 377.11L696.35 378.72L696.26 378.89L696.04 379.1L695.13 379.52L693.56 379.87L693.55 384.2L693.22 384.47L692.74 384.64L691.75 384.8L690.76 384.85L689.77 384.8L688.79 384.64L688.3 384.47L687.96 384.15L687.96 379.87L686.4 379.52L685.48 379.1L685.21 378.81L685.15 377.12L683.55 376.62L682.35 376.05L680.56 374.71L679.55 373.71L678.93 372.78L678.5 371.72L678.31 370.93L678.15 369.28Z" fill="#fff" stroke-width="0.9"/>
<path d="M680.18 373.98A10.58 2.72 0 0 1 701.34 373.98" fill="none" stroke-width="0.9"/>
<path d="M687.96 378.62A2.8 0.72 0 0 1 693.56 378.62" fill="none" stroke-width="0.9"/>
<path d="M682.76 375.53A8 2.06 0 0 1 698.76 375.53" fill="none" stroke-width="1.8"/>
<path d="M536.62 299.95A16.5 3.39 0 0 1 569.62 299.95Q575.02 320.19 578.22 341.31A25.1 6.45 0 0 1 528.02 341.31Q531.22 320.19 536.62 299.95Z" fill="#fff" stroke-width="0.9"/>
<ellipse cx="553.12" cy="341.31" rx="25.1" ry="6.45" fill="#fff" stroke-width="0.9"/>
<ellipse cx="553.12" cy="341.6" rx="22.9" ry="5.89" fill="#fff" stroke-width="0.9"/>
<path d="M528.42 339.37A24.7 6.35 0 0 1 577.82 339.37" fill="none" stroke-width="0.63"/>
<path d="M547.92 337.43L548.02 337.18L548.31 336.93L548.79 336.7L549.44 336.5L551.13 336.21L553.12 336.1L555.11 336.21L556.8 336.5L557.44 336.7L557.92 336.93L558.22 337.18L558.32 337.43L558.32 342.28L558.22 342.53L557.92 342.79L557.44 343.02L556.8 343.22L555.11 343.51L553.12 343.61L551.13 343.51L549.44 343.22L548.79 343.02L548.31 342.79L548.02 342.53L547.92 342.28Z" fill="#fff" stroke-width="0.72"/>
<path d="M547.92 342.27A5.2 1.34 0 0 1 558.32 342.27" fill="none" stroke-width="0.72"/>
<path d="M537.04 343.83A20.1 5.17 0 0 0 569.2 343.83" fill="none" stroke-width="0.54"/>
<path d="M541.92 350.19L542.61 348.11L542.92 347.41L543.32 346.71L543.81 346.08L544.52 345.36L545.72 344.44L546.52 343.96L547.32 343.58L548.92 343.09L550.92 342.78L553.12 342.67L555.32 342.78L557.32 343.09L558.92 343.58L559.72 343.96L560.52 344.44L561.72 345.36L562.43 346.08L562.92 346.71L563.32 347.41L563.63 348.11L564.32 350.19L564.32 350.21L564.24 350.54L564.01 350.87L562.52 352.12L557.72 355.34L556.92 355.67L555.73 355.93L554.52 356.07L553.12 356.12L551.72 356.07L550.5 355.93L549.32 355.67L548.52 355.34L543.72 352.12L542.23 350.87L542 350.54L541.92 350.21Z" fill="#fff" stroke-width="1.12"/>
<path d="M550.74 343.35L543.6 348.68L548.07 352.78M551.72 343.04L547.52 347.7L550.15 352.21M552.64 342.93L551.21 347.36L552.11 352M553.59 342.93L555.02 347.36L554.13 352M554.52 343.04L558.72 347.7L556.09 352.21M555.5 343.35L562.64 348.68L558.17 352.78" fill="none" stroke-width="0.9"/>
<path d="M551.21 343.16L546.39 345.24L546.26 348.09M552.19 342.97L549.85 344.7L549.79 347.48M553.12 342.92L553.12 344.56L553.12 347.32M554.04 342.97L556.39 344.7L556.44 347.48M555.02 343.16L559.85 345.24L559.97 348.09" fill="none" stroke-width="0.9"/>
<path d="M541.92 350.2A11.2 2.88 0 0 1 564.32 350.2" fill="none" stroke-width="0.9"/>
<path d="M540.51 359.77L540.59 358.68L540.71 358.17L540.85 357.72L541.29 356.86L541.88 356L542.31 355.51L542.91 354.96L543.86 354.33L544.71 353.93L545.51 353.64L547.51 353.16L550.17 352.79L553.12 352.67L556.07 352.79L558.77 353.16L560.71 353.63L561.51 353.92L562.38 354.33L563.32 354.96L563.91 355.49L564.36 356L564.95 356.86L565.26 357.44L565.51 358.09L565.64 358.68L565.73 359.77L565.73 359.79L565.58 361.45L565.38 362.23L564.95 363.29L564.31 364.25L563.32 365.22L562.38 365.98L561.51 366.58L560.31 367.15L558.77 367.62L558.71 369.24L558.62 369.41L558.4 369.62L557.48 370.04L555.92 370.39L555.91 374.72L555.58 374.99L555.09 375.16L554.11 375.32L553.12 375.37L552.13 375.32L551.15 375.16L550.66 374.99L550.32 374.67L550.32 370.39L548.75 370.04L547.84 369.62L547.57 369.33L547.51 367.63L545.91 367.14L544.71 366.56L542.91 365.22L541.91 364.22L541.29 363.29L540.85 362.23L540.66 361.45L540.51 359.79Z" fill="#fff" stroke-width="0.9"/>
<path d="M542.54 364.5A10.58 2.72 0 0 1 563.7 364.5" fill="none" stroke-width="0.9"/>
<path d="M550.32 369.14A2.8 0.72 0 0 1 555.92 369.14" fill="none" stroke-width="0.9"/>
<path d="M545.12 366.05A8 2.06 0 0 1 561.12 366.05" fill="none" stroke-width="1.8"/>
<path d="M610.38 299.95A16.5 3.39 0 0 1 643.38 299.95Q648.78 320.19 651.98 341.31A25.1 6.45 0 0 1 601.78 341.31Q604.98 320.19 610.38 299.95Z" fill="#fff" stroke-width="0.9"/>
<ellipse cx="626.88" cy="341.31" rx="25.1" ry="6.45" fill="#fff" stroke-width="0.9"/>
<ellipse cx="626.88" cy="341.6" rx="22.9" ry="5.89" fill="#fff" stroke-width="0.9"/>
<path d="M602.18 339.37A24.7 6.35 0 0 1 651.58 339.37" fill="none" stroke-width="0.63"/>
<path d="M621.68 337.43L621.78 337.18L622.08 336.93L622.56 336.7L623.2 336.5L624.89 336.21L626.88 336.1L628.87 336.21L630.56 336.5L631.21 336.7L631.69 336.93L631.98 337.18L632.08 337.43L632.08 342.28L631.98 342.53L631.69 342.79L631.21 343.02L630.56 343.22L628.87 343.51L626.88 343.61L624.89 343.51L623.2 343.22L622.56 343.02L622.08 342.79L621.78 342.53L621.68 342.28Z" fill="#fff" stroke-width="0.72"/>
<path d="M621.68 342.27A5.2 1.34 0 0 1 632.08 342.27" fill="none" stroke-width="0.72"/>
<path d="M610.8 343.83A20.1 5.17 0 0 0 642.96 343.83" fill="none" stroke-width="0.54"/>
<path d="M615.68 350.19L616.37 348.11L616.68 347.41L617.08 346.71L617.57 346.08L618.28 345.36L619.48 344.44L620.28 343.96L621.08 343.58L622.68 343.09L624.68 342.78L626.88 342.67L629.08 342.78L631.08 343.09L632.68 343.58L633.48 343.96L634.28 344.44L635.48 345.36L636.19 346.08L636.68 346.71L637.08 347.41L637.39 348.11L638.08 350.19L638.08 350.21L638 350.54L637.77 350.87L636.28 352.12L631.48 355.34L630.68 355.67L629.5 355.93L628.28 356.07L626.88 356.12L625.48 356.07L624.27 355.93L623.08 355.67L622.28 355.34L617.48 352.12L615.99 350.87L615.76 350.54L615.68 350.21Z" fill="#fff" stroke-width="1.12"/>
<path d="M624.5 343.35L617.36 348.68L621.83 352.78M625.48 343.04L621.28 347.7L623.91 352.21M626.41 342.93L624.98 347.36L625.87 352M627.36 342.93L628.79 347.36L627.89 352M628.28 343.04L632.48 347.7L629.85 352.21M629.26 343.35L636.4 348.68L631.93 352.78" fill="none" stroke-width="0.9"/>
<path d="M624.98 343.16L620.15 345.24L620.03 348.09M625.96 342.97L623.61 344.7L623.56 347.48M626.88 342.92L626.88 344.56L626.88 347.32M627.81 342.97L630.15 344.7L630.21 347.48M628.79 343.16L633.61 345.24L633.74 348.09" fill="none" stroke-width="0.9"/>
<path d="M615.68 350.2A11.2 2.88 0 0 1 638.08 350.2" fill="none" stroke-width="0.9"/>
<path d="M614.27 359.77L614.36 358.68L614.47 358.17L614.62 357.72L615.05 356.86L615.64 356L616.07 355.51L616.68 354.96L617.62 354.33L618.47 353.93L619.27 353.64L621.27 353.16L623.94 352.79L626.88 352.67L629.83 352.79L632.53 353.16L634.47 353.63L635.27 353.92L636.14 354.33L637.09 354.96L637.67 355.49L638.12 356L638.71 356.86L639.02 357.44L639.27 358.09L639.41 358.68L639.49 359.77L639.49 359.79L639.34 361.45L639.15 362.23L638.71 363.29L638.07 364.25L637.09 365.22L636.14 365.98L635.27 366.58L634.07 367.15L632.53 367.62L632.47 369.24L632.38 369.41L632.16 369.62L631.25 370.04L629.68 370.39L629.67 374.72L629.34 374.99L628.85 375.16L627.87 375.32L626.88 375.37L625.89 375.32L624.91 375.16L624.42 374.99L624.08 374.67L624.08 370.39L622.52 370.04L621.6 369.62L621.33 369.33L621.27 367.63L619.67 367.14L618.47 366.56L616.68 365.22L615.67 364.22L615.05 363.29L614.62 362.23L614.42 361.45L614.27 359.79Z" fill="#fff" stroke-width="0.9"/>
<path d="M616.3 364.5A10.58 2.72 0 0 1 637.46 364.5" fill="none" stroke-width="0.9"/>
<path d="M624.08 369.14A2.8 0.72 0 0 1 629.68 369.14" fill="none" stroke-width="0.9"/>
<path d="M618.88 366.05A8 2.06 0 0 1 634.88 366.05" fill="none" stroke-width="1.8"/>
</g>
<g stroke="#000" stroke-linejoin="round" stroke-linecap="butt">
<path d="M71.96 35.1L71.99 34.77L72.14 34.24L72.43 33.84L73.18 33.36L74.16 32.98L75.59 32.61L77.36 32.32L79.36 32.14L81.5 32.08L83.73 32.15L85.49 32.3L87.36 32.6L88.75 32.95L89.82 33.36L90.57 33.84L90.86 34.24L91.01 34.77L91.04 35.1L91.04 35.12L90.95 35.53L90.68 36.01L89.63 37.29L88.75 38.25L88.25 39.06L87.98 39.71L87.7 41.21L86.96 43.91L86.48 44.52L85.76 45.02L84.8 45.36L82.99 45.82L81.5 45.93L80.01 45.82L78.16 45.35L77.17 44.98L76.52 44.52L76.16 44.08L75.76 42.91L75.3 41.21L75.02 39.71L74.75 39.06L74.49 38.57L74.16 38.14L73.36 37.29L72.32 36.01L72.05 35.53L71.96 35.12Z" fill="#fff" stroke-width="0.88"/>
<path d="M71.96 34.95A9.54 2.43 0 0 1 91.04 34.95" fill="none" stroke-width="0.88"/>
<path d="M75.05 39.68A6.45 1.64 0 0 1 87.95 39.68" fill="none" stroke-width="0.88"/>
<path d="M75.15 40.63A6.35 1.61 0 0 1 87.85 40.63" fill="none" stroke-width="0.88"/>
<path d="M76 43.74A5.5 1.4 0 0 1 87 43.74" fill="none" stroke-width="0.88"/>
<path d="M80.9 44.64L81.08 44.54L81.5 44.49L81.92 44.54L82.1 44.64L82.1 55.26L81.92 55.36L81.5 55.41L81.08 55.36L80.9 55.26Z" fill="#fff" stroke-width="0.88"/>
<path d="M80.4 55.25L80.48 55.15L80.72 55.06L81.5 54.98L82.28 55.06L82.52 55.15L82.6 55.26L82.6 58.22L82.52 58.33L82.28 58.42L81.5 58.5L80.72 58.42L80.48 58.33L80.4 58.22Z" fill="#444" stroke-width="0.88"/>
<path d="M81.5 58.22L81.5 60.99M81.5 65.39L81.5 71.36M81.5 75.76L81.5 81.73M81.5 86.13L81.5 90.52" fill="none" stroke-width="1.5"/>
<ellipse cx="81.5" cy="63.19" rx="1.35" ry="2.68" fill="#fff" stroke-width="1.1"/>
<ellipse cx="81.5" cy="73.56" rx="1.35" ry="2.68" fill="#fff" stroke-width="1.1"/>
<ellipse cx="81.5" cy="83.93" rx="1.35" ry="2.68" fill="#fff" stroke-width="1.1"/>
<path d="M54.81 136.32A8.25 1.68 0 0 1 71.31 136.32Q74.01 146.32 75.61 156.77A12.55 3.19 0 0 1 50.51 156.77Q52.11 146.32 54.81 136.32Z" fill="#fff" stroke-width="0.88"/>
<path d="M55.46 135.79L51.29 155.81M70.66 135.79L74.83 155.81" fill="none" stroke-width="0.53"/>
<ellipse cx="63.06" cy="156.77" rx="12.55" ry="3.19" fill="#fff" stroke-width="0.88"/>
<ellipse cx="63.06" cy="156.91" rx="11.45" ry="2.91" fill="#fff" stroke-width="0.88"/>
<path d="M50.71 155.81A12.35 3.14 0 0 1 75.41 155.81" fill="none" stroke-width="0.62"/>
<path d="M60.46 154.85L60.66 154.6L61.22 154.39L62.06 154.25L63.06 154.2L64.05 154.25L64.9 154.39L65.46 154.6L65.66 154.85L65.66 157.25L65.46 157.5L64.9 157.71L64.05 157.86L63.06 157.91L62.06 157.86L61.22 157.71L60.66 157.5L60.46 157.25Z" fill="#fff" stroke-width="0.7"/>
<path d="M60.46 157.25A2.6 0.66 0 0 1 65.66 157.25" fill="none" stroke-width="0.7"/>
<path d="M55.02 158.01A10.05 2.56 0 0 0 71.1 158.01" fill="none" stroke-width="0.53"/>
<path d="M57.46 162.59L57.73 161.03L58.06 159.76L58.4 159.06L58.8 158.63L59.59 158.13L60.71 157.71L61.75 157.52L63.06 157.44L64.37 157.52L65.4 157.71L66.53 158.13L67.32 158.63L67.72 159.06L68.06 159.76L68.39 161.03L68.66 162.59L68.66 162.61L68.5 162.93L67.83 163.49L65.26 165.19L64.37 165.43L63.06 165.53L61.75 165.43L60.86 165.19L58.28 163.49L57.61 162.93L57.46 162.61Z" fill="#fff" stroke-width="1.1"/>
<path d="M61.87 157.78L58.3 161.85L60.53 163.88M62.36 157.63L60.26 161.36L61.57 163.59M62.82 157.57L62.11 161.19L62.55 163.49M63.3 157.57L64.01 161.19L63.56 163.49M63.76 157.63L65.86 161.36L64.54 163.59M64.25 157.78L67.82 161.85L65.58 163.88" fill="none" stroke-width="0.88"/>
<path d="M62.11 157.68L59.69 159.43L59.63 161.55M62.6 157.59L61.43 159.16L61.4 161.25M63.06 157.57L63.06 159.09L63.06 161.17M63.52 157.59L64.69 159.16L64.72 161.25M64.01 157.68L66.43 159.43L66.49 161.55" fill="none" stroke-width="0.88"/>
<path d="M57.46 162.6A5.6 1.42 0 0 1 68.66 162.6" fill="none" stroke-width="0.88"/>
<path d="M56.75 167.33L56.87 166.48L57.23 165.75L57.68 165.2L58.43 164.64L59.15 164.33L60.26 164.06L61.59 163.88L63.06 163.82L64.55 163.88L65.92 164.07L66.95 164.33L67.75 164.68L68.44 165.2L69.06 166.03L69.32 166.79L69.37 167.33L69.37 167.35L69.29 168.16L69.13 168.73L68.89 169.24L68.44 169.78L67.69 170.4L67.15 170.76L66.56 171.01L65.86 171.22L65.81 172.1L65.7 172.2L65.24 172.41L64.46 172.58L64.46 174.7L64.29 174.86L64.05 174.94L63.06 175.04L62.32 174.99L61.75 174.82L61.66 174.7L61.66 172.58L60.88 172.41L60.42 172.2L60.31 172.1L60.26 171.22L59.56 171.01L58.95 170.75L58.43 170.4L57.68 169.78L57.23 169.24L56.99 168.73L56.83 168.16L56.75 167.35Z" fill="#fff" stroke-width="0.88"/>
<path d="M57.77 169.67A5.29 1.35 0 0 1 68.35 169.67" fill="none" stroke-width="0.88"/>
<path d="M61.66 171.96A1.4 0.36 0 0 1 64.46 171.96" fill="none" stroke-width="0.88"/>
<path d="M59.06 170.44A4 1.02 0 0 1 67.06 170.44" fill="none" stroke-width="1.76"/>
<path d="M79.95 147.57C79.67 147.87 78.88 148.74 78.28 149.4C77.67 150.06 76.94 150.89 76.34 151.52C75.74 152.16 75.14 152.58 74.67 153.21C74.19 153.83 73.87 154.36 73.5 155.27C73.14 156.17 72.88 157.02 72.47 158.63C72.06 160.25 71.57 162.48 71.05 164.95C70.54 167.42 69.94 171.08 69.38 173.47C68.82 175.86 68.26 177.85 67.7 179.27C67.14 180.68 66.58 181.45 66.03 181.96C65.47 182.46 64.79 182.57 64.35 182.31C63.91 182.04 63.6 181.19 63.38 180.36C63.17 179.52 63.11 178.38 63.06 177.32C63.01 176.25 63.06 174.53 63.06 173.97" fill="none" stroke-width="2.98"/>
<path d="M79.95 147.57C79.67 147.87 78.88 148.74 78.28 149.4C77.67 150.06 76.94 150.89 76.34 151.52C75.74 152.16 75.14 152.58 74.67 153.21C74.19 153.83 73.87 154.36 73.5 155.27C73.14 156.17 72.88 157.02 72.47 158.63C72.06 160.25 71.57 162.48 71.05 164.95C70.54 167.42 69.94 171.08 69.38 173.47C68.82 175.86 68.26 177.85 67.7 179.27C67.14 180.68 66.58 181.45 66.03 181.96C65.47 182.46 64.79 182.57 64.35 182.31C63.91 182.04 63.6 181.19 63.38 180.36C63.17 179.52 63.11 178.38 63.06 177.32C63.01 176.25 63.06 174.53 63.06 173.97" fill="none" stroke="#fff" stroke-width="1.22"/>
<path d="M91.69 136.32A8.25 1.68 0 0 1 108.19 136.32Q110.89 146.32 112.49 156.77A12.55 3.19 0 0 1 87.39 156.77Q88.99 146.32 91.69 136.32Z" fill="#fff" stroke-width="0.88"/>
<path d="M92.34 135.79L88.17 155.81M107.54 135.79L111.71 155.81" fill="none" stroke-width="0.53"/>
<ellipse cx="99.94" cy="156.77" rx="12.55" ry="3.19" fill="#fff" stroke-width="0.88"/>
<ellipse cx="99.94" cy="156.91" rx="11.45" ry="2.91" fill="#fff" stroke-width="0.88"/>
<path d="M87.59 155.81A12.35 3.14 0 0 1 112.29 155.81" fill="none" stroke-width="0.62"/>
<path d="M97.34 154.85L97.54 154.6L98.1 154.39L98.95 154.25L99.94 154.2L100.94 154.25L101.78 154.39L102.34 154.6L102.54 154.85L102.54 157.25L102.34 157.5L101.78 157.71L100.94 157.86L99.94 157.91L98.95 157.86L98.1 157.71L97.54 157.5L97.34 157.25Z" fill="#fff" stroke-width="0.7"/>
<path d="M97.34 157.25A2.6 0.66 0 0 1 102.54 157.25" fill="none" stroke-width="0.7"/>
<path d="M91.9 158.01A10.05 2.56 0 0 0 107.98 158.01" fill="none" stroke-width="0.53"/>
<path d="M94.34 162.59L94.61 161.03L94.94 159.76L95.28 159.06L95.68 158.63L96.47 158.13L97.6 157.71L98.63 157.52L99.94 157.44L101.25 157.52L102.29 157.71L103.41 158.13L104.2 158.63L104.6 159.06L104.94 159.76L105.27 161.03L105.54 162.59L105.54 162.61L105.39 162.93L104.72 163.49L102.14 165.19L101.25 165.43L99.94 165.53L98.63 165.43L97.74 165.19L95.17 163.49L94.5 162.93L94.34 162.61Z" fill="#fff" stroke-width="1.1"/>
<path d="M98.75 157.78L95.18 161.85L97.42 163.88M99.24 157.63L97.14 161.36L98.46 163.59M99.7 157.57L98.99 161.19L99.44 163.49M100.18 157.57L100.89 161.19L100.45 163.49M100.64 157.63L102.74 161.36L101.43 163.59M101.13 157.78L104.7 161.85L102.47 163.88" fill="none" stroke-width="0.88"/>
<path d="M98.99 157.68L96.57 159.43L96.51 161.55M99.48 157.59L98.31 159.16L98.28 161.25M99.94 157.57L99.94 159.09L99.94 161.17M100.4 157.59L101.57 159.16L101.6 161.25M100.89 157.68L103.31 159.43L103.37 161.55" fill="none" stroke-width="0.88"/>
<path d="M94.34 162.6A5.6 1.42 0 0 1 105.54 162.6" fill="none" stroke-width="0.88"/>
<path d="M93.63 167.33L93.76 166.48L94.11 165.75L94.56 165.2L95.31 164.64L96.04 164.33L97.14 164.06L98.47 163.88L99.94 163.82L101.43 163.88L102.8 164.07L103.83 164.33L104.63 164.68L105.32 165.2L105.94 166.03L106.2 166.79L106.25 167.33L106.25 167.35L106.17 168.16L106.01 168.73L105.77 169.24L105.32 169.78L104.57 170.4L104.04 170.76L103.44 171.01L102.74 171.22L102.69 172.1L102.58 172.2L102.12 172.41L101.34 172.58L101.34 174.7L101.17 174.86L100.93 174.94L99.94 175.04L99.2 174.99L98.63 174.82L98.54 174.7L98.54 172.58L97.76 172.41L97.3 172.2L97.19 172.1L97.14 171.22L96.44 171.01L95.83 170.75L95.31 170.4L94.56 169.78L94.11 169.24L93.87 168.73L93.71 168.16L93.63 167.35Z" fill="#fff" stroke-width="0.88"/>
<path d="M94.65 169.67A5.29 1.35 0 0 1 105.23 169.67" fill="none" stroke-width="0.88"/>
<path d="M98.54 171.96A1.4 0.36 0 0 1 101.34 171.96" fill="none" stroke-width="0.88"/>
<path d="M95.94 170.44A4 1.02 0 0 1 103.94 170.44" fill="none" stroke-width="1.76"/>
<path d="M83.05 147.57C83.33 147.87 84.12 148.74 84.72 149.4C85.33 150.06 86.06 150.89 86.66 151.52C87.26 152.16 87.86 152.58 88.33 153.21C88.81 153.83 89.13 154.36 89.5 155.27C89.86 156.17 90.12 157.02 90.53 158.63C90.94 160.25 91.43 162.48 91.95 164.95C92.46 167.42 93.06 171.08 93.62 173.47C94.18 175.86 94.74 177.85 95.3 179.27C95.86 180.68 96.42 181.45 96.97 181.96C97.53 182.46 98.21 182.57 98.65 182.31C99.09 182.04 99.4 181.19 99.62 180.36C99.83 179.52 99.89 178.38 99.94 177.32C99.99 176.25 99.94 174.53 99.94 173.97" fill="none" stroke-width="2.98"/>
<path d="M83.05 147.57C83.33 147.87 84.12 148.74 84.72 149.4C85.33 150.06 86.06 150.89 86.66 151.52C87.26 152.16 87.86 152.58 88.33 153.21C88.81 153.83 89.13 154.36 89.5 155.27C89.86 156.17 90.12 157.02 90.53 158.63C90.94 160.25 91.43 162.48 91.95 164.95C92.46 167.42 93.06 171.08 93.62 173.47C94.18 175.86 94.74 177.85 95.3 179.27C95.86 180.68 96.42 181.45 96.97 181.96C97.53 182.46 98.21 182.57 98.65 182.31C99.09 182.04 99.4 181.19 99.62 180.36C99.83 179.52 99.89 178.38 99.94 177.32C99.99 176.25 99.94 174.53 99.94 173.97" fill="none" stroke="#fff" stroke-width="1.22"/>
<path d="M22.87 131.63A8.25 1.68 0 0 1 39.37 131.63Q42.07 141.63 43.67 152.08A12.55 3.19 0 0 1 18.57 152.08Q20.17 141.63 22.87 131.63Z" fill="#fff" stroke-width="0.88"/>
<path d="M23.52 131.1L19.35 151.12M38.72 131.1L42.89 151.12" fill="none" stroke-width="0.53"/>
<ellipse cx="31.12" cy="152.08" rx="12.55" ry="3.19" fill="#fff" stroke-width="0.88"/>
<ellipse cx="31.12" cy="152.22" rx="11.45" ry="2.91" fill="#fff" stroke-width="0.88"/>
<path d="M18.77 151.12A12.35 3.14 0 0 1 43.47 151.12" fill="none" stroke-width="0.62"/>
<path d="M28.52 150.16L28.72 149.91L29.28 149.7L30.12 149.56L31.12 149.51L32.11 149.56L32.96 149.7L33.52 149.91L33.72 150.16L33.72 152.56L33.52 152.81L32.96 153.02L32.11 153.17L31.12 153.22L30.12 153.17L29.28 153.02L28.72 152.81L28.52 152.56Z" fill="#fff" stroke-width="0.7"/>
<path d="M28.52 152.56A2.6 0.66 0 0 1 33.72 152.56" fill="none" stroke-width="0.7"/>
<path d="M23.08 153.33A10.05 2.56 0 0 0 39.16 153.33" fill="none" stroke-width="0.53"/>
<path d="M25.52 157.9L25.79 156.34L26.12 155.07L26.46 154.37L26.86 153.94L27.65 153.44L28.77 153.02L29.81 152.83L31.12 152.75L32.43 152.83L33.46 153.02L34.59 153.44L35.38 153.94L35.77 154.37L36.12 155.07L36.44 156.34L36.72 157.9L36.72 157.92L36.56 158.24L35.89 158.8L33.32 160.5L32.43 160.74L31.12 160.84L29.81 160.74L28.92 160.5L26.34 158.8L25.67 158.24L25.52 157.92Z" fill="#fff" stroke-width="1.1"/>
<path d="M29.93 153.09L26.36 157.16L28.59 159.19M30.42 152.94L28.32 156.68L29.63 158.9M30.88 152.88L30.17 156.51L30.61 158.8M31.36 152.88L32.07 156.51L31.62 158.8M31.82 152.94L33.92 156.68L32.6 158.9M32.31 153.09L35.88 157.16L33.64 159.19" fill="none" stroke-width="0.88"/>
<path d="M30.17 152.99L27.75 154.74L27.69 156.86M30.66 152.9L29.49 154.47L29.46 156.56M31.12 152.88L31.12 154.4L31.12 156.48M31.58 152.9L32.75 154.47L32.78 156.56M32.07 152.99L34.48 154.74L34.55 156.86" fill="none" stroke-width="0.88"/>
<path d="M25.52 157.91A5.6 1.42 0 0 1 36.72 157.91" fill="none" stroke-width="0.88"/>
<path d="M24.81 162.64L24.93 161.79L25.29 161.06L25.74 160.51L26.49 159.95L27.21 159.64L28.32 159.37L29.65 159.19L31.12 159.13L32.61 159.19L33.98 159.38L35.01 159.64L35.81 159.99L36.5 160.51L37.12 161.34L37.38 162.11L37.42 162.64L37.42 162.66L37.35 163.47L37.19 164.04L36.94 164.55L36.5 165.09L35.75 165.71L35.21 166.07L34.62 166.32L33.92 166.53L33.87 167.41L33.76 167.51L33.3 167.72L32.52 167.89L32.52 170.01L32.35 170.17L32.11 170.25L31.12 170.35L30.38 170.3L29.81 170.13L29.72 170.01L29.72 167.89L28.94 167.72L28.48 167.51L28.37 167.41L28.32 166.53L27.62 166.32L27.01 166.06L26.49 165.71L25.74 165.09L25.29 164.55L25.05 164.04L24.89 163.47L24.81 162.66Z" fill="#fff" stroke-width="0.88"/>
<path d="M25.83 164.98A5.29 1.35 0 0 1 36.41 164.98" fill="none" stroke-width="0.88"/>
<path d="M29.72 167.27A1.4 0.36 0 0 1 32.52 167.27" fill="none" stroke-width="0.88"/>
<path d="M27.12 165.75A4 1.02 0 0 1 35.12 165.75" fill="none" stroke-width="1.76"/>
<path d="M77.27 147.18C76.51 147.41 74.34 148.07 72.69 148.58C71.05 149.08 69.05 149.73 67.41 150.21C65.76 150.69 64.12 150.97 62.83 151.47C61.54 151.97 60.65 152.42 59.66 153.23C58.66 154.04 57.95 154.83 56.84 156.34C55.72 157.85 54.37 159.95 52.96 162.29C51.55 164.64 49.91 168.14 48.38 170.39C46.86 172.63 45.33 174.49 43.8 175.76C42.28 177.03 40.75 177.66 39.22 178.02C37.7 178.39 35.85 178.32 34.64 177.94C33.44 177.56 32.59 176.63 32 175.75C31.41 174.86 31.27 173.7 31.12 172.63C30.97 171.55 31.12 169.84 31.12 169.28" fill="none" stroke-width="2.98"/>
<path d="M77.27 147.18C76.51 147.41 74.34 148.07 72.69 148.58C71.05 149.08 69.05 149.73 67.41 150.21C65.76 150.69 64.12 150.97 62.83 151.47C61.54 151.97 60.65 152.42 59.66 153.23C58.66 154.04 57.95 154.83 56.84 156.34C55.72 157.85 54.37 159.95 52.96 162.29C51.55 164.64 49.91 168.14 48.38 170.39C46.86 172.63 45.33 174.49 43.8 175.76C42.28 177.03 40.75 177.66 39.22 178.02C37.7 178.39 35.85 178.32 34.64 177.94C33.44 177.56 32.59 176.63 32 175.75C31.41 174.86 31.27 173.7 31.12 172.63C30.97 171.55 31.12 169.84 31.12 169.28" fill="none" stroke="#fff" stroke-width="1.22"/>
<path d="M123.63 131.63A8.25 1.68 0 0 1 140.13 131.63Q142.83 141.63 144.43 152.08A12.55 3.19 0 0 1 119.33 152.08Q120.93 141.63 123.63 131.63Z" fill="#fff" stroke-width="0.88"/>
<path d="M124.28 131.1L120.11 151.12M139.48 131.1L143.65 151.12" fill="none" stroke-width="0.53"/>
<ellipse cx="131.88" cy="152.08" rx="12.55" ry="3.19" fill="#fff" stroke-width="0.88"/>
<ellipse cx="131.88" cy="152.22" rx="11.45" ry="2.91" fill="#fff" stroke-width="0.88"/>
<path d="M119.53 151.12A12.35 3.14 0 0 1 144.23 151.12" fill="none" stroke-width="0.62"/>
<path d="M129.28 150.16L129.48 149.91L130.04 149.7L130.89 149.56L131.88 149.51L132.88 149.56L133.72 149.7L134.28 149.91L134.48 150.16L134.48 152.56L134.28 152.81L133.72 153.02L132.88 153.17L131.88 153.22L130.89 153.17L130.04 153.02L129.48 152.81L129.28 152.56Z" fill="#fff" stroke-width="0.7"/>
<path d="M129.28 152.56A2.6 0.66 0 0 1 134.48 152.56" fill="none" stroke-width="0.7"/>
<path d="M123.84 153.33A10.05 2.56 0 0 0 139.92 153.33" fill="none" stroke-width="0.53"/>
<path d="M126.28 157.9L126.56 156.34L126.88 155.07L127.23 154.37L127.62 153.94L128.41 153.44L129.54 153.02L130.57 152.83L131.88 152.75L133.19 152.83L134.23 153.02L135.35 153.44L136.14 153.94L136.54 154.37L136.88 155.07L137.21 156.34L137.48 157.9L137.48 157.92L137.33 158.24L136.66 158.8L134.08 160.5L133.19 160.74L131.88 160.84L130.57 160.74L129.68 160.5L127.11 158.8L126.44 158.24L126.28 157.92Z" fill="#fff" stroke-width="1.1"/>
<path d="M130.69 153.09L127.12 157.16L129.36 159.19M131.18 152.94L129.08 156.68L130.4 158.9M131.64 152.88L130.93 156.51L131.38 158.8M132.12 152.88L132.83 156.51L132.39 158.8M132.58 152.94L134.68 156.68L133.37 158.9M133.07 153.09L136.64 157.16L134.41 159.19" fill="none" stroke-width="0.88"/>
<path d="M130.93 152.99L128.52 154.74L128.45 156.86M131.42 152.9L130.25 154.47L130.22 156.56M131.88 152.88L131.88 154.4L131.88 156.48M132.34 152.9L133.51 154.47L133.54 156.56M132.83 152.99L135.25 154.74L135.31 156.86" fill="none" stroke-width="0.88"/>
<path d="M126.28 157.91A5.6 1.42 0 0 1 137.48 157.91" fill="none" stroke-width="0.88"/>
<path d="M125.58 162.64L125.7 161.79L126.06 161.06L126.5 160.51L127.25 159.95L127.98 159.64L129.08 159.37L130.41 159.19L131.88 159.13L133.37 159.19L134.74 159.38L135.77 159.64L136.57 159.99L137.26 160.51L137.88 161.34L138.14 162.11L138.19 162.64L138.19 162.66L138.11 163.47L137.95 164.04L137.71 164.55L137.26 165.09L136.51 165.71L135.98 166.07L135.38 166.32L134.68 166.53L134.63 167.41L134.52 167.51L134.06 167.72L133.28 167.89L133.28 170.01L133.11 170.17L132.87 170.25L131.88 170.35L131.14 170.3L130.57 170.13L130.48 170.01L130.48 167.89L129.7 167.72L129.24 167.51L129.13 167.41L129.08 166.53L128.38 166.32L127.77 166.06L127.25 165.71L126.5 165.09L126.06 164.55L125.81 164.04L125.65 163.47L125.58 162.66Z" fill="#fff" stroke-width="0.88"/>
<path d="M126.59 164.98A5.29 1.35 0 0 1 137.17 164.98" fill="none" stroke-width="0.88"/>
<path d="M130.48 167.27A1.4 0.36 0 0 1 133.28 167.27" fill="none" stroke-width="0.88"/>
<path d="M127.88 165.75A4 1.02 0 0 1 135.88 165.75" fill="none" stroke-width="1.76"/>
<path d="M85.73 147.18C86.49 147.41 88.66 148.07 90.31 148.58C91.95 149.08 93.95 149.73 95.59 150.21C97.24 150.69 98.88 150.97 100.17 151.47C101.46 151.97 102.35 152.42 103.34 153.23C104.34 154.04 105.05 154.83 106.16 156.34C107.28 157.85 108.63 159.95 110.04 162.29C111.45 164.64 113.09 168.14 114.62 170.39C116.14 172.63 117.67 174.49 119.2 175.76C120.72 177.03 122.25 177.66 123.78 178.02C125.3 178.39 127.15 178.32 128.36 177.94C129.56 177.56 130.41 176.63 131 175.75C131.59 174.86 131.73 173.7 131.88 172.63C132.03 171.55 131.88 169.84 131.88 169.28" fill="none" stroke-width="2.98"/>
<path d="M85.73 147.18C86.49 147.41 88.66 148.07 90.31 148.58C91.95 149.08 93.95 149.73 95.59 150.21C97.24 150.69 98.88 150.97 100.17 151.47C101.46 151.97 102.35 152.42 103.34 153.23C104.34 154.04 105.05 154.83 106.16 156.34C107.28 157.85 108.63 159.95 110.04 162.29C111.45 164.64 113.09 168.14 114.62 170.39C116.14 172.63 117.67 174.49 119.2 175.76C120.72 177.03 122.25 177.66 123.78 178.02C125.3 178.39 127.15 178.32 128.36 177.94C129.56 177.56 130.41 176.63 131 175.75C131.59 174.86 131.73 173.7 131.88 172.63C132.03 171.55 131.88 169.84 131.88 169.28" fill="none" stroke="#fff" stroke-width="1.22"/>
<path d="M4.43 123.5A8.25 1.68 0 0 1 20.93 123.5Q23.63 133.51 25.23 143.96A12.55 3.19 0 0 1 0.13 143.96Q1.73 133.51 4.43 123.5Z" fill="#fff" stroke-width="0.88"/>
<path d="M5.08 122.98L0.91 143M20.28 122.98L24.45 143" fill="none" stroke-width="0.53"/>
<ellipse cx="12.68" cy="143.96" rx="12.55" ry="3.19" fill="#fff" stroke-width="0.88"/>
<ellipse cx="12.68" cy="144.1" rx="11.45" ry="2.91" fill="#fff" stroke-width="0.88"/>
<path d="M0.33 143A12.35 3.14 0 0 1 25.03 143" fill="none" stroke-width="0.62"/>
<path d="M10.08 142.04L10.28 141.79L10.84 141.58L11.68 141.43L12.68 141.38L13.67 141.43L14.52 141.58L15.08 141.79L15.28 142.04L15.28 144.44L15.08 144.69L14.52 144.9L13.67 145.04L12.68 145.1L11.68 145.04L10.84 144.9L10.28 144.69L10.08 144.44Z" fill="#fff" stroke-width="0.7"/>
<path d="M10.08 144.43A2.6 0.66 0 0 1 15.28 144.43" fill="none" stroke-width="0.7"/>
<path d="M4.64 145.2A10.05 2.56 0 0 0 20.72 145.2" fill="none" stroke-width="0.53"/>
<path d="M7.08 149.78L7.35 148.22L7.68 146.95L8.02 146.25L8.42 145.82L9.21 145.32L10.33 144.9L11.37 144.7L12.68 144.63L13.99 144.7L15.02 144.9L16.14 145.32L16.94 145.82L17.33 146.25L17.68 146.95L18 148.22L18.28 149.78L18.28 149.79L18.12 150.12L17.45 150.68L14.88 152.38L13.99 152.62L12.68 152.72L11.37 152.62L10.48 152.38L7.9 150.68L7.23 150.12L7.08 149.79Z" fill="#fff" stroke-width="1.1"/>
<path d="M11.49 144.96L7.92 149.04L10.15 151.06M11.98 144.81L9.88 148.55L11.19 150.78M12.44 144.76L11.73 148.38L12.17 150.68M12.92 144.76L13.63 148.38L13.18 150.68M13.38 144.81L15.48 148.55L14.16 150.78M13.87 144.96L17.44 149.04L15.2 151.06" fill="none" stroke-width="0.88"/>
<path d="M11.73 144.87L9.31 146.62L9.25 148.74M12.22 144.78L11.04 146.35L11.01 148.44M12.68 144.75L12.68 146.28L12.68 148.36M13.14 144.78L14.31 146.35L14.34 148.44M13.63 144.87L16.04 146.62L16.1 148.74" fill="none" stroke-width="0.88"/>
<path d="M7.08 149.79A5.6 1.42 0 0 1 18.28 149.79" fill="none" stroke-width="0.88"/>
<path d="M6.37 154.52L6.49 153.67L6.85 152.94L7.3 152.39L8.05 151.83L8.77 151.52L9.88 151.25L11.21 151.07L12.68 151.01L14.17 151.07L15.54 151.26L16.57 151.51L17.37 151.86L18.05 152.39L18.68 153.22L18.94 153.98L18.98 154.52L18.98 154.53L18.91 155.35L18.75 155.92L18.5 156.43L18.05 156.97L17.31 157.59L16.77 157.94L16.18 158.2L15.48 158.41L15.43 159.28L15.32 159.39L14.86 159.6L14.08 159.77L14.08 161.89L13.91 162.05L13.66 162.13L12.68 162.23L11.94 162.18L11.37 162L11.28 161.89L11.28 159.77L10.5 159.6L10.04 159.39L9.93 159.28L9.88 158.41L9.17 158.2L8.57 157.94L8.05 157.59L7.3 156.97L6.85 156.43L6.61 155.92L6.45 155.35L6.37 154.53Z" fill="#fff" stroke-width="0.88"/>
<path d="M7.39 156.86A5.29 1.35 0 0 1 17.97 156.86" fill="none" stroke-width="0.88"/>
<path d="M11.28 159.15A1.4 0.36 0 0 1 14.08 159.15" fill="none" stroke-width="0.88"/>
<path d="M8.68 157.62A4 1.02 0 0 1 16.68 157.62" fill="none" stroke-width="1.76"/>
<path d="M75.72 146.49C74.68 146.6 71.71 146.92 69.47 147.16C67.22 147.4 64.49 147.72 62.25 147.94C60 148.15 57.76 148.16 55.99 148.46C54.23 148.75 53.02 149.06 51.66 149.71C50.3 150.36 49.33 151.03 47.81 152.36C46.29 153.69 44.44 155.58 42.52 157.69C40.59 159.81 38.35 163.05 36.26 165.05C34.17 167.05 32.09 168.65 30 169.68C27.92 170.71 25.83 171.09 23.75 171.21C21.66 171.32 19.13 170.96 17.49 170.39C15.85 169.82 14.68 168.75 13.88 167.77C13.08 166.79 12.88 165.61 12.68 164.5C12.48 163.4 12.68 161.72 12.68 161.16" fill="none" stroke-width="2.98"/>
<path d="M75.72 146.49C74.68 146.6 71.71 146.92 69.47 147.16C67.22 147.4 64.49 147.72 62.25 147.94C60 148.15 57.76 148.16 55.99 148.46C54.23 148.75 53.02 149.06 51.66 149.71C50.3 150.36 49.33 151.03 47.81 152.36C46.29 153.69 44.44 155.58 42.52 157.69C40.59 159.81 38.35 163.05 36.26 165.05C34.17 167.05 32.09 168.65 30 169.68C27.92 170.71 25.83 171.09 23.75 171.21C21.66 171.32 19.13 170.96 17.49 170.39C15.85 169.82 14.68 168.75 13.88 167.77C13.08 166.79 12.88 165.61 12.68 164.5C12.48 163.4 12.68 161.72 12.68 161.16" fill="none" stroke="#fff" stroke-width="1.22"/>
<path d="M142.07 123.5A8.25 1.68 0 0 1 158.57 123.5Q161.27 133.51 162.87 143.96A12.55 3.19 0 0 1 137.77 143.96Q139.37 133.51 142.07 123.5Z" fill="#fff" stroke-width="0.88"/>
<path d="M142.72 122.98L138.55 143M157.92 122.98L162.09 143" fill="none" stroke-width="0.53"/>
<ellipse cx="150.32" cy="143.96" rx="12.55" ry="3.19" fill="#fff" stroke-width="0.88"/>
<ellipse cx="150.32" cy="144.1" rx="11.45" ry="2.91" fill="#fff" stroke-width="0.88"/>
<path d="M137.97 143A12.35 3.14 0 0 1 162.67 143" fill="none" stroke-width="0.62"/>
<path d="M147.72 142.04L147.92 141.79L148.48 141.58L149.33 141.43L150.32 141.38L151.32 141.43L152.16 141.58L152.72 141.79L152.92 142.04L152.92 144.44L152.72 144.69L152.16 144.9L151.32 145.04L150.32 145.1L149.33 145.04L148.48 144.9L147.92 144.69L147.72 144.44Z" fill="#fff" stroke-width="0.7"/>
<path d="M147.72 144.43A2.6 0.66 0 0 1 152.92 144.43" fill="none" stroke-width="0.7"/>
<path d="M142.28 145.2A10.05 2.56 0 0 0 158.36 145.2" fill="none" stroke-width="0.53"/>
<path d="M144.72 149.78L145 148.22L145.32 146.95L145.67 146.25L146.06 145.82L146.86 145.32L147.98 144.9L149.01 144.7L150.32 144.63L151.63 144.7L152.67 144.9L153.79 145.32L154.58 145.82L154.98 146.25L155.32 146.95L155.65 148.22L155.92 149.78L155.92 149.79L155.77 150.12L155.1 150.68L152.52 152.38L151.63 152.62L150.32 152.72L149.01 152.62L148.12 152.38L145.55 150.68L144.88 150.12L144.72 149.79Z" fill="#fff" stroke-width="1.1"/>
<path d="M149.13 144.96L145.56 149.04L147.8 151.06M149.62 144.81L147.52 148.55L148.84 150.78M150.08 144.76L149.37 148.38L149.82 150.68M150.56 144.76L151.27 148.38L150.83 150.68M151.02 144.81L153.12 148.55L151.81 150.78M151.51 144.96L155.08 149.04L152.85 151.06" fill="none" stroke-width="0.88"/>
<path d="M149.37 144.87L146.96 146.62L146.9 148.74M149.86 144.78L148.69 146.35L148.66 148.44M150.32 144.75L150.32 146.28L150.32 148.36M150.78 144.78L151.96 146.35L151.99 148.44M151.27 144.87L153.69 146.62L153.75 148.74" fill="none" stroke-width="0.88"/>
<path d="M144.72 149.79A5.6 1.42 0 0 1 155.92 149.79" fill="none" stroke-width="0.88"/>
<path d="M144.02 154.52L144.14 153.67L144.5 152.94L144.95 152.39L145.69 151.83L146.42 151.52L147.52 151.25L148.85 151.07L150.32 151.01L151.82 151.07L153.19 151.26L154.22 151.51L155.02 151.86L155.7 152.39L156.32 153.22L156.58 153.98L156.63 154.52L156.63 154.53L156.55 155.35L156.39 155.92L156.15 156.43L155.7 156.97L154.95 157.59L154.42 157.94L153.83 158.2L153.12 158.41L153.07 159.28L152.96 159.39L152.5 159.6L151.72 159.77L151.72 161.89L151.55 162.05L151.31 162.13L150.32 162.23L149.58 162.18L149.02 162L148.92 161.89L148.92 159.77L148.14 159.6L147.68 159.39L147.57 159.28L147.52 158.41L146.82 158.2L146.22 157.94L145.69 157.59L144.95 156.97L144.5 156.43L144.25 155.92L144.09 155.35L144.02 154.53Z" fill="#fff" stroke-width="0.88"/>
<path d="M145.03 156.86A5.29 1.35 0 0 1 155.61 156.86" fill="none" stroke-width="0.88"/>
<path d="M148.92 159.15A1.4 0.36 0 0 1 151.72 159.15" fill="none" stroke-width="0.88"/>
<path d="M146.32 157.62A4 1.02 0 0 1 154.32 157.62" fill="none" stroke-width="1.76"/>
<path d="M87.28 146.49C88.32 146.6 91.29 146.92 93.53 147.16C95.78 147.4 98.51 147.72 100.75 147.94C103 148.15 105.24 148.16 107.01 148.46C108.77 148.75 109.98 149.06 111.34 149.71C112.7 150.36 113.67 151.03 115.19 152.36C116.71 153.69 118.56 155.58 120.48 157.69C122.41 159.81 124.65 163.05 126.74 165.05C128.83 167.05 130.91 168.65 133 169.68C135.08 170.71 137.17 171.09 139.25 171.21C141.34 171.32 143.87 170.96 145.51 170.39C147.15 169.82 148.32 168.75 149.12 167.77C149.92 166.79 150.12 165.61 150.32 164.5C150.52 163.4 150.32 161.72 150.32 161.16" fill="none" stroke-width="2.98"/>
<path d="M87.28 146.49C88.32 146.6 91.29 146.92 93.53 147.16C95.78 147.4 98.51 147.72 100.75 147.94C103 148.15 105.24 148.16 107.01 148.46C108.77 148.75 109.98 149.06 111.34 149.71C112.7 150.36 113.67 151.03 115.19 152.36C116.71 153.69 118.56 155.58 120.48 157.69C122.41 159.81 124.65 163.05 126.74 165.05C128.83 167.05 130.91 168.65 133 169.68C135.08 170.71 137.17 171.09 139.25 171.21C141.34 171.32 143.87 170.96 145.51 170.39C147.15 169.82 148.32 168.75 149.12 167.77C149.92 166.79 150.12 165.61 150.32 164.5C150.52 163.4 150.32 161.72 150.32 161.16" fill="none" stroke="#fff" stroke-width="1.22"/>
<path d="M71.9 94.14L72.02 93.55L72.37 92.75L72.78 92.38L73.31 92.08L74.2 91.73L75.56 91.38L76.9 91.14L78.53 90.96L78.89 90.83L79.63 90.11L80 89.91L80.7 89.71L81.5 89.62L82.3 89.71L83 89.91L83.37 90.11L84.11 90.83L84.47 90.96L86.1 91.14L87.44 91.38L88.8 91.73L89.69 92.08L90.22 92.38L90.63 92.75L90.98 93.55L91.1 94.14L91.1 94.17L90.98 94.76L90.74 95.38L90.37 95.82L89.48 96.32L88.02 96.83L87.3 97.34L86.83 97.79L86.5 98.45L86.25 99.46L86.1 101.16L85.86 101.51L85.17 101.84L84.11 102.1L82.9 102.25L81.5 102.3L80.1 102.25L78.89 102.1L77.83 101.84L77.14 101.51L76.9 101.16L76.75 99.46L76.5 98.45L76.17 97.79L75.7 97.34L74.98 96.83L73.52 96.32L72.63 95.82L72.26 95.38L72.02 94.76L71.9 94.17Z" fill="#fff" stroke-width="0.88"/>
<path d="M72.2 93.2A9.3 2.37 0 0 1 90.8 93.2" fill="none" stroke-width="0.88"/>
<path d="M72.2 95.11A9.3 2.37 0 0 1 90.8 95.11" fill="none" stroke-width="0.88"/>
<path d="M76.7 98.93A4.8 1.22 0 0 1 86.3 98.93" fill="none" stroke-width="0.88"/>
<path d="M77.3 104.09L77.42 103.02L77.62 102.34L77.92 101.86L78.3 101.49L79.17 100.9L79.59 100.72L80.52 100.55L81.5 100.5L82.48 100.55L83.41 100.72L83.83 100.9L84.7 101.49L85.08 101.86L85.38 102.34L85.58 103.02L85.7 104.09L85.7 104.1L85.58 105.1L85.38 105.71L84.99 106.31L84.47 106.79L83.83 107.29L83.41 107.47L82.48 107.64L81.5 107.69L80.52 107.64L79.59 107.47L79.17 107.29L78.53 106.79L78.01 106.31L77.62 105.71L77.42 105.1L77.3 104.1Z" fill="#fff" stroke-width="0.88"/>
<path d="M77.3 104.09A4.2 1.07 0 0 1 85.7 104.09" fill="none" stroke-width="0.88"/>
<path d="M80.3 100.62L78.98 103.24L80.15 106.55M81.1 100.51L80.66 103.05L81.05 106.43M81.9 100.51L82.34 103.05L81.95 106.43M82.7 100.62L84.02 103.24L82.85 106.55" fill="none" stroke-width="0.66"/>
<path d="M76.4 108.39L76.54 106.8L76.72 106.59L77 106.41L77.75 106.12L78.84 105.89L80.12 105.74L81.5 105.69L82.88 105.74L84.2 105.89L85.25 106.12L86.04 106.43L86.35 106.65L86.5 106.94L86.6 108.39L86.6 108.4L86.5 108.65L86.2 108.9L85.74 109.12L85.11 109.31L83.45 109.59L81.5 109.69L79.55 109.59L77.89 109.31L77.26 109.12L76.79 108.89L76.5 108.65L76.4 108.4Z" fill="#fff" stroke-width="0.88"/>
<path d="M76.5 106.96A5 1.27 0 0 1 86.5 106.96" fill="none" stroke-width="0.88"/>
<path d="M76.05 108.48L76.15 108.22L76.46 107.96L76.97 107.72L77.65 107.51L79.41 107.21L81.5 107.11L83.59 107.21L85.35 107.51L86.03 107.72L86.54 107.96L86.85 108.22L86.95 108.48L86.95 108.5L86.85 109.23L86.68 109.74L85.91 111.15L85.35 112.46L84.85 114.17L84.65 115.61L84.25 115.88L83.59 116.09L82.65 116.23L81.5 116.28L80.25 116.22L79.22 116.04L78.65 115.84L78.47 115.73L78.3 115.49L78.15 114.17L77.65 112.46L77.09 111.15L76.32 109.74L76.15 109.23L76.05 108.5Z" fill="#fff" stroke="none"/>
<path d="M78.3 115.28L78.15 114.17L77.65 112.46L77.09 111.15L76.32 109.74L76.12 109.02L76.05 108.5L76.09 108.33L76.32 108.06L76.65 107.86L77.85 107.46L79.61 107.19L81.5 107.11L83.39 107.19L85.05 107.44L85.78 107.63L86.36 107.86L86.75 108.12L86.91 108.33L86.95 108.5L86.88 109.02L86.68 109.74L85.91 111.15L85.35 112.46L84.85 114.17L84.7 115.28" fill="none" stroke-width="0.88"/>
<path d="M73.9 128.84L73.95 127.75L74.05 127.14L74.6 125.22L75.53 123.01L77.28 119.62L77.4 119.48L77.79 118.51L78.05 117.67L78.25 116.67L78.32 115.38L78.59 115.13L79.3 114.88L80.31 114.71L81.5 114.65L82.69 114.71L83.7 114.88L84.41 115.13L84.68 115.38L84.75 116.67L84.95 117.67L85.3 118.79L85.6 119.48L85.72 119.62L87.47 123.01L88.4 125.22L88.95 127.14L89.05 127.75L89.1 128.84L89.1 128.86L88.95 130.4L88.63 131.76L87.98 133.13L87.47 133.92L86.87 134.67L85.47 135.99L84.95 136.29L83.56 136.63L81.5 136.77L79.44 136.63L78.05 136.29L77.53 135.99L76.13 134.67L75.53 133.92L75.02 133.13L74.37 131.76L74.05 130.4L73.9 128.86Z" fill="#fff" stroke="none"/>
<path d="M84.7 116.18L84.95 117.67L85.3 118.79L85.6 119.48L85.72 119.62L87.47 123.01L88.4 125.22L88.73 126.22L88.95 127.14L89.09 128.36L89.01 130.08L88.89 130.79L88.63 131.76L87.98 133.13L87.47 133.92L86.87 134.67L85.47 135.99L84.95 136.29L84.1 136.54L82.9 136.71L81.5 136.77L80.1 136.71L78.9 136.54L78.05 136.29L77.53 135.99L76.13 134.67L75.53 133.92L75.02 133.13L74.37 131.76L74.11 130.79L73.99 130.08L73.91 128.36L74.05 127.14L74.27 126.22L74.6 125.22L75.53 123.01L77.53 119.16L78.05 117.67L78.3 116.18" fill="none" stroke-width="0.88"/>
<path d="M77.7 118.72A3.8 0.97 0 0 1 85.3 118.72" fill="none" stroke-width="0.88"/>
<path d="M75.5 123.16A6 1.53 0 0 1 87.5 123.16" fill="none" stroke-width="0.88"/>
<path d="M73.9 128.85A7.6 1.93 0 0 0 89.1 128.85" fill="none" stroke-width="0.88"/>
<path d="M77.6 135.72L77.67 135.54L77.9 135.35L78.74 135.03L80.01 134.81L81.5 134.74L82.99 134.81L84.26 135.03L85.1 135.35L85.33 135.54L85.4 135.72L85.4 138.56L85.33 138.74L85.1 138.93L83.8 139.52L82.71 139.73L81.5 139.79L80.2 139.72L79.21 139.52L77.9 138.93L77.67 138.74L77.6 138.56Z" fill="#fff" stroke="none"/>
<path d="M78.74 139.33L77.9 138.93L77.61 138.63L77.6 135.72L77.65 135.57L78.1 135.25L78.97 134.98L80.15 134.8L81.5 134.74L82.85 134.8L84.03 134.98L84.9 135.25L85.35 135.57L85.4 135.72L85.39 138.63L85.1 138.93L84.2 139.36" fill="none" stroke-width="0.88"/>
<path d="M76 142.13L76.42 141.13L76.81 140.51L77.46 139.83L78.63 138.81L79 138.6L79.8 138.4L81.5 138.26L83.2 138.4L84 138.6L84.37 138.81L85.54 139.83L86.19 140.51L86.58 141.13L87 142.13L87 142.14L86.85 142.46L86.49 142.72L85.82 143L85 143.22L85 147.41L84.91 147.6L84.37 147.9L83.6 148.1L82.6 148.24L81.5 148.28L80.43 148.24L79.4 148.1L78.6 147.89L78.09 147.6L78 147.41L78 143.22L77.18 143L76.51 142.72L76.15 142.46L76 142.14Z" fill="#fff" stroke="none"/>
<path d="M84.5 138.93L85.54 139.83L86.19 140.51L86.79 141.59L86.98 142.02L86.98 142.24L86.79 142.51L86.4 142.77L85.82 143L85 143.22L85 147.41L84.91 147.6L84.37 147.9L83.6 148.1L82.6 148.24L81.5 148.28L80.43 148.24L79.4 148.1L78.6 147.89L78.09 147.6L78 147.41L78 143.22L77.18 143L76.6 142.77L76.21 142.51L76.02 142.24L76.02 142.02L76.2 141.6L76.81 140.51L77.46 139.83L78.5 138.93" fill="none" stroke-width="0.88"/>
<path d="M77.6 138.55A3.9 0.99 0 0 1 85.4 138.55" fill="none" stroke-width="0.88"/>
<path d="M76 142.13A5.5 1.4 0 0 1 87 142.13" fill="none" stroke-width="0.88"/>
<path d="M73.55 146.79L73.75 146.12L74.04 145.76L74.56 145.43L75.45 145.09L76.58 144.8L78.15 144.55L79.75 144.41L81.5 144.36L83.35 144.41L84.83 144.55L86.42 144.8L87.55 145.09L88.44 145.43L88.96 145.76L89.23 146.08L89.45 146.79L89.45 146.81L89.3 147.4L88.85 148.08L86.17 149.76L85.35 150.53L83.96 152.05L83.66 152.2L83.05 152.37L81.5 152.5L79.95 152.37L79.35 152.21L79.04 152.05L77.61 150.49L76.83 149.76L74.15 148.08L73.7 147.4L73.55 146.81Z" fill="#fff" stroke-width="0.88"/>
<path d="M73.7 146.34A7.8 1.98 0 0 1 89.3 146.34" fill="none" stroke-width="0.88"/>
<path d="M73.9 147.58A7.6 1.93 0 0 1 89.1 147.58" fill="none" stroke-width="0.88"/>
<path d="M70.62 157.58L70.7 156.77L70.83 156.41L71.03 156.12L71.45 155.69L72.42 154.93L73.51 154.19L75.11 153.43L78.14 152.33L79.38 151.5L80.22 151.29L81.5 151.2L82.78 151.29L83.62 151.5L84.86 152.33L87.89 153.43L89.49 154.19L90.54 154.9L91.55 155.69L91.97 156.12L92.17 156.41L92.3 156.77L92.38 157.58L92.38 157.61L92.34 158.87L92.08 160.09L91.7 160.97L90.99 161.94L90.3 162.62L89.62 163.16L88.82 163.68L87.89 164.18L86.25 164.81L84.86 165.13L83.62 165.33L81.5 165.45L79.22 165.3L78.02 165.11L76.8 164.82L75.22 164.23L73.51 163.26L72.7 162.62L72.02 161.95L71.22 160.85L70.92 160.09L70.66 158.87L70.62 157.61Z" fill="#fff" stroke-width="0.88"/>
<path d="M71 156.47A10.5 2.67 0 0 1 92 156.47" fill="none" stroke-width="0.88"/>
<path d="M70.65 158.76A10.85 2.76 0 0 1 92.35 158.76" fill="none" stroke-width="0.88"/>
<path d="M72.6 162.2A8.9 2.26 0 0 1 90.4 162.2" fill="none" stroke-width="0.88"/>
<path d="M77.3 166.31L77.62 164.98L77.92 164.53L78.3 164.25L79.17 163.87L79.74 163.71L80.52 163.59L81.5 163.55L82.48 163.59L83.26 163.71L83.83 163.87L84.7 164.25L85.08 164.53L85.38 164.98L85.7 166.31L85.7 166.32L85.62 166.52L84.69 167.65L84.47 167.84L84.35 168.06L83.97 168.46L83.9 168.61L83.69 168.76L83.55 168.99L83.41 169.08L83.11 169.53L82.95 169.63L82.7 169.98L82.16 170.14L81.5 170.18L80.84 170.14L80.3 169.98L80.05 169.63L79.89 169.53L79.59 169.08L79.45 168.99L79.31 168.76L79.1 168.61L79.03 168.46L78.65 168.06L78.53 167.84L78.31 167.65L77.38 166.52L77.3 166.32Z" fill="#fff" stroke-width="0.88"/>
<path d="M77.3 166.31A4.2 1.07 0 0 1 85.7 166.31" fill="none" stroke-width="0.88"/>
<path d="M79.6 163.88L77.93 165.75L80.51 169.68M80.38 163.64L79.4 165.39L80.92 169.56M81.12 163.56L80.79 165.26L81.3 169.52M81.88 163.56L82.21 165.26L81.7 169.52M82.62 163.64L83.6 165.39L82.08 169.56M83.4 163.88L85.07 165.75L82.49 169.68" fill="none" stroke-width="0.66"/>
<path d="M79.95 171.18L80.07 170.46L80.25 170.15L80.69 169.88L81.5 169.72L82.31 169.88L82.75 170.15L82.93 170.46L83.05 171.18L83.05 171.19L82.93 171.91L82.75 172.23L82.26 172.56L81.86 172.71L81.5 172.75L81.14 172.71L80.74 172.56L80.25 172.23L80.07 171.91L79.95 171.19Z" fill="#fff" stroke-width="0.88"/>
<path d="M75.72 145.71C74.68 145.68 71.71 145.58 69.47 145.52C67.22 145.45 64.49 145.4 62.25 145.31C60 145.22 57.76 144.93 55.99 144.98C54.23 145.04 53.02 145.18 51.66 145.64C50.3 146.11 49.33 146.65 47.81 147.77C46.29 148.89 44.44 150.53 42.52 152.38C40.59 154.23 38.35 157.17 36.26 158.88C34.17 160.6 32.09 161.92 30 162.66C27.92 163.4 25.83 163.5 23.75 163.33C21.66 163.17 19.13 162.46 17.49 161.67C15.85 160.87 14.68 159.64 13.88 158.55C13.08 157.46 12.88 156.25 12.68 155.13C12.48 154 12.68 152.34 12.68 151.78" fill="none" stroke-width="2.98"/>
<path d="M75.72 145.71C74.68 145.68 71.71 145.58 69.47 145.52C67.22 145.45 64.49 145.4 62.25 145.31C60 145.22 57.76 144.93 55.99 144.98C54.23 145.04 53.02 145.18 51.66 145.64C50.3 146.11 49.33 146.65 47.81 147.77C46.29 148.89 44.44 150.53 42.52 152.38C40.59 154.23 38.35 157.17 36.26 158.88C34.17 160.6 32.09 161.92 30 162.66C27.92 163.4 25.83 163.5 23.75 163.33C21.66 163.17 19.13 162.46 17.49 161.67C15.85 160.87 14.68 159.64 13.88 158.55C13.08 157.46 12.88 156.25 12.68 155.13C12.48 154 12.68 152.34 12.68 151.78" fill="none" stroke="#fff" stroke-width="1.22"/>
<path d="M87.28 145.71C88.32 145.68 91.29 145.58 93.53 145.52C95.78 145.45 98.51 145.4 100.75 145.31C103 145.22 105.24 144.93 107.01 144.98C108.77 145.04 109.98 145.18 111.34 145.64C112.7 146.11 113.67 146.65 115.19 147.77C116.71 148.89 118.56 150.53 120.48 152.38C122.41 154.23 124.65 157.17 126.74 158.88C128.83 160.6 130.91 161.92 133 162.66C135.08 163.4 137.17 163.5 139.25 163.33C141.34 163.17 143.87 162.46 145.51 161.67C147.15 160.87 148.32 159.64 149.12 158.55C149.92 157.46 150.12 156.25 150.32 155.13C150.52 154 150.32 152.34 150.32 151.78" fill="none" stroke-width="2.98"/>
<path d="M87.28 145.71C88.32 145.68 91.29 145.58 93.53 145.52C95.78 145.45 98.51 145.4 100.75 145.31C103 145.22 105.24 144.93 107.01 144.98C108.77 145.04 109.98 145.18 111.34 145.64C112.7 146.11 113.67 146.65 115.19 147.77C116.71 148.89 118.56 150.53 120.48 152.38C122.41 154.23 124.65 157.17 126.74 158.88C128.83 160.6 130.91 161.92 133 162.66C135.08 163.4 137.17 163.5 139.25 163.33C141.34 163.17 143.87 162.46 145.51 161.67C147.15 160.87 148.32 159.64 149.12 158.55C149.92 157.46 150.12 156.25 150.32 155.13C150.52 154 150.32 152.34 150.32 151.78" fill="none" stroke="#fff" stroke-width="1.22"/>
<path d="M77.27 145.02C76.51 144.87 74.34 144.43 72.69 144.1C71.05 143.77 69.05 143.4 67.41 143.04C65.76 142.69 64.12 142.13 62.83 141.97C61.54 141.82 60.65 141.82 59.66 142.12C58.66 142.43 57.95 142.85 56.84 143.79C55.72 144.74 54.37 146.15 52.96 147.78C51.55 149.4 49.91 152.08 48.38 153.54C46.86 155.01 45.33 156.09 43.8 156.58C42.28 157.08 40.75 156.93 39.22 156.52C37.7 156.11 35.85 155.1 34.64 154.11C33.44 153.12 32.59 151.76 32 150.57C31.41 149.39 31.27 148.16 31.12 147C30.97 145.85 31.12 144.22 31.12 143.66" fill="none" stroke-width="2.98"/>
<path d="M77.27 145.02C76.51 144.87 74.34 144.43 72.69 144.1C71.05 143.77 69.05 143.4 67.41 143.04C65.76 142.69 64.12 142.13 62.83 141.97C61.54 141.82 60.65 141.82 59.66 142.12C58.66 142.43 57.95 142.85 56.84 143.79C55.72 144.74 54.37 146.15 52.96 147.78C51.55 149.4 49.91 152.08 48.38 153.54C46.86 155.01 45.33 156.09 43.8 156.58C42.28 157.08 40.75 156.93 39.22 156.52C37.7 156.11 35.85 155.1 34.64 154.11C33.44 153.12 32.59 151.76 32 150.57C31.41 149.39 31.27 148.16 31.12 147C30.97 145.85 31.12 144.22 31.12 143.66" fill="none" stroke="#fff" stroke-width="1.22"/>
<path d="M85.73 145.02C86.49 144.87 88.66 144.43 90.31 144.1C91.95 143.77 93.95 143.4 95.59 143.04C97.24 142.69 98.88 142.13 100.17 141.97C101.46 141.82 102.35 141.82 103.34 142.12C104.34 142.43 105.05 142.85 106.16 143.79C107.28 144.74 108.63 146.15 110.04 147.78C111.45 149.4 113.09 152.08 114.62 153.54C116.14 155.01 117.67 156.09 119.2 156.58C120.72 157.08 122.25 156.93 123.78 156.52C125.3 156.11 127.15 155.1 128.36 154.11C129.56 153.12 130.41 151.76 131 150.57C131.59 149.39 131.73 148.16 131.88 147C132.03 145.85 131.88 144.22 131.88 143.66" fill="none" stroke-width="2.98"/>
<path d="M85.73 145.02C86.49 144.87 88.66 144.43 90.31 144.1C91.95 143.77 93.95 143.4 95.59 143.04C97.24 142.69 98.88 142.13 100.17 141.97C101.46 141.82 102.35 141.82 103.34 142.12C104.34 142.43 105.05 142.85 106.16 143.79C107.28 144.74 108.63 146.15 110.04 147.78C111.45 149.4 113.09 152.08 114.62 153.54C116.14 155.01 117.67 156.09 119.2 156.58C120.72 157.08 122.25 156.93 123.78 156.52C125.3 156.11 127.15 155.1 128.36 154.11C129.56 153.12 130.41 151.76 131 150.57C131.59 149.39 131.73 148.16 131.88 147C132.03 145.85 131.88 144.22 131.88 143.66" fill="none" stroke="#fff" stroke-width="1.22"/>
<path d="M79.95 144.63C79.67 144.41 78.88 143.76 78.28 143.28C77.67 142.8 76.94 142.24 76.34 141.73C75.74 141.22 75.14 140.51 74.67 140.23C74.19 139.96 73.87 139.88 73.5 140.09C73.14 140.3 72.88 140.66 72.47 141.5C72.06 142.34 71.57 143.63 71.05 145.12C70.54 146.62 69.94 149.14 69.38 150.46C68.82 151.79 68.26 152.72 67.7 153.07C67.14 153.43 66.58 153.14 66.03 152.58C65.47 152.03 64.79 150.85 64.35 149.75C63.91 148.65 63.6 147.2 63.38 145.96C63.17 144.72 63.11 143.48 63.06 142.31C63.01 141.15 63.06 139.53 63.06 138.97" fill="none" stroke-width="2.98"/>
<path d="M79.95 144.63C79.67 144.41 78.88 143.76 78.28 143.28C77.67 142.8 76.94 142.24 76.34 141.73C75.74 141.22 75.14 140.51 74.67 140.23C74.19 139.96 73.87 139.88 73.5 140.09C73.14 140.3 72.88 140.66 72.47 141.5C72.06 142.34 71.57 143.63 71.05 145.12C70.54 146.62 69.94 149.14 69.38 150.46C68.82 151.79 68.26 152.72 67.7 153.07C67.14 153.43 66.58 153.14 66.03 152.58C65.47 152.03 64.79 150.85 64.35 149.75C63.91 148.65 63.6 147.2 63.38 145.96C63.17 144.72 63.11 143.48 63.06 142.31C63.01 141.15 63.06 139.53 63.06 138.97" fill="none" stroke="#fff" stroke-width="1.22"/>
<path d="M83.05 144.63C83.33 144.41 84.12 143.76 84.72 143.28C85.33 142.8 86.06 142.24 86.66 141.73C87.26 141.22 87.86 140.51 88.33 140.23C88.81 139.96 89.13 139.88 89.5 140.09C89.86 140.3 90.12 140.66 90.53 141.5C90.94 142.34 91.43 143.63 91.95 145.12C92.46 146.62 93.06 149.14 93.62 150.46C94.18 151.79 94.74 152.72 95.3 153.07C95.86 153.43 96.42 153.14 96.97 152.58C97.53 152.03 98.21 150.85 98.65 149.75C99.09 148.65 99.4 147.2 99.62 145.96C99.83 144.72 99.89 143.48 99.94 142.31C99.99 141.15 99.94 139.53 99.94 138.97" fill="none" stroke-width="2.98"/>
<path d="M83.05 144.63C83.33 144.41 84.12 143.76 84.72 143.28C85.33 142.8 86.06 142.24 86.66 141.73C87.26 141.22 87.86 140.51 88.33 140.23C88.81 139.96 89.13 139.88 89.5 140.09C89.86 140.3 90.12 140.66 90.53 141.5C90.94 142.34 91.43 143.63 91.95 145.12C92.46 146.62 93.06 149.14 93.62 150.46C94.18 151.79 94.74 152.72 95.3 153.07C95.86 153.43 96.42 153.14 96.97 152.58C97.53 152.03 98.21 150.85 98.65 149.75C99.09 148.65 99.4 147.2 99.62 145.96C99.83 144.72 99.89 143.48 99.94 142.31C99.99 141.15 99.94 139.53 99.94 138.97" fill="none" stroke="#fff" stroke-width="1.22"/>
<path d="M4.43 114.12A8.25 1.68 0 0 1 20.93 114.12Q23.63 124.13 25.23 134.58A12.55 3.19 0 0 1 0.13 134.58Q1.73 124.13 4.43 114.12Z" fill="#fff" stroke-width="0.88"/>
<path d="M5.08 113.6L0.91 133.62M20.28 113.6L24.45 133.62" fill="none" stroke-width="0.53"/>
<ellipse cx="12.68" cy="134.58" rx="12.55" ry="3.19" fill="#fff" stroke-width="0.88"/>
<ellipse cx="12.68" cy="134.72" rx="11.45" ry="2.91" fill="#fff" stroke-width="0.88"/>
<path d="M0.33 133.62A12.35 3.14 0 0 1 25.03 133.62" fill="none" stroke-width="0.62"/>
<path d="M10.08 132.66L10.28 132.41L10.84 132.2L11.68 132.05L12.68 132L13.67 132.05L14.52 132.2L15.08 132.41L15.28 132.66L15.28 135.06L15.08 135.31L14.52 135.52L13.67 135.67L12.68 135.72L11.68 135.67L10.84 135.52L10.28 135.31L10.08 135.06Z" fill="#fff" stroke-width="0.7"/>
<path d="M10.08 135.05A2.6 0.66 0 0 1 15.28 135.05" fill="none" stroke-width="0.7"/>
<path d="M4.64 135.82A10.05 2.56 0 0 0 20.72 135.82" fill="none" stroke-width="0.53"/>
<path d="M7.08 140.4L7.35 138.84L7.68 137.57L8.02 136.87L8.42 136.44L9.21 135.94L10.33 135.52L11.37 135.33L12.68 135.25L13.99 135.33L15.02 135.52L16.14 135.94L16.94 136.44L17.33 136.87L17.68 137.57L18 138.84L18.28 140.4L18.28 140.42L18.12 140.74L17.45 141.3L14.88 143L13.99 143.24L12.68 143.34L11.37 143.24L10.48 143L7.9 141.3L7.23 140.74L7.08 140.42Z" fill="#fff" stroke-width="1.1"/>
<path d="M11.49 135.58L7.92 139.66L10.15 141.69M11.98 135.43L9.88 139.17L11.19 141.4M12.44 135.38L11.73 139L12.17 141.3M12.92 135.38L13.63 139L13.18 141.3M13.38 135.43L15.48 139.17L14.16 141.4M13.87 135.58L17.44 139.66L15.2 141.69" fill="none" stroke-width="0.88"/>
<path d="M11.73 135.49L9.31 137.24L9.25 139.36M12.22 135.4L11.04 136.97L11.01 139.06M12.68 135.37L12.68 136.9L12.68 138.98M13.14 135.4L14.31 136.97L14.34 139.06M13.63 135.49L16.04 137.24L16.1 139.36" fill="none" stroke-width="0.88"/>
<path d="M7.08 140.41A5.6 1.42 0 0 1 18.28 140.41" fill="none" stroke-width="0.88"/>
<path d="M6.37 145.14L6.49 144.29L6.85 143.56L7.3 143.01L8.05 142.45L8.77 142.14L9.88 141.87L11.21 141.69L12.68 141.63L14.17 141.69L15.54 141.88L16.57 142.14L17.37 142.49L18.05 143.01L18.68 143.84L18.94 144.6L18.98 145.14L18.98 145.16L18.91 145.97L18.75 146.54L18.5 147.05L18.05 147.59L17.31 148.21L16.77 148.56L16.18 148.82L15.48 149.03L15.43 149.91L15.32 150.01L14.86 150.22L14.08 150.39L14.08 152.51L13.91 152.67L13.66 152.75L12.68 152.85L11.94 152.8L11.37 152.63L11.28 152.51L11.28 150.39L10.5 150.22L10.04 150.01L9.93 149.91L9.88 149.03L9.17 148.82L8.57 148.56L8.05 148.21L7.3 147.59L6.85 147.05L6.61 146.54L6.45 145.97L6.37 145.16Z" fill="#fff" stroke-width="0.88"/>
<path d="M7.39 147.48A5.29 1.35 0 0 1 17.97 147.48" fill="none" stroke-width="0.88"/>
<path d="M11.28 149.77A1.4 0.36 0 0 1 14.08 149.77" fill="none" stroke-width="0.88"/>
<path d="M8.68 148.24A4 1.02 0 0 1 16.68 148.24" fill="none" stroke-width="1.76"/>
<path d="M142.07 114.12A8.25 1.68 0 0 1 158.57 114.12Q161.27 124.13 162.87 134.58A12.55 3.19 0 0 1 137.77 134.58Q139.37 124.13 142.07 114.12Z" fill="#fff" stroke-width="0.88"/>
<path d="M142.72 113.6L138.55 133.62M157.92 113.6L162.09 133.62" fill="none" stroke-width="0.53"/>
<ellipse cx="150.32" cy="134.58" rx="12.55" ry="3.19" fill="#fff" stroke-width="0.88"/>
<ellipse cx="150.32" cy="134.72" rx="11.45" ry="2.91" fill="#fff" stroke-width="0.88"/>
<path d="M137.97 133.62A12.35 3.14 0 0 1 162.67 133.62" fill="none" stroke-width="0.62"/>
<path d="M147.72 132.66L147.92 132.41L148.48 132.2L149.33 132.05L150.32 132L151.32 132.05L152.16 132.2L152.72 132.41L152.92 132.66L152.92 135.06L152.72 135.31L152.16 135.52L151.32 135.67L150.32 135.72L149.33 135.67L148.48 135.52L147.92 135.31L147.72 135.06Z" fill="#fff" stroke-width="0.7"/>
<path d="M147.72 135.05A2.6 0.66 0 0 1 152.92 135.05" fill="none" stroke-width="0.7"/>
<path d="M142.28 135.82A10.05 2.56 0 0 0 158.36 135.82" fill="none" stroke-width="0.53"/>
<path d="M144.72 140.4L145 138.84L145.32 137.57L145.67 136.87L146.06 136.44L146.86 135.94L147.98 135.52L149.01 135.33L150.32 135.25L151.63 135.33L152.67 135.52L153.79 135.94L154.58 136.44L154.98 136.87L155.32 137.57L155.65 138.84L155.92 140.4L155.92 140.42L155.77 140.74L155.1 141.3L152.52 143L151.63 143.24L150.32 143.34L149.01 143.24L148.12 143L145.55 141.3L144.88 140.74L144.72 140.42Z" fill="#fff" stroke-width="1.1"/>
<path d="M149.13 135.58L145.56 139.66L147.8 141.69M149.62 135.43L147.52 139.17L148.84 141.4M150.08 135.38L149.37 139L149.82 141.3M150.56 135.38L151.27 139L150.83 141.3M151.02 135.43L153.12 139.17L151.81 141.4M151.51 135.58L155.08 139.66L152.85 141.69" fill="none" stroke-width="0.88"/>
<path d="M149.37 135.49L146.96 137.24L146.9 139.36M149.86 135.4L148.69 136.97L148.66 139.06M150.32 135.37L150.32 136.9L150.32 138.98M150.78 135.4L151.96 136.97L151.99 139.06M151.27 135.49L153.69 137.24L153.75 139.36" fill="none" stroke-width="0.88"/>
<path d="M144.72 140.41A5.6 1.42 0 0 1 155.92 140.41" fill="none" stroke-width="0.88"/>
<path d="M144.02 145.14L144.14 144.29L144.5 143.56L144.95 143.01L145.69 142.45L146.42 142.14L147.52 141.87L148.85 141.69L150.32 141.63L151.82 141.69L153.19 141.88L154.22 142.14L155.02 142.49L155.7 143.01L156.32 143.84L156.58 144.6L156.63 145.14L156.63 145.16L156.55 145.97L156.39 146.54L156.15 147.05L155.7 147.59L154.95 148.21L154.42 148.56L153.83 148.82L153.12 149.03L153.07 149.91L152.96 150.01L152.5 150.22L151.72 150.39L151.72 152.51L151.55 152.67L151.31 152.75L150.32 152.85L149.58 152.8L149.02 152.63L148.92 152.51L148.92 150.39L148.14 150.22L147.68 150.01L147.57 149.91L147.52 149.03L146.82 148.82L146.22 148.56L145.69 148.21L144.95 147.59L144.5 147.05L144.25 146.54L144.09 145.97L144.02 145.16Z" fill="#fff" stroke-width="0.88"/>
<path d="M145.03 147.48A5.29 1.35 0 0 1 155.61 147.48" fill="none" stroke-width="0.88"/>
<path d="M148.92 149.77A1.4 0.36 0 0 1 151.72 149.77" fill="none" stroke-width="0.88"/>
<path d="M146.32 148.24A4 1.02 0 0 1 154.32 148.24" fill="none" stroke-width="1.76"/>
<path d="M22.87 106A8.25 1.68 0 0 1 39.37 106Q42.07 116.01 43.67 126.45A12.55 3.19 0 0 1 18.57 126.45Q20.17 116.01 22.87 106Z" fill="#fff" stroke-width="0.88"/>
<path d="M23.52 105.48L19.35 125.5M38.72 105.48L42.89 125.5" fill="none" stroke-width="0.53"/>
<ellipse cx="31.12" cy="126.45" rx="12.55" ry="3.19" fill="#fff" stroke-width="0.88"/>
<ellipse cx="31.12" cy="126.6" rx="11.45" ry="2.91" fill="#fff" stroke-width="0.88"/>
<path d="M18.77 125.5A12.35 3.14 0 0 1 43.47 125.5" fill="none" stroke-width="0.62"/>
<path d="M28.52 124.54L28.72 124.29L29.28 124.08L30.12 123.93L31.12 123.88L32.11 123.93L32.96 124.08L33.52 124.29L33.72 124.54L33.72 126.94L33.52 127.19L32.96 127.4L32.11 127.54L31.12 127.59L30.12 127.54L29.28 127.4L28.72 127.19L28.52 126.94Z" fill="#fff" stroke-width="0.7"/>
<path d="M28.52 126.93A2.6 0.66 0 0 1 33.72 126.93" fill="none" stroke-width="0.7"/>
<path d="M23.08 127.7A10.05 2.56 0 0 0 39.16 127.7" fill="none" stroke-width="0.53"/>
<path d="M25.52 132.28L25.79 130.72L26.12 129.45L26.46 128.75L26.86 128.32L27.65 127.82L28.77 127.4L29.81 127.2L31.12 127.13L32.43 127.2L33.46 127.4L34.59 127.82L35.38 128.32L35.77 128.75L36.12 129.45L36.44 130.72L36.72 132.28L36.72 132.29L36.56 132.62L35.89 133.17L33.32 134.88L32.43 135.12L31.12 135.21L29.81 135.12L28.92 134.88L26.34 133.17L25.67 132.62L25.52 132.29Z" fill="#fff" stroke-width="1.1"/>
<path d="M29.93 127.46L26.36 131.53L28.59 133.56M30.42 127.31L28.32 131.05L29.63 133.28M30.88 127.26L30.17 130.88L30.61 133.18M31.36 127.26L32.07 130.88L31.62 133.18M31.82 127.31L33.92 131.05L32.6 133.28M32.31 127.46L35.88 131.53L33.64 133.56" fill="none" stroke-width="0.88"/>
<path d="M30.17 127.37L27.75 129.12L27.69 131.24M30.66 127.28L29.49 128.85L29.46 130.94M31.12 127.25L31.12 128.78L31.12 130.86M31.58 127.28L32.75 128.85L32.78 130.94M32.07 127.37L34.48 129.12L34.55 131.24" fill="none" stroke-width="0.88"/>
<path d="M25.52 132.28A5.6 1.42 0 0 1 36.72 132.28" fill="none" stroke-width="0.88"/>
<path d="M24.81 137.01L24.93 136.17L25.29 135.43L25.74 134.88L26.49 134.33L27.21 134.02L28.32 133.75L29.65 133.57L31.12 133.5L32.61 133.57L33.98 133.76L35.01 134.01L35.81 134.36L36.5 134.88L37.12 135.71L37.38 136.48L37.42 137.01L37.42 137.03L37.35 137.85L37.19 138.42L36.94 138.92L36.5 139.46L35.75 140.09L35.21 140.44L34.62 140.7L33.92 140.91L33.87 141.78L33.76 141.89L33.3 142.1L32.52 142.27L32.52 144.39L32.35 144.54L32.11 144.63L31.12 144.73L30.38 144.68L29.81 144.5L29.72 144.39L29.72 142.27L28.94 142.1L28.48 141.89L28.37 141.78L28.32 140.91L27.62 140.7L27.01 140.44L26.49 140.09L25.74 139.46L25.29 138.92L25.05 138.42L24.89 137.85L24.81 137.03Z" fill="#fff" stroke-width="0.88"/>
<path d="M25.83 139.36A5.29 1.35 0 0 1 36.41 139.36" fill="none" stroke-width="0.88"/>
<path d="M29.72 141.65A1.4 0.36 0 0 1 32.52 141.65" fill="none" stroke-width="0.88"/>
<path d="M27.12 140.12A4 1.02 0 0 1 35.12 140.12" fill="none" stroke-width="1.76"/>
<path d="M126.28 132.28L126.56 130.72L126.88 129.45L127.23 128.75L127.62 128.32L128.41 127.82L129.54 127.4L130.57 127.2L131.88 127.13L133.19 127.2L134.23 127.4L135.35 127.82L136.14 128.32L136.54 128.75L136.88 129.45L137.21 130.72L137.48 132.28L137.48 132.29L137.33 132.62L136.66 133.17L134.08 134.88L133.19 135.12L131.88 135.21L130.57 135.12L129.68 134.88L127.11 133.17L126.44 132.62L126.28 132.29Z" fill="#fff" stroke-width="1.1"/>
<path d="M130.69 127.46L127.12 131.53L129.36 133.56M131.18 127.31L129.08 131.05L130.4 133.28M131.64 127.26L130.93 130.88L131.38 133.18M132.12 127.26L132.83 130.88L132.39 133.18M132.58 127.31L134.68 131.05L133.37 133.28M133.07 127.46L136.64 131.53L134.41 133.56" fill="none" stroke-width="0.88"/>
<path d="M130.93 127.37L128.52 129.12L128.45 131.24M131.42 127.28L130.25 128.85L130.22 130.94M131.88 127.25L131.88 128.78L131.88 130.86M132.34 127.28L133.51 128.85L133.54 130.94M132.83 127.37L135.25 129.12L135.31 131.24" fill="none" stroke-width="0.88"/>
<path d="M126.28 132.28A5.6 1.42 0 0 1 137.48 132.28" fill="none" stroke-width="0.88"/>
<path d="M125.58 137.01L125.7 136.17L126.06 135.43L126.5 134.88L127.25 134.33L127.98 134.02L129.08 133.75L130.41 133.57L131.88 133.5L133.37 133.57L134.74 133.76L135.77 134.01L136.57 134.36L137.26 134.88L137.88 135.71L138.14 136.48L138.19 137.01L138.19 137.03L138.11 137.85L137.95 138.42L137.71 138.92L137.26 139.46L136.51 140.09L135.98 140.44L135.38 140.7L134.68 140.91L134.63 141.78L134.52 141.89L134.06 142.1L133.28 142.27L133.28 144.39L133.11 144.54L132.87 144.63L131.88 144.73L131.14 144.68L130.57 144.5L130.48 144.39L130.48 142.27L129.7 142.1L129.24 141.89L129.13 141.78L129.08 140.91L128.38 140.7L127.77 140.44L127.25 140.09L126.5 139.46L126.06 138.92L125.81 138.42L125.65 137.85L125.58 137.03Z" fill="#fff" stroke-width="0.88"/>
<path d="M126.59 139.36A5.29 1.35 0 0 1 137.17 139.36" fill="none" stroke-width="0.88"/>
<path d="M130.48 141.65A1.4 0.36 0 0 1 133.28 141.65" fill="none" stroke-width="0.88"/>
<path d="M127.88 140.12A4 1.02 0 0 1 135.88 140.12" fill="none" stroke-width="1.76"/>
<path d="M129.08 126.93L129.25 126.69L129.68 126.49L129.68 119.75L129.9 119.52L130.33 119.37L131.02 119.25L131.88 119.2L132.75 119.25L133.44 119.37L133.86 119.52L134.08 119.75L134.08 126.49L134.51 126.69L134.68 126.93L134.68 127.8L134.63 127.93L134.47 128.06L133.86 128.3L132.95 128.45L131.88 128.5L130.81 128.45L129.9 128.3L129.29 128.06L129.14 127.93L129.08 127.8Z" fill="#111" stroke-width="0.88"/>
<path d="M54.81 101.31A8.25 1.68 0 0 1 71.31 101.31Q74.01 111.32 75.61 121.76A12.55 3.19 0 0 1 50.51 121.76Q52.11 111.32 54.81 101.31Z" fill="#fff" stroke-width="0.88"/>
<path d="M55.46 100.79L51.29 120.81M70.66 100.79L74.83 120.81" fill="none" stroke-width="0.53"/>
<ellipse cx="63.06" cy="121.76" rx="12.55" ry="3.19" fill="#fff" stroke-width="0.88"/>
<ellipse cx="63.06" cy="121.91" rx="11.45" ry="2.91" fill="#fff" stroke-width="0.88"/>
<path d="M50.71 120.81A12.35 3.14 0 0 1 75.41 120.81" fill="none" stroke-width="0.62"/>
<path d="M60.46 119.85L60.66 119.6L61.22 119.39L62.06 119.24L63.06 119.19L64.05 119.24L64.9 119.39L65.46 119.6L65.66 119.85L65.66 122.25L65.46 122.5L64.9 122.71L64.05 122.85L63.06 122.9L62.06 122.85L61.22 122.71L60.66 122.5L60.46 122.25Z" fill="#fff" stroke-width="0.7"/>
<path d="M60.46 122.24A2.6 0.66 0 0 1 65.66 122.24" fill="none" stroke-width="0.7"/>
<path d="M55.02 123.01A10.05 2.56 0 0 0 71.1 123.01" fill="none" stroke-width="0.53"/>
<path d="M57.46 127.59L57.73 126.03L58.06 124.76L58.4 124.06L58.8 123.63L59.59 123.13L60.71 122.71L61.75 122.51L63.06 122.44L64.37 122.51L65.4 122.71L66.53 123.13L67.32 123.63L67.72 124.06L68.06 124.76L68.39 126.03L68.66 127.59L68.66 127.6L68.5 127.93L67.83 128.48L65.26 130.19L64.37 130.43L63.06 130.52L61.75 130.43L60.86 130.19L58.28 128.48L57.61 127.93L57.46 127.6Z" fill="#fff" stroke-width="1.1"/>
<path d="M61.87 122.77L58.3 126.84L60.53 128.87M62.36 122.62L60.26 126.36L61.57 128.59M62.82 122.57L62.11 126.19L62.55 128.49M63.3 122.57L64.01 126.19L63.56 128.49M63.76 122.62L65.86 126.36L64.54 128.59M64.25 122.77L67.82 126.84L65.58 128.87" fill="none" stroke-width="0.88"/>
<path d="M62.11 122.68L59.69 124.43L59.63 126.55M62.6 122.59L61.43 124.16L61.4 126.25M63.06 122.56L63.06 124.09L63.06 126.17M63.52 122.59L64.69 124.16L64.72 126.25M64.01 122.68L66.43 124.43L66.49 126.55" fill="none" stroke-width="0.88"/>
<path d="M57.46 127.59A5.6 1.42 0 0 1 68.66 127.59" fill="none" stroke-width="0.88"/>
<path d="M56.75 132.32L56.87 131.48L57.23 130.74L57.68 130.2L58.43 129.64L59.15 129.33L60.26 129.06L61.59 128.88L63.06 128.82L64.55 128.88L65.92 129.07L66.95 129.32L67.75 129.67L68.44 130.2L69.06 131.02L69.32 131.79L69.37 132.32L69.37 132.34L69.29 133.16L69.13 133.73L68.89 134.23L68.44 134.77L67.69 135.4L67.15 135.75L66.56 136.01L65.86 136.22L65.81 137.09L65.7 137.2L65.24 137.41L64.46 137.58L64.46 139.7L64.29 139.85L64.05 139.94L63.06 140.04L62.32 139.99L61.75 139.81L61.66 139.7L61.66 137.58L60.88 137.41L60.42 137.2L60.31 137.09L60.26 136.22L59.56 136.01L58.95 135.75L58.43 135.4L57.68 134.77L57.23 134.23L56.99 133.73L56.83 133.16L56.75 132.34Z" fill="#fff" stroke-width="0.88"/>
<path d="M57.77 134.67A5.29 1.35 0 0 1 68.35 134.67" fill="none" stroke-width="0.88"/>
<path d="M61.66 136.96A1.4 0.36 0 0 1 64.46 136.96" fill="none" stroke-width="0.88"/>
<path d="M59.06 135.43A4 1.02 0 0 1 67.06 135.43" fill="none" stroke-width="1.76"/>
<path d="M91.69 101.31A8.25 1.68 0 0 1 108.19 101.31Q110.89 111.32 112.49 121.76A12.55 3.19 0 0 1 87.39 121.76Q88.99 111.32 91.69 101.31Z" fill="#fff" stroke-width="0.88"/>
<path d="M92.34 100.79L88.17 120.81M107.54 100.79L111.71 120.81" fill="none" stroke-width="0.53"/>
<ellipse cx="99.94" cy="121.76" rx="12.55" ry="3.19" fill="#fff" stroke-width="0.88"/>
<ellipse cx="99.94" cy="121.91" rx="11.45" ry="2.91" fill="#fff" stroke-width="0.88"/>
<path d="M87.59 120.81A12.35 3.14 0 0 1 112.29 120.81" fill="none" stroke-width="0.62"/>
<path d="M97.34 119.85L97.54 119.6L98.1 119.39L98.95 119.24L99.94 119.19L100.94 119.24L101.78 119.39L102.34 119.6L102.54 119.85L102.54 122.25L102.34 122.5L101.78 122.71L100.94 122.85L99.94 122.9L98.95 122.85L98.1 122.71L97.54 122.5L97.34 122.25Z" fill="#fff" stroke-width="0.7"/>
<path d="M97.34 122.24A2.6 0.66 0 0 1 102.54 122.24" fill="none" stroke-width="0.7"/>
<path d="M91.9 123.01A10.05 2.56 0 0 0 107.98 123.01" fill="none" stroke-width="0.53"/>
<path d="M94.34 127.59L94.61 126.03L94.94 124.76L95.28 124.06L95.68 123.63L96.47 123.13L97.6 122.71L98.63 122.51L99.94 122.44L101.25 122.51L102.29 122.71L103.41 123.13L104.2 123.63L104.6 124.06L104.94 124.76L105.27 126.03L105.54 127.59L105.54 127.6L105.39 127.93L104.72 128.48L102.14 130.19L101.25 130.43L99.94 130.52L98.63 130.43L97.74 130.19L95.17 128.48L94.5 127.93L94.34 127.6Z" fill="#fff" stroke-width="1.1"/>
<path d="M98.75 122.77L95.18 126.84L97.42 128.87M99.24 122.62L97.14 126.36L98.46 128.59M99.7 122.57L98.99 126.19L99.44 128.49M100.18 122.57L100.89 126.19L100.45 128.49M100.64 122.62L102.74 126.36L101.43 128.59M101.13 122.77L104.7 126.84L102.47 128.87" fill="none" stroke-width="0.88"/>
<path d="M98.99 122.68L96.57 124.43L96.51 126.55M99.48 122.59L98.31 124.16L98.28 126.25M99.94 122.56L99.94 124.09L99.94 126.17M100.4 122.59L101.57 124.16L101.6 126.25M100.89 122.68L103.31 124.43L103.37 126.55" fill="none" stroke-width="0.88"/>
<path d="M94.34 127.59A5.6 1.42 0 0 1 105.54 127.59" fill="none" stroke-width="0.88"/>
<path d="M93.63 132.32L93.76 131.48L94.11 130.74L94.56 130.2L95.31 129.64L96.04 129.33L97.14 129.06L98.47 128.88L99.94 128.82L101.43 128.88L102.8 129.07L103.83 129.32L104.63 129.67L105.32 130.2L105.94 131.02L106.2 131.79L106.25 132.32L106.25 132.34L106.17 133.16L106.01 133.73L105.77 134.23L105.32 134.77L104.57 135.4L104.04 135.75L103.44 136.01L102.74 136.22L102.69 137.09L102.58 137.2L102.12 137.41L101.34 137.58L101.34 139.7L101.17 139.85L100.93 139.94L99.94 140.04L99.2 139.99L98.63 139.81L98.54 139.7L98.54 137.58L97.76 137.41L97.3 137.2L97.19 137.09L97.14 136.22L96.44 136.01L95.83 135.75L95.31 135.4L94.56 134.77L94.11 134.23L93.87 133.73L93.71 133.16L93.63 132.34Z" fill="#fff" stroke-width="0.88"/>
<path d="M94.65 134.67A5.29 1.35 0 0 1 105.23 134.67" fill="none" stroke-width="0.88"/>
<path d="M98.54 136.96A1.4 0.36 0 0 1 101.34 136.96" fill="none" stroke-width="0.88"/>
<path d="M95.94 135.43A4 1.02 0 0 1 103.94 135.43" fill="none" stroke-width="1.76"/>
<path d="M123.63 78.28A8.25 1.68 0 0 1 140.13 78.28Q142.83 88.29 144.43 98.74A12.55 3.19 0 0 1 119.33 98.74Q120.93 88.29 123.63 78.28Z" fill="#fff" stroke-width="0.88"/>
<path d="M124.28 77.76L120.11 97.78M139.48 77.76L143.65 97.78" fill="none" stroke-width="0.53"/>
<ellipse cx="131.88" cy="98.74" rx="12.55" ry="3.19" fill="#fff" stroke-width="0.88"/>
<ellipse cx="131.88" cy="98.88" rx="11.45" ry="2.91" fill="#fff" stroke-width="0.88"/>
<path d="M119.53 97.78A12.35 3.14 0 0 1 144.23 97.78" fill="none" stroke-width="0.62"/>
<path d="M129.28 96.82L129.48 96.57L130.04 96.36L130.89 96.22L131.88 96.16L132.88 96.22L133.72 96.36L134.28 96.57L134.48 96.82L134.48 99.22L134.28 99.47L133.72 99.68L132.88 99.83L131.88 99.88L130.89 99.83L130.04 99.68L129.48 99.47L129.28 99.22Z" fill="#fff" stroke-width="0.7"/>
<path d="M129.28 99.22A2.6 0.66 0 0 1 134.48 99.22" fill="none" stroke-width="0.7"/>
<path d="M123.84 99.98A10.05 2.56 0 0 0 139.92 99.98" fill="none" stroke-width="0.53"/>
<ellipse cx="131.88" cy="99.04" rx="9.6" ry="2.3" fill="#333" stroke-width="0.88"/>
<path d="M124.88 99.94L133.88 97.74M138.88 99.54L130.88 98.14" stroke="#fff" stroke-width="0.8" fill="none"/>
<path d="M129.08 68.88V60.88H134.68V68.88Z" fill="#fff" stroke-width="0.88"/>
<ellipse cx="131.88" cy="69.08" rx="3.9" ry="1.2" fill="#000" stroke-width="0.6"/>
<ellipse cx="131.88" cy="53.08" rx="3.9" ry="1.3" fill="#000" stroke-width="0.8"/>
<path d="M130.58 35.88V41.28H133.18V35.88Z" fill="#fff" stroke-width="0.88"/>
<path d="M130.58 40.68H133.18" stroke-width="1.6" fill="none"/>
<circle cx="131.88" cy="32.88" r="3.8" fill="#fff" stroke-width="0.88"/>
</g>
<path d="M77.7 0.4V5.2M77.7 8.4V12.2M77.7 14.8V19.6M85.7 0.4V5.2M85.7 8.4V12.2M85.7 14.8V19.6" stroke="#000" stroke-width="1.4" fill="none"/><path d="M75.2 10.2H87.2" stroke="#000" stroke-width="1.7" fill="none"/><g stroke="#000" stroke-linejoin="round" stroke-linecap="butt">
<path d="M309.96 17.86L309.99 17.53L310.14 16.99L310.43 16.6L311.18 16.11L312.16 15.72L313.59 15.35L315.36 15.07L317.36 14.88L319.5 14.82L321.73 14.89L323.49 15.05L325.36 15.34L326.75 15.69L327.82 16.11L328.57 16.6L328.86 16.99L329.01 17.53L329.04 17.86L329.04 17.88L328.95 18.29L328.68 18.78L327.63 20.07L326.75 21.03L326.25 21.84L325.98 22.5L325.7 24.01L324.96 26.72L324.48 27.34L323.76 27.84L322.8 28.18L320.99 28.65L319.5 28.76L318.01 28.65L316.16 28.17L315.17 27.8L314.52 27.34L314.16 26.89L313.76 25.72L313.3 24.01L313.02 22.5L312.75 21.84L312.49 21.35L312.16 20.91L311.36 20.06L310.32 18.78L310.05 18.29L309.96 17.88Z" fill="#fff" stroke-width="0.88"/>
<path d="M309.96 17.71A9.54 2.44 0 0 1 329.04 17.71" fill="none" stroke-width="0.88"/>
<path d="M313.05 22.46A6.45 1.65 0 0 1 325.95 22.46" fill="none" stroke-width="0.88"/>
<path d="M313.15 23.43A6.35 1.62 0 0 1 325.85 23.43" fill="none" stroke-width="0.88"/>
<path d="M314 26.55A5.5 1.41 0 0 1 325 26.55" fill="none" stroke-width="0.88"/>
<path d="M318.9 27.46L319.08 27.36L319.5 27.31L319.92 27.36L320.1 27.46L320.1 38.14L319.92 38.25L319.5 38.29L319.08 38.25L318.9 38.14Z" fill="#fff" stroke-width="0.88"/>
<path d="M318.4 38.13L318.48 38.03L318.72 37.94L319.5 37.86L320.28 37.94L320.52 38.03L320.6 38.14L320.6 41.12L320.52 41.23L320.28 41.32L319.5 41.4L318.72 41.32L318.48 41.23L318.4 41.12Z" fill="#444" stroke-width="0.88"/>
<path d="M319.5 41.12L319.5 43.91M319.5 48.33L319.5 54.34M319.5 58.76L319.5 64.77M319.5 69.2L319.5 73.62" fill="none" stroke-width="1.5"/>
<ellipse cx="319.5" cy="46.12" rx="1.35" ry="2.69" fill="#fff" stroke-width="1.1"/>
<ellipse cx="319.5" cy="56.55" rx="1.35" ry="2.69" fill="#fff" stroke-width="1.1"/>
<ellipse cx="319.5" cy="66.98" rx="1.35" ry="2.69" fill="#fff" stroke-width="1.1"/>
<path d="M292.81 120.65A8.25 1.69 0 0 1 309.31 120.65Q312.01 130.72 313.61 141.23A12.55 3.21 0 0 1 288.51 141.23Q290.11 130.72 292.81 120.65Z" fill="#fff" stroke-width="0.88"/>
<path d="M293.46 120.12L289.29 140.26M308.66 120.12L312.83 140.26" fill="none" stroke-width="0.53"/>
<ellipse cx="301.06" cy="141.23" rx="12.55" ry="3.21" fill="#fff" stroke-width="0.88"/>
<ellipse cx="301.06" cy="141.37" rx="11.45" ry="2.93" fill="#fff" stroke-width="0.88"/>
<path d="M288.71 140.27A12.35 3.16 0 0 1 313.41 140.27" fill="none" stroke-width="0.62"/>
<path d="M298.46 139.3L298.66 139.05L299.22 138.83L300.06 138.69L301.06 138.64L302.05 138.69L302.9 138.83L303.46 139.05L303.66 139.3L303.66 141.71L303.46 141.96L302.9 142.18L302.05 142.32L301.06 142.37L300.06 142.32L299.22 142.18L298.66 141.96L298.46 141.71Z" fill="#fff" stroke-width="0.7"/>
<path d="M298.46 141.71A2.6 0.67 0 0 1 303.66 141.71" fill="none" stroke-width="0.7"/>
<path d="M293.02 142.48A10.05 2.57 0 0 0 309.1 142.48" fill="none" stroke-width="0.53"/>
<path d="M295.46 146.12L295.73 145.04L296.06 144.12L296.46 143.51L297.1 142.94L298.13 142.37L298.86 142.14L299.97 141.96L301.06 141.91L302.15 141.96L303.26 142.14L303.99 142.37L305.02 142.94L305.66 143.51L306.06 144.12L306.39 145.04L306.66 146.12L306.66 146.14L306.5 146.47L305.83 147.03L303.26 148.74L302.37 148.98L301.06 149.08L299.75 148.98L298.86 148.74L296.28 147.03L295.61 146.47L295.46 146.14Z" fill="#fff" stroke-width="1.1"/>
<path d="M299.87 142.24L296.3 145.38L298.53 147.42M300.36 142.09L298.26 144.89L299.57 147.13M300.82 142.04L300.11 144.72L300.55 147.03M301.3 142.04L302.01 144.72L301.56 147.03M301.76 142.09L303.86 144.89L302.54 147.13M302.25 142.24L305.82 145.38L303.58 147.42" fill="none" stroke-width="0.88"/>
<path d="M300.11 142.15L297.69 143.42L297.63 145.08M300.6 142.05L299.43 143.16L299.4 144.78M301.06 142.03L301.06 143.09L301.06 144.7M301.52 142.05L302.69 143.16L302.72 144.78M302.01 142.15L304.43 143.42L304.49 145.08" fill="none" stroke-width="0.88"/>
<path d="M295.46 146.13A5.6 1.43 0 0 1 306.66 146.13" fill="none" stroke-width="0.88"/>
<path d="M294.75 150.89L294.87 150.04L295.23 149.3L295.68 148.75L296.43 148.19L297.15 147.87L298.26 147.6L299.59 147.42L301.06 147.36L302.55 147.42L303.92 147.61L304.95 147.87L305.75 148.22L306.44 148.75L307.06 149.58L307.32 150.35L307.37 150.89L307.37 150.91L307.29 151.73L307.13 152.3L306.89 152.81L306.44 153.35L305.69 153.98L305.15 154.34L304.56 154.6L303.86 154.81L303.81 155.69L303.7 155.79L303.24 156L302.46 156.17L302.46 158.31L302.29 158.47L302.05 158.55L301.06 158.65L300.32 158.6L299.75 158.42L299.66 158.31L299.66 156.17L298.88 156L298.42 155.79L298.31 155.69L298.26 154.81L297.56 154.6L296.95 154.33L296.43 153.98L295.68 153.35L295.23 152.81L294.99 152.3L294.83 151.73L294.75 150.91Z" fill="#fff" stroke-width="0.88"/>
<path d="M295.77 153.25A5.29 1.35 0 0 1 306.35 153.25" fill="none" stroke-width="0.88"/>
<path d="M299.66 155.55A1.4 0.36 0 0 1 302.46 155.55" fill="none" stroke-width="0.88"/>
<path d="M297.06 154.02A4 1.02 0 0 1 305.06 154.02" fill="none" stroke-width="1.76"/>
<path d="M317.95 131.01C317.67 131.32 316.88 132.19 316.28 132.85C315.67 133.51 314.94 134.35 314.34 134.99C313.74 135.63 313.14 136.06 312.67 136.68C312.19 137.31 311.87 137.84 311.5 138.75C311.14 139.66 310.88 140.52 310.47 142.14C310.06 143.77 309.57 146.01 309.05 148.5C308.54 150.98 307.94 154.67 307.38 157.07C306.82 159.47 306.26 161.48 305.7 162.9C305.14 164.32 304.58 165.1 304.03 165.61C303.47 166.12 302.79 166.23 302.35 165.96C301.91 165.69 301.6 164.83 301.38 164C301.17 163.16 301.11 162.01 301.06 160.94C301.01 159.87 301.06 158.13 301.06 157.57" fill="none" stroke-width="2.98"/>
<path d="M317.95 131.01C317.67 131.32 316.88 132.19 316.28 132.85C315.67 133.51 314.94 134.35 314.34 134.99C313.74 135.63 313.14 136.06 312.67 136.68C312.19 137.31 311.87 137.84 311.5 138.75C311.14 139.66 310.88 140.52 310.47 142.14C310.06 143.77 309.57 146.01 309.05 148.5C308.54 150.98 307.94 154.67 307.38 157.07C306.82 159.47 306.26 161.48 305.7 162.9C305.14 164.32 304.58 165.1 304.03 165.61C303.47 166.12 302.79 166.23 302.35 165.96C301.91 165.69 301.6 164.83 301.38 164C301.17 163.16 301.11 162.01 301.06 160.94C301.01 159.87 301.06 158.13 301.06 157.57" fill="none" stroke="#fff" stroke-width="1.22"/>
<path d="M329.69 120.65A8.25 1.69 0 0 1 346.19 120.65Q348.89 130.72 350.49 141.23A12.55 3.21 0 0 1 325.39 141.23Q326.99 130.72 329.69 120.65Z" fill="#fff" stroke-width="0.88"/>
<path d="M330.34 120.12L326.17 140.26M345.54 120.12L349.71 140.26" fill="none" stroke-width="0.53"/>
<ellipse cx="337.94" cy="141.23" rx="12.55" ry="3.21" fill="#fff" stroke-width="0.88"/>
<ellipse cx="337.94" cy="141.37" rx="11.45" ry="2.93" fill="#fff" stroke-width="0.88"/>
<path d="M325.59 140.27A12.35 3.16 0 0 1 350.29 140.27" fill="none" stroke-width="0.62"/>
<path d="M335.34 139.3L335.54 139.05L336.1 138.83L336.95 138.69L337.94 138.64L338.94 138.69L339.78 138.83L340.34 139.05L340.54 139.3L340.54 141.71L340.34 141.96L339.78 142.18L338.94 142.32L337.94 142.37L336.95 142.32L336.1 142.18L335.54 141.96L335.34 141.71Z" fill="#fff" stroke-width="0.7"/>
<path d="M335.34 141.71A2.6 0.67 0 0 1 340.54 141.71" fill="none" stroke-width="0.7"/>
<path d="M329.9 142.48A10.05 2.57 0 0 0 345.98 142.48" fill="none" stroke-width="0.53"/>
<path d="M332.34 146.12L332.61 145.04L332.94 144.12L333.34 143.51L333.98 142.94L335.01 142.37L335.74 142.14L336.85 141.96L337.94 141.91L339.03 141.96L340.14 142.14L340.87 142.37L341.9 142.94L342.54 143.51L342.94 144.12L343.27 145.04L343.54 146.12L343.54 146.14L343.39 146.47L342.72 147.03L340.14 148.74L339.25 148.98L337.94 149.08L336.63 148.98L335.74 148.74L333.17 147.03L332.5 146.47L332.34 146.14Z" fill="#fff" stroke-width="1.1"/>
<path d="M336.75 142.24L333.18 145.38L335.42 147.42M337.24 142.09L335.14 144.89L336.46 147.13M337.7 142.04L336.99 144.72L337.44 147.03M338.18 142.04L338.89 144.72L338.45 147.03M338.64 142.09L340.74 144.89L339.43 147.13M339.13 142.24L342.7 145.38L340.47 147.42" fill="none" stroke-width="0.88"/>
<path d="M336.99 142.15L334.57 143.42L334.51 145.08M337.48 142.05L336.31 143.16L336.28 144.78M337.94 142.03L337.94 143.09L337.94 144.7M338.4 142.05L339.57 143.16L339.6 144.78M338.89 142.15L341.31 143.42L341.37 145.08" fill="none" stroke-width="0.88"/>
<path d="M332.34 146.13A5.6 1.43 0 0 1 343.54 146.13" fill="none" stroke-width="0.88"/>
<path d="M331.63 150.89L331.76 150.04L332.11 149.3L332.56 148.75L333.31 148.19L334.04 147.87L335.14 147.6L336.47 147.42L337.94 147.36L339.43 147.42L340.8 147.61L341.83 147.87L342.63 148.22L343.32 148.75L343.94 149.58L344.2 150.35L344.25 150.89L344.25 150.91L344.17 151.73L344.01 152.3L343.77 152.81L343.32 153.35L342.57 153.98L342.04 154.34L341.44 154.6L340.74 154.81L340.69 155.69L340.58 155.79L340.12 156L339.34 156.17L339.34 158.31L339.17 158.47L338.93 158.55L337.94 158.65L337.2 158.6L336.63 158.42L336.54 158.31L336.54 156.17L335.76 156L335.3 155.79L335.19 155.69L335.14 154.81L334.44 154.6L333.83 154.33L333.31 153.98L332.56 153.35L332.11 152.81L331.87 152.3L331.71 151.73L331.63 150.91Z" fill="#fff" stroke-width="0.88"/>
<path d="M332.65 153.25A5.29 1.35 0 0 1 343.23 153.25" fill="none" stroke-width="0.88"/>
<path d="M336.54 155.55A1.4 0.36 0 0 1 339.34 155.55" fill="none" stroke-width="0.88"/>
<path d="M333.94 154.02A4 1.02 0 0 1 341.94 154.02" fill="none" stroke-width="1.76"/>
<path d="M321.05 131.01C321.33 131.32 322.12 132.19 322.72 132.85C323.33 133.51 324.06 134.35 324.66 134.99C325.26 135.63 325.86 136.06 326.33 136.68C326.81 137.31 327.13 137.84 327.5 138.75C327.86 139.66 328.12 140.52 328.53 142.14C328.94 143.77 329.43 146.01 329.95 148.5C330.46 150.98 331.06 154.67 331.62 157.07C332.18 159.47 332.74 161.48 333.3 162.9C333.86 164.32 334.42 165.1 334.97 165.61C335.53 166.12 336.21 166.23 336.65 165.96C337.09 165.69 337.4 164.83 337.62 164C337.83 163.16 337.89 162.01 337.94 160.94C337.99 159.87 337.94 158.13 337.94 157.57" fill="none" stroke-width="2.98"/>
<path d="M321.05 131.01C321.33 131.32 322.12 132.19 322.72 132.85C323.33 133.51 324.06 134.35 324.66 134.99C325.26 135.63 325.86 136.06 326.33 136.68C326.81 137.31 327.13 137.84 327.5 138.75C327.86 139.66 328.12 140.52 328.53 142.14C328.94 143.77 329.43 146.01 329.95 148.5C330.46 150.98 331.06 154.67 331.62 157.07C332.18 159.47 332.74 161.48 333.3 162.9C333.86 164.32 334.42 165.1 334.97 165.61C335.53 166.12 336.21 166.23 336.65 165.96C337.09 165.69 337.4 164.83 337.62 164C337.83 163.16 337.89 162.01 337.94 160.94C337.99 159.87 337.94 158.13 337.94 157.57" fill="none" stroke="#fff" stroke-width="1.22"/>
<path d="M260.87 115.93A8.25 1.69 0 0 1 277.37 115.93Q280.07 126 281.67 136.51A12.55 3.21 0 0 1 256.57 136.51Q258.17 126 260.87 115.93Z" fill="#fff" stroke-width="0.88"/>
<path d="M261.52 115.4L257.35 135.55M276.72 115.4L280.89 135.55" fill="none" stroke-width="0.53"/>
<ellipse cx="269.12" cy="136.51" rx="12.55" ry="3.21" fill="#fff" stroke-width="0.88"/>
<ellipse cx="269.12" cy="136.65" rx="11.45" ry="2.93" fill="#fff" stroke-width="0.88"/>
<path d="M256.77 135.55A12.35 3.16 0 0 1 281.47 135.55" fill="none" stroke-width="0.62"/>
<path d="M266.52 134.58L266.72 134.33L267.28 134.12L268.12 133.97L269.12 133.92L270.11 133.97L270.96 134.12L271.52 134.33L271.72 134.58L271.72 137L271.52 137.25L270.96 137.46L270.11 137.6L269.12 137.66L268.12 137.6L267.28 137.46L266.72 137.25L266.52 137Z" fill="#fff" stroke-width="0.7"/>
<path d="M266.52 136.99A2.6 0.67 0 0 1 271.72 136.99" fill="none" stroke-width="0.7"/>
<path d="M261.08 137.76A10.05 2.57 0 0 0 277.16 137.76" fill="none" stroke-width="0.53"/>
<path d="M263.52 141.4L263.79 140.32L264.12 139.41L264.52 138.79L265.16 138.22L266.19 137.65L266.92 137.42L268.03 137.24L269.12 137.19L270.21 137.24L271.32 137.42L272.04 137.65L273.08 138.22L273.72 138.79L274.12 139.41L274.44 140.32L274.72 141.4L274.72 141.42L274.56 141.75L273.89 142.31L271.32 144.02L270.43 144.27L269.12 144.36L267.81 144.27L266.92 144.02L264.34 142.31L263.67 141.75L263.52 141.42Z" fill="#fff" stroke-width="1.1"/>
<path d="M267.93 137.52L264.36 140.66L266.59 142.7M268.42 137.37L266.32 140.17L267.63 142.41M268.88 137.32L268.17 140L268.61 142.31M269.36 137.32L270.07 140L269.62 142.31M269.82 137.37L271.92 140.17L270.6 142.41M270.31 137.52L273.88 140.66L271.64 142.7" fill="none" stroke-width="0.88"/>
<path d="M268.17 137.43L265.75 138.71L265.69 140.36M268.66 137.34L267.49 138.44L267.46 140.06M269.12 137.31L269.12 138.37L269.12 139.98M269.58 137.34L270.75 138.44L270.78 140.06M270.07 137.43L272.48 138.71L272.55 140.36" fill="none" stroke-width="0.88"/>
<path d="M263.52 141.41A5.6 1.43 0 0 1 274.72 141.41" fill="none" stroke-width="0.88"/>
<path d="M262.81 146.17L262.93 145.32L263.29 144.58L263.74 144.03L264.49 143.47L265.21 143.16L266.32 142.88L267.65 142.7L269.12 142.64L270.61 142.71L271.98 142.9L273.01 143.15L273.81 143.5L274.5 144.03L275.12 144.86L275.38 145.63L275.42 146.17L275.42 146.19L275.35 147.01L275.19 147.59L274.94 148.09L274.5 148.64L273.75 149.26L273.21 149.62L272.62 149.88L271.92 150.09L271.87 150.97L271.76 151.07L271.3 151.28L270.52 151.46L270.52 153.59L270.35 153.75L270.11 153.83L269.12 153.93L268.38 153.88L267.81 153.71L267.72 153.59L267.72 151.46L266.94 151.28L266.48 151.07L266.37 150.97L266.32 150.09L265.62 149.88L265.01 149.61L264.49 149.26L263.74 148.64L263.29 148.09L263.05 147.59L262.89 147.01L262.81 146.19Z" fill="#fff" stroke-width="0.88"/>
<path d="M263.83 148.53A5.29 1.35 0 0 1 274.41 148.53" fill="none" stroke-width="0.88"/>
<path d="M267.72 150.84A1.4 0.36 0 0 1 270.52 150.84" fill="none" stroke-width="0.88"/>
<path d="M265.12 149.3A4 1.02 0 0 1 273.12 149.3" fill="none" stroke-width="1.76"/>
<path d="M315.27 130.61C314.51 130.85 312.34 131.52 310.69 132.03C309.05 132.54 307.05 133.18 305.41 133.67C303.76 134.15 302.12 134.43 300.83 134.94C299.54 135.44 298.65 135.89 297.66 136.71C296.66 137.52 295.95 138.31 294.84 139.83C293.72 141.35 292.37 143.47 290.96 145.82C289.55 148.18 287.91 151.71 286.38 153.97C284.86 156.23 283.33 158.09 281.8 159.37C280.28 160.65 278.75 161.28 277.22 161.65C275.7 162.01 273.85 161.95 272.64 161.57C271.44 161.19 270.59 160.25 270 159.36C269.41 158.47 269.27 157.31 269.12 156.22C268.97 155.14 269.12 153.42 269.12 152.86" fill="none" stroke-width="2.98"/>
<path d="M315.27 130.61C314.51 130.85 312.34 131.52 310.69 132.03C309.05 132.54 307.05 133.18 305.41 133.67C303.76 134.15 302.12 134.43 300.83 134.94C299.54 135.44 298.65 135.89 297.66 136.71C296.66 137.52 295.95 138.31 294.84 139.83C293.72 141.35 292.37 143.47 290.96 145.82C289.55 148.18 287.91 151.71 286.38 153.97C284.86 156.23 283.33 158.09 281.8 159.37C280.28 160.65 278.75 161.28 277.22 161.65C275.7 162.01 273.85 161.95 272.64 161.57C271.44 161.19 270.59 160.25 270 159.36C269.41 158.47 269.27 157.31 269.12 156.22C268.97 155.14 269.12 153.42 269.12 152.86" fill="none" stroke="#fff" stroke-width="1.22"/>
<path d="M361.63 115.93A8.25 1.69 0 0 1 378.13 115.93Q380.83 126 382.43 136.51A12.55 3.21 0 0 1 357.33 136.51Q358.93 126 361.63 115.93Z" fill="#fff" stroke-width="0.88"/>
<path d="M362.28 115.4L358.11 135.55M377.48 115.4L381.65 135.55" fill="none" stroke-width="0.53"/>
<ellipse cx="369.88" cy="136.51" rx="12.55" ry="3.21" fill="#fff" stroke-width="0.88"/>
<ellipse cx="369.88" cy="136.65" rx="11.45" ry="2.93" fill="#fff" stroke-width="0.88"/>
<path d="M357.53 135.55A12.35 3.16 0 0 1 382.23 135.55" fill="none" stroke-width="0.62"/>
<path d="M367.28 134.58L367.48 134.33L368.04 134.12L368.89 133.97L369.88 133.92L370.88 133.97L371.72 134.12L372.28 134.33L372.48 134.58L372.48 137L372.28 137.25L371.72 137.46L370.88 137.6L369.88 137.66L368.89 137.6L368.04 137.46L367.48 137.25L367.28 137Z" fill="#fff" stroke-width="0.7"/>
<path d="M367.28 136.99A2.6 0.67 0 0 1 372.48 136.99" fill="none" stroke-width="0.7"/>
<path d="M361.84 137.76A10.05 2.57 0 0 0 377.92 137.76" fill="none" stroke-width="0.53"/>
<path d="M364.28 141.4L364.56 140.32L364.88 139.41L365.28 138.79L365.92 138.22L366.96 137.65L367.68 137.42L368.79 137.24L369.88 137.19L370.97 137.24L372.08 137.42L372.81 137.65L373.84 138.22L374.48 138.79L374.88 139.41L375.21 140.32L375.48 141.4L375.48 141.42L375.33 141.75L374.66 142.31L372.08 144.02L371.19 144.27L369.88 144.36L368.57 144.27L367.68 144.02L365.11 142.31L364.44 141.75L364.28 141.42Z" fill="#fff" stroke-width="1.1"/>
<path d="M368.69 137.52L365.12 140.66L367.36 142.7M369.18 137.37L367.08 140.17L368.4 142.41M369.64 137.32L368.93 140L369.38 142.31M370.12 137.32L370.83 140L370.39 142.31M370.58 137.37L372.68 140.17L371.37 142.41M371.07 137.52L374.64 140.66L372.41 142.7" fill="none" stroke-width="0.88"/>
<path d="M368.93 137.43L366.52 138.71L366.45 140.36M369.42 137.34L368.25 138.44L368.22 140.06M369.88 137.31L369.88 138.37L369.88 139.98M370.34 137.34L371.51 138.44L371.54 140.06M370.83 137.43L373.25 138.71L373.31 140.36" fill="none" stroke-width="0.88"/>
<path d="M364.28 141.41A5.6 1.43 0 0 1 375.48 141.41" fill="none" stroke-width="0.88"/>
<path d="M363.58 146.17L363.7 145.32L364.06 144.58L364.5 144.03L365.25 143.47L365.98 143.16L367.08 142.88L368.41 142.7L369.88 142.64L371.37 142.71L372.74 142.9L373.77 143.15L374.57 143.5L375.26 144.03L375.88 144.86L376.14 145.63L376.19 146.17L376.19 146.19L376.11 147.01L375.95 147.59L375.71 148.09L375.26 148.64L374.51 149.26L373.98 149.62L373.38 149.88L372.68 150.09L372.63 150.97L372.52 151.07L372.06 151.28L371.28 151.46L371.28 153.59L371.11 153.75L370.87 153.83L369.88 153.93L369.14 153.88L368.57 153.71L368.48 153.59L368.48 151.46L367.7 151.28L367.24 151.07L367.13 150.97L367.08 150.09L366.38 149.88L365.77 149.61L365.25 149.26L364.5 148.64L364.06 148.09L363.81 147.59L363.65 147.01L363.58 146.19Z" fill="#fff" stroke-width="0.88"/>
<path d="M364.59 148.53A5.29 1.35 0 0 1 375.17 148.53" fill="none" stroke-width="0.88"/>
<path d="M368.48 150.84A1.4 0.36 0 0 1 371.28 150.84" fill="none" stroke-width="0.88"/>
<path d="M365.88 149.3A4 1.02 0 0 1 373.88 149.3" fill="none" stroke-width="1.76"/>
<path d="M323.73 130.61C324.49 130.85 326.66 131.52 328.31 132.03C329.95 132.54 331.95 133.18 333.59 133.67C335.24 134.15 336.88 134.43 338.17 134.94C339.46 135.44 340.35 135.89 341.34 136.71C342.34 137.52 343.05 138.31 344.16 139.83C345.28 141.35 346.63 143.47 348.04 145.82C349.45 148.18 351.09 151.71 352.62 153.97C354.14 156.23 355.67 158.09 357.2 159.37C358.72 160.65 360.25 161.28 361.78 161.65C363.3 162.01 365.15 161.95 366.36 161.57C367.56 161.19 368.41 160.25 369 159.36C369.59 158.47 369.73 157.31 369.88 156.22C370.03 155.14 369.88 153.42 369.88 152.86" fill="none" stroke-width="2.98"/>
<path d="M323.73 130.61C324.49 130.85 326.66 131.52 328.31 132.03C329.95 132.54 331.95 133.18 333.59 133.67C335.24 134.15 336.88 134.43 338.17 134.94C339.46 135.44 340.35 135.89 341.34 136.71C342.34 137.52 343.05 138.31 344.16 139.83C345.28 141.35 346.63 143.47 348.04 145.82C349.45 148.18 351.09 151.71 352.62 153.97C354.14 156.23 355.67 158.09 357.2 159.37C358.72 160.65 360.25 161.28 361.78 161.65C363.3 162.01 365.15 161.95 366.36 161.57C367.56 161.19 368.41 160.25 369 159.36C369.59 158.47 369.73 157.31 369.88 156.22C370.03 155.14 369.88 153.42 369.88 152.86" fill="none" stroke="#fff" stroke-width="1.22"/>
<path d="M242.43 107.76A8.25 1.69 0 0 1 258.93 107.76Q261.63 117.83 263.23 128.34A12.55 3.21 0 0 1 238.13 128.34Q239.73 117.83 242.43 107.76Z" fill="#fff" stroke-width="0.88"/>
<path d="M243.08 107.23L238.91 127.37M258.28 107.23L262.45 127.37" fill="none" stroke-width="0.53"/>
<ellipse cx="250.68" cy="128.34" rx="12.55" ry="3.21" fill="#fff" stroke-width="0.88"/>
<ellipse cx="250.68" cy="128.48" rx="11.45" ry="2.93" fill="#fff" stroke-width="0.88"/>
<path d="M238.33 127.38A12.35 3.16 0 0 1 263.03 127.38" fill="none" stroke-width="0.62"/>
<path d="M248.08 126.41L248.28 126.16L248.84 125.94L249.68 125.8L250.68 125.75L251.67 125.8L252.52 125.94L253.08 126.16L253.28 126.41L253.28 128.82L253.08 129.07L252.52 129.29L251.67 129.43L250.68 129.48L249.68 129.43L248.84 129.29L248.28 129.07L248.08 128.82Z" fill="#fff" stroke-width="0.7"/>
<path d="M248.08 128.82A2.6 0.67 0 0 1 253.28 128.82" fill="none" stroke-width="0.7"/>
<path d="M242.64 129.59A10.05 2.57 0 0 0 258.72 129.59" fill="none" stroke-width="0.53"/>
<path d="M245.08 133.23L245.35 132.15L245.68 131.23L246.08 130.62L246.72 130.05L247.75 129.48L248.48 129.25L249.59 129.07L250.68 129.02L251.77 129.07L252.88 129.25L253.6 129.48L254.64 130.05L255.28 130.62L255.68 131.23L256 132.15L256.28 133.23L256.28 133.25L256.12 133.58L255.45 134.14L252.88 135.85L251.99 136.09L250.68 136.19L249.37 136.09L248.48 135.85L245.9 134.14L245.23 133.58L245.08 133.25Z" fill="#fff" stroke-width="1.1"/>
<path d="M249.49 129.35L245.92 132.49L248.15 134.53M249.98 129.2L247.88 132L249.19 134.24M250.44 129.15L249.73 131.83L250.17 134.14M250.92 129.15L251.63 131.83L251.18 134.14M251.38 129.2L253.48 132L252.16 134.24M251.87 129.35L255.44 132.49L253.2 134.53" fill="none" stroke-width="0.88"/>
<path d="M249.73 129.26L247.31 130.53L247.25 132.19M250.22 129.16L249.04 130.27L249.01 131.89M250.68 129.14L250.68 130.2L250.68 131.81M251.14 129.16L252.31 130.27L252.34 131.89M251.63 129.26L254.04 130.53L254.1 132.19" fill="none" stroke-width="0.88"/>
<path d="M245.08 133.24A5.6 1.43 0 0 1 256.28 133.24" fill="none" stroke-width="0.88"/>
<path d="M244.37 138L244.49 137.15L244.85 136.41L245.3 135.86L246.05 135.3L246.77 134.98L247.88 134.71L249.21 134.53L250.68 134.47L252.17 134.53L253.54 134.72L254.57 134.98L255.37 135.33L256.05 135.86L256.68 136.69L256.94 137.46L256.98 138L256.98 138.02L256.91 138.84L256.75 139.41L256.5 139.92L256.05 140.46L255.31 141.09L254.77 141.45L254.18 141.71L253.48 141.92L253.43 142.8L253.32 142.9L252.86 143.11L252.08 143.28L252.08 145.42L251.91 145.58L251.66 145.66L250.68 145.76L249.94 145.71L249.37 145.53L249.28 145.42L249.28 143.28L248.5 143.11L248.04 142.9L247.93 142.8L247.88 141.92L247.17 141.71L246.57 141.44L246.05 141.09L245.3 140.46L244.85 139.92L244.61 139.41L244.45 138.84L244.37 138.02Z" fill="#fff" stroke-width="0.88"/>
<path d="M245.39 140.36A5.29 1.35 0 0 1 255.97 140.36" fill="none" stroke-width="0.88"/>
<path d="M249.28 142.66A1.4 0.36 0 0 1 252.08 142.66" fill="none" stroke-width="0.88"/>
<path d="M246.68 141.13A4 1.02 0 0 1 254.68 141.13" fill="none" stroke-width="1.76"/>
<path d="M313.72 129.93C312.68 130.04 309.71 130.36 307.47 130.6C305.22 130.84 302.49 131.16 300.25 131.38C298 131.6 295.76 131.61 293.99 131.91C292.23 132.2 291.02 132.51 289.66 133.16C288.3 133.82 287.33 134.49 285.81 135.83C284.29 137.17 282.44 139.07 280.52 141.2C278.59 143.32 276.35 146.59 274.26 148.6C272.17 150.61 270.09 152.22 268 153.26C265.92 154.29 263.83 154.67 261.75 154.79C259.66 154.91 257.13 154.55 255.49 153.97C253.85 153.39 252.68 152.32 251.88 151.33C251.08 150.35 250.88 149.16 250.68 148.05C250.48 146.94 250.68 145.24 250.68 144.68" fill="none" stroke-width="2.98"/>
<path d="M313.72 129.93C312.68 130.04 309.71 130.36 307.47 130.6C305.22 130.84 302.49 131.16 300.25 131.38C298 131.6 295.76 131.61 293.99 131.91C292.23 132.2 291.02 132.51 289.66 133.16C288.3 133.82 287.33 134.49 285.81 135.83C284.29 137.17 282.44 139.07 280.52 141.2C278.59 143.32 276.35 146.59 274.26 148.6C272.17 150.61 270.09 152.22 268 153.26C265.92 154.29 263.83 154.67 261.75 154.79C259.66 154.91 257.13 154.55 255.49 153.97C253.85 153.39 252.68 152.32 251.88 151.33C251.08 150.35 250.88 149.16 250.68 148.05C250.48 146.94 250.68 145.24 250.68 144.68" fill="none" stroke="#fff" stroke-width="1.22"/>
<path d="M380.07 107.76A8.25 1.69 0 0 1 396.57 107.76Q399.27 117.83 400.87 128.34A12.55 3.21 0 0 1 375.77 128.34Q377.37 117.83 380.07 107.76Z" fill="#fff" stroke-width="0.88"/>
<path d="M380.72 107.23L376.55 127.37M395.92 107.23L400.09 127.37" fill="none" stroke-width="0.53"/>
<ellipse cx="388.32" cy="128.34" rx="12.55" ry="3.21" fill="#fff" stroke-width="0.88"/>
<ellipse cx="388.32" cy="128.48" rx="11.45" ry="2.93" fill="#fff" stroke-width="0.88"/>
<path d="M375.97 127.38A12.35 3.16 0 0 1 400.67 127.38" fill="none" stroke-width="0.62"/>
<path d="M385.72 126.41L385.92 126.16L386.48 125.94L387.33 125.8L388.32 125.75L389.32 125.8L390.16 125.94L390.72 126.16L390.92 126.41L390.92 128.82L390.72 129.07L390.16 129.29L389.32 129.43L388.32 129.48L387.33 129.43L386.48 129.29L385.92 129.07L385.72 128.82Z" fill="#fff" stroke-width="0.7"/>
<path d="M385.72 128.82A2.6 0.67 0 0 1 390.92 128.82" fill="none" stroke-width="0.7"/>
<path d="M380.28 129.59A10.05 2.57 0 0 0 396.36 129.59" fill="none" stroke-width="0.53"/>
<path d="M382.72 133.23L383 132.15L383.32 131.23L383.72 130.62L384.36 130.05L385.4 129.48L386.12 129.25L387.23 129.07L388.32 129.02L389.41 129.07L390.52 129.25L391.25 129.48L392.28 130.05L392.92 130.62L393.32 131.23L393.65 132.15L393.92 133.23L393.92 133.25L393.77 133.58L393.1 134.14L390.52 135.85L389.63 136.09L388.32 136.19L387.01 136.09L386.12 135.85L383.55 134.14L382.88 133.58L382.72 133.25Z" fill="#fff" stroke-width="1.1"/>
<path d="M387.13 129.35L383.56 132.49L385.8 134.53M387.62 129.2L385.52 132L386.84 134.24M388.08 129.15L387.37 131.83L387.82 134.14M388.56 129.15L389.27 131.83L388.83 134.14M389.02 129.2L391.12 132L389.81 134.24M389.51 129.35L393.08 132.49L390.85 134.53" fill="none" stroke-width="0.88"/>
<path d="M387.37 129.26L384.96 130.53L384.9 132.19M387.86 129.16L386.69 130.27L386.66 131.89M388.32 129.14L388.32 130.2L388.32 131.81M388.78 129.16L389.96 130.27L389.99 131.89M389.27 129.26L391.69 130.53L391.75 132.19" fill="none" stroke-width="0.88"/>
<path d="M382.72 133.24A5.6 1.43 0 0 1 393.92 133.24" fill="none" stroke-width="0.88"/>
<path d="M382.02 138L382.14 137.15L382.5 136.41L382.95 135.86L383.69 135.3L384.42 134.98L385.52 134.71L386.85 134.53L388.32 134.47L389.82 134.53L391.19 134.72L392.22 134.98L393.02 135.33L393.7 135.86L394.32 136.69L394.58 137.46L394.63 138L394.63 138.02L394.55 138.84L394.39 139.41L394.15 139.92L393.7 140.46L392.95 141.09L392.42 141.45L391.83 141.71L391.12 141.92L391.07 142.8L390.96 142.9L390.5 143.11L389.72 143.28L389.72 145.42L389.55 145.58L389.31 145.66L388.32 145.76L387.58 145.71L387.02 145.53L386.92 145.42L386.92 143.28L386.14 143.11L385.68 142.9L385.57 142.8L385.52 141.92L384.82 141.71L384.22 141.44L383.69 141.09L382.95 140.46L382.5 139.92L382.25 139.41L382.09 138.84L382.02 138.02Z" fill="#fff" stroke-width="0.88"/>
<path d="M383.03 140.36A5.29 1.35 0 0 1 393.61 140.36" fill="none" stroke-width="0.88"/>
<path d="M386.92 142.66A1.4 0.36 0 0 1 389.72 142.66" fill="none" stroke-width="0.88"/>
<path d="M384.32 141.13A4 1.02 0 0 1 392.32 141.13" fill="none" stroke-width="1.76"/>
<path d="M325.28 129.93C326.32 130.04 329.29 130.36 331.53 130.6C333.78 130.84 336.51 131.16 338.75 131.38C341 131.6 343.24 131.61 345.01 131.91C346.77 132.2 347.98 132.51 349.34 133.16C350.7 133.82 351.67 134.49 353.19 135.83C354.71 137.17 356.56 139.07 358.48 141.2C360.41 143.32 362.65 146.59 364.74 148.6C366.83 150.61 368.91 152.22 371 153.26C373.08 154.29 375.17 154.67 377.25 154.79C379.34 154.91 381.87 154.55 383.51 153.97C385.15 153.39 386.32 152.32 387.12 151.33C387.92 150.35 388.12 149.16 388.32 148.05C388.52 146.94 388.32 145.24 388.32 144.68" fill="none" stroke-width="2.98"/>
<path d="M325.28 129.93C326.32 130.04 329.29 130.36 331.53 130.6C333.78 130.84 336.51 131.16 338.75 131.38C341 131.6 343.24 131.61 345.01 131.91C346.77 132.2 347.98 132.51 349.34 133.16C350.7 133.82 351.67 134.49 353.19 135.83C354.71 137.17 356.56 139.07 358.48 141.2C360.41 143.32 362.65 146.59 364.74 148.6C366.83 150.61 368.91 152.22 371 153.26C373.08 154.29 375.17 154.67 377.25 154.79C379.34 154.91 381.87 154.55 383.51 153.97C385.15 153.39 386.32 152.32 387.12 151.33C387.92 150.35 388.12 149.16 388.32 148.05C388.52 146.94 388.32 145.24 388.32 144.68" fill="none" stroke="#fff" stroke-width="1.22"/>
<path d="M309.9 77.26L310.02 76.66L310.37 75.86L310.78 75.48L311.31 75.18L312.2 74.84L313.56 74.48L314.9 74.24L316.53 74.06L316.89 73.93L317.63 73.2L318 73L318.7 72.8L319.5 72.71L320.3 72.8L321 73L321.37 73.2L322.11 73.93L322.47 74.06L324.1 74.24L325.44 74.48L326.8 74.84L327.69 75.18L328.22 75.48L328.63 75.86L328.98 76.66L329.1 77.26L329.1 77.28L328.98 77.88L328.74 78.51L328.37 78.95L327.48 79.46L326.02 79.96L325.3 80.47L324.83 80.93L324.5 81.59L324.25 82.61L324.1 84.32L323.86 84.67L323.17 85L322.11 85.26L320.9 85.41L319.5 85.47L318.1 85.41L316.89 85.26L315.83 85L315.14 84.67L314.9 84.32L314.75 82.61L314.5 81.59L314.17 80.93L313.7 80.47L312.98 79.96L311.52 79.46L310.63 78.95L310.26 78.51L310.02 77.88L309.9 77.28Z" fill="#fff" stroke-width="0.88"/>
<path d="M310.2 76.31A9.3 2.38 0 0 1 328.8 76.31" fill="none" stroke-width="0.88"/>
<path d="M310.2 78.23A9.3 2.38 0 0 1 328.8 78.23" fill="none" stroke-width="0.88"/>
<path d="M314.7 82.08A4.8 1.23 0 0 1 324.3 82.08" fill="none" stroke-width="0.88"/>
<path d="M315.3 87.27L315.42 86.19L315.62 85.51L315.92 85.02L316.3 84.65L317.17 84.06L317.59 83.88L318.52 83.7L319.5 83.65L320.48 83.7L321.41 83.88L321.83 84.06L322.7 84.65L323.08 85.02L323.38 85.51L323.58 86.19L323.7 87.27L323.7 87.28L323.58 88.29L323.38 88.9L322.99 89.5L322.47 89.99L321.83 90.48L321.41 90.67L320.48 90.84L319.5 90.89L318.52 90.84L317.59 90.67L317.17 90.48L316.53 89.99L316.01 89.5L315.62 88.9L315.42 88.29L315.3 87.28Z" fill="#fff" stroke-width="0.88"/>
<path d="M315.3 87.27A4.2 1.07 0 0 1 323.7 87.27" fill="none" stroke-width="0.88"/>
<path d="M318.3 83.78L316.98 86.41L318.15 89.74M319.1 83.67L318.66 86.22L319.05 89.63M319.9 83.67L320.34 86.22L319.95 89.63M320.7 83.78L322.02 86.41L320.85 89.74" fill="none" stroke-width="0.66"/>
<path d="M314.4 91.59L314.54 89.99L314.72 89.79L315 89.6L315.75 89.31L316.84 89.08L318.12 88.93L319.5 88.88L320.88 88.93L322.2 89.08L323.25 89.31L324.04 89.62L324.35 89.85L324.5 90.13L324.6 91.59L324.6 91.61L324.5 91.86L324.2 92.11L323.74 92.32L323.11 92.52L321.45 92.81L319.5 92.9L317.55 92.81L315.89 92.52L315.26 92.32L314.79 92.1L314.5 91.86L314.4 91.61Z" fill="#fff" stroke-width="0.88"/>
<path d="M314.5 90.16A5 1.28 0 0 1 324.5 90.16" fill="none" stroke-width="0.88"/>
<path d="M314.05 91.69L314.15 91.42L314.46 91.16L314.97 90.92L315.65 90.71L317.41 90.41L319.5 90.3L321.59 90.41L323.35 90.71L324.03 90.92L324.54 91.16L324.85 91.42L324.95 91.69L324.95 91.7L324.85 92.44L324.68 92.96L323.91 94.37L323.35 95.69L322.85 97.41L322.65 98.86L322.25 99.13L321.59 99.34L320.65 99.48L319.5 99.53L318.25 99.47L317.22 99.29L316.65 99.09L316.47 98.98L316.3 98.74L316.15 97.41L315.65 95.69L315.09 94.37L314.32 92.96L314.15 92.44L314.05 91.7Z" fill="#fff" stroke="none"/>
<path d="M316.3 98.52L316.15 97.41L315.65 95.69L315.09 94.37L314.32 92.96L314.12 92.23L314.05 91.7L314.09 91.53L314.32 91.27L314.65 91.06L315.85 90.66L317.61 90.39L319.5 90.3L321.39 90.39L323.05 90.64L323.78 90.83L324.36 91.06L324.75 91.32L324.91 91.53L324.95 91.7L324.88 92.23L324.68 92.96L323.91 94.37L323.35 95.69L322.85 97.41L322.7 98.52" fill="none" stroke-width="0.88"/>
<path d="M311.9 112.17L311.95 111.07L312.05 110.46L312.6 108.53L313.53 106.3L315.28 102.89L315.4 102.75L315.79 101.78L316.05 100.93L316.25 99.93L316.32 98.63L316.59 98.37L317.3 98.12L318.31 97.96L319.5 97.9L320.69 97.96L321.7 98.12L322.41 98.37L322.68 98.63L322.75 99.93L322.95 100.93L323.3 102.06L323.6 102.75L323.72 102.89L325.47 106.3L326.4 108.53L326.95 110.46L327.05 111.07L327.1 112.17L327.1 112.19L326.95 113.74L326.63 115.1L325.98 116.48L325.47 117.27L324.87 118.04L323.47 119.36L322.95 119.67L321.56 120.01L319.5 120.15L317.44 120.01L316.05 119.67L315.53 119.36L314.13 118.04L313.53 117.27L313.02 116.48L312.37 115.1L312.05 113.74L311.9 112.19Z" fill="#fff" stroke="none"/>
<path d="M322.7 99.43L322.95 100.93L323.3 102.06L323.6 102.75L323.72 102.89L325.47 106.3L326.4 108.53L326.73 109.53L326.95 110.46L327.09 111.69L327.01 113.41L326.89 114.13L326.63 115.1L325.98 116.48L325.47 117.27L324.87 118.04L323.47 119.36L322.95 119.67L322.1 119.91L320.9 120.09L319.5 120.15L318.1 120.09L316.9 119.91L316.05 119.67L315.53 119.36L314.13 118.04L313.53 117.27L313.02 116.48L312.37 115.1L312.11 114.13L311.99 113.41L311.91 111.69L312.05 110.46L312.27 109.53L312.6 108.53L313.53 106.3L315.53 102.43L316.05 100.93L316.3 99.43" fill="none" stroke-width="0.88"/>
<path d="M315.7 101.98A3.8 0.97 0 0 1 323.3 101.98" fill="none" stroke-width="0.88"/>
<path d="M313.5 106.46A6 1.54 0 0 1 325.5 106.46" fill="none" stroke-width="0.88"/>
<path d="M311.9 112.18A7.6 1.94 0 0 0 327.1 112.18" fill="none" stroke-width="0.88"/>
<path d="M315.6 119.09L315.67 118.91L315.9 118.72L316.74 118.39L318.01 118.18L319.5 118.1L320.99 118.18L322.26 118.39L323.1 118.72L323.33 118.91L323.4 119.09L323.4 121.94L323.33 122.13L323.1 122.32L321.8 122.91L320.71 123.12L319.5 123.18L318.2 123.11L317.21 122.91L315.9 122.32L315.67 122.13L315.6 121.94Z" fill="#fff" stroke="none"/>
<path d="M316.74 122.73L315.9 122.32L315.61 122.01L315.6 119.09L315.65 118.94L316.1 118.61L316.97 118.34L318.15 118.16L319.5 118.1L320.85 118.16L322.03 118.34L322.9 118.61L323.35 118.94L323.4 119.09L323.39 122.01L323.1 122.32L322.2 122.75" fill="none" stroke-width="0.88"/>
<path d="M314 125.53L314.42 124.54L314.81 123.91L315.46 123.22L316.63 122.2L317 121.99L317.8 121.78L319.5 121.65L321.2 121.78L322 121.99L322.37 122.2L323.54 123.22L324.19 123.91L324.58 124.54L325 125.53L325 125.55L324.85 125.87L324.49 126.13L323.82 126.41L323 126.64L323 130.85L322.91 131.04L322.37 131.34L321.6 131.55L320.6 131.68L319.5 131.73L318.43 131.68L317.4 131.55L316.6 131.33L316.09 131.04L316 130.85L316 126.64L315.18 126.41L314.51 126.13L314.15 125.87L314 125.55Z" fill="#fff" stroke="none"/>
<path d="M322.5 122.32L323.54 123.22L324.19 123.91L324.79 124.99L324.98 125.43L324.98 125.65L324.79 125.92L324.4 126.18L323.82 126.41L323 126.64L323 130.85L322.91 131.04L322.37 131.34L321.6 131.55L320.6 131.68L319.5 131.73L318.43 131.68L317.4 131.55L316.6 131.33L316.09 131.04L316 130.85L316 126.64L315.18 126.41L314.6 126.18L314.21 125.92L314.02 125.65L314.02 125.43L314.2 125.01L314.81 123.91L315.46 123.22L316.5 122.32" fill="none" stroke-width="0.88"/>
<path d="M315.6 121.94A3.9 1 0 0 1 323.4 121.94" fill="none" stroke-width="0.88"/>
<path d="M314 125.54A5.5 1.41 0 0 1 325 125.54" fill="none" stroke-width="0.88"/>
<path d="M311.55 130.23L311.75 129.55L312.04 129.19L312.56 128.86L313.45 128.51L314.58 128.23L316.15 127.97L317.75 127.83L319.5 127.78L321.35 127.83L322.83 127.97L324.42 128.23L325.55 128.51L326.44 128.86L326.96 129.19L327.23 129.51L327.45 130.23L327.45 130.25L327.3 130.84L326.85 131.52L324.17 133.22L323.35 133.99L321.96 135.52L321.66 135.67L321.05 135.84L319.5 135.97L317.95 135.84L317.35 135.68L317.04 135.52L315.61 133.95L314.83 133.22L312.15 131.52L311.7 130.84L311.55 130.25Z" fill="#fff" stroke-width="0.88"/>
<path d="M311.7 129.77A7.8 2 0 0 1 327.3 129.77" fill="none" stroke-width="0.88"/>
<path d="M311.9 131.02A7.6 1.94 0 0 1 327.1 131.02" fill="none" stroke-width="0.88"/>
<path d="M308.62 141.09L308.7 140.27L308.83 139.91L309.03 139.61L309.45 139.19L310.42 138.41L311.51 137.67L313.11 136.9L316.14 135.8L317.38 134.96L318.22 134.75L319.5 134.66L320.78 134.75L321.62 134.96L322.86 135.8L325.89 136.9L327.49 137.67L328.54 138.39L329.55 139.19L329.97 139.61L330.17 139.91L330.3 140.27L330.38 141.09L330.38 141.11L330.34 142.38L330.08 143.6L329.7 144.5L328.99 145.47L328.3 146.15L327.62 146.7L326.82 147.22L325.89 147.72L324.25 148.35L322.86 148.68L321.62 148.87L319.5 149L317.22 148.85L316.02 148.66L314.8 148.37L313.22 147.78L311.51 146.79L310.7 146.15L310.02 145.48L309.22 144.37L308.92 143.6L308.66 142.38L308.62 141.11Z" fill="#fff" stroke-width="0.88"/>
<path d="M309 139.97A10.5 2.69 0 0 1 330 139.97" fill="none" stroke-width="0.88"/>
<path d="M308.65 142.27A10.85 2.78 0 0 1 330.35 142.27" fill="none" stroke-width="0.88"/>
<path d="M310.6 145.73A8.9 2.28 0 0 1 328.4 145.73" fill="none" stroke-width="0.88"/>
<path d="M315.3 149.86L315.62 148.52L315.92 148.08L316.3 147.79L317.17 147.41L317.74 147.24L318.52 147.13L319.5 147.09L320.48 147.13L321.26 147.24L321.83 147.41L322.7 147.79L323.08 148.08L323.38 148.52L323.7 149.86L323.7 149.88L323.62 150.08L322.69 151.22L322.47 151.4L322.35 151.63L321.97 152.02L321.9 152.17L321.69 152.33L321.55 152.57L321.41 152.65L321.11 153.1L320.95 153.2L320.7 153.56L320.16 153.71L319.5 153.76L318.84 153.71L318.3 153.56L318.05 153.2L317.89 153.1L317.59 152.65L317.45 152.57L317.31 152.33L317.1 152.17L317.03 152.02L316.65 151.63L316.53 151.4L316.31 151.22L315.38 150.08L315.3 149.88Z" fill="#fff" stroke-width="0.88"/>
<path d="M315.3 149.87A4.2 1.07 0 0 1 323.7 149.87" fill="none" stroke-width="0.88"/>
<path d="M317.6 147.42L315.93 149.3L318.51 153.25M318.38 147.18L317.4 148.94L318.92 153.14M319.12 147.1L318.79 148.81L319.3 153.1M319.88 147.1L320.21 148.81L319.7 153.1M320.62 147.18L321.6 148.94L320.08 153.14M321.4 147.42L323.07 149.3L320.49 153.25" fill="none" stroke-width="0.66"/>
<path d="M317.95 154.77L318.07 154.04L318.25 153.72L318.69 153.46L319.5 153.3L320.31 153.46L320.75 153.72L320.93 154.04L321.05 154.77L321.05 154.78L320.93 155.49L320.75 155.82L320.26 156.15L319.86 156.3L319.5 156.34L319.14 156.3L318.74 156.15L318.25 155.82L318.07 155.49L317.95 154.78Z" fill="#fff" stroke-width="0.88"/>
<path d="M313.72 129.14C312.68 129.11 309.71 129.01 307.47 128.95C305.22 128.88 302.49 128.83 300.25 128.74C298 128.65 295.76 128.35 293.99 128.41C292.23 128.46 291.02 128.61 289.66 129.07C288.3 129.54 287.33 130.08 285.81 131.21C284.29 132.34 282.44 133.99 280.52 135.85C278.59 137.71 276.35 140.67 274.26 142.39C272.17 144.12 270.09 145.45 268 146.19C265.92 146.94 263.83 147.04 261.75 146.87C259.66 146.7 257.13 145.99 255.49 145.19C253.85 144.39 252.68 143.16 251.88 142.06C251.08 140.96 250.88 139.75 250.68 138.61C250.48 137.48 250.68 135.81 250.68 135.25" fill="none" stroke-width="2.98"/>
<path d="M313.72 129.14C312.68 129.11 309.71 129.01 307.47 128.95C305.22 128.88 302.49 128.83 300.25 128.74C298 128.65 295.76 128.35 293.99 128.41C292.23 128.46 291.02 128.61 289.66 129.07C288.3 129.54 287.33 130.08 285.81 131.21C284.29 132.34 282.44 133.99 280.52 135.85C278.59 137.71 276.35 140.67 274.26 142.39C272.17 144.12 270.09 145.45 268 146.19C265.92 146.94 263.83 147.04 261.75 146.87C259.66 146.7 257.13 145.99 255.49 145.19C253.85 144.39 252.68 143.16 251.88 142.06C251.08 140.96 250.88 139.75 250.68 138.61C250.48 137.48 250.68 135.81 250.68 135.25" fill="none" stroke="#fff" stroke-width="1.22"/>
<path d="M325.28 129.14C326.32 129.11 329.29 129.01 331.53 128.95C333.78 128.88 336.51 128.83 338.75 128.74C341 128.65 343.24 128.35 345.01 128.41C346.77 128.46 347.98 128.61 349.34 129.07C350.7 129.54 351.67 130.08 353.19 131.21C354.71 132.34 356.56 133.99 358.48 135.85C360.41 137.71 362.65 140.67 364.74 142.39C366.83 144.12 368.91 145.45 371 146.19C373.08 146.94 375.17 147.04 377.25 146.87C379.34 146.7 381.87 145.99 383.51 145.19C385.15 144.39 386.32 143.16 387.12 142.06C387.92 140.96 388.12 139.75 388.32 138.61C388.52 137.48 388.32 135.81 388.32 135.25" fill="none" stroke-width="2.98"/>
<path d="M325.28 129.14C326.32 129.11 329.29 129.01 331.53 128.95C333.78 128.88 336.51 128.83 338.75 128.74C341 128.65 343.24 128.35 345.01 128.41C346.77 128.46 347.98 128.61 349.34 129.07C350.7 129.54 351.67 130.08 353.19 131.21C354.71 132.34 356.56 133.99 358.48 135.85C360.41 137.71 362.65 140.67 364.74 142.39C366.83 144.12 368.91 145.45 371 146.19C373.08 146.94 375.17 147.04 377.25 146.87C379.34 146.7 381.87 145.99 383.51 145.19C385.15 144.39 386.32 143.16 387.12 142.06C387.92 140.96 388.12 139.75 388.32 138.61C388.52 137.48 388.32 135.81 388.32 135.25" fill="none" stroke="#fff" stroke-width="1.22"/>
<path d="M315.27 128.45C314.51 128.3 312.34 127.85 310.69 127.52C309.05 127.19 307.05 126.81 305.41 126.46C303.76 126.1 302.12 125.53 300.83 125.38C299.54 125.23 298.65 125.23 297.66 125.53C296.66 125.84 295.95 126.26 294.84 127.21C293.72 128.16 292.37 129.59 290.96 131.22C289.55 132.86 287.91 135.54 286.38 137.02C284.86 138.5 283.33 139.58 281.8 140.08C280.28 140.58 278.75 140.43 277.22 140.01C275.7 139.6 273.85 138.59 272.64 137.59C271.44 136.6 270.59 135.22 270 134.03C269.41 132.84 269.27 131.6 269.12 130.44C268.97 129.28 269.12 127.64 269.12 127.08" fill="none" stroke-width="2.98"/>
<path d="M315.27 128.45C314.51 128.3 312.34 127.85 310.69 127.52C309.05 127.19 307.05 126.81 305.41 126.46C303.76 126.1 302.12 125.53 300.83 125.38C299.54 125.23 298.65 125.23 297.66 125.53C296.66 125.84 295.95 126.26 294.84 127.21C293.72 128.16 292.37 129.59 290.96 131.22C289.55 132.86 287.91 135.54 286.38 137.02C284.86 138.5 283.33 139.58 281.8 140.08C280.28 140.58 278.75 140.43 277.22 140.01C275.7 139.6 273.85 138.59 272.64 137.59C271.44 136.6 270.59 135.22 270 134.03C269.41 132.84 269.27 131.6 269.12 130.44C268.97 129.28 269.12 127.64 269.12 127.08" fill="none" stroke="#fff" stroke-width="1.22"/>
<path d="M323.73 128.45C324.49 128.3 326.66 127.85 328.31 127.52C329.95 127.19 331.95 126.81 333.59 126.46C335.24 126.1 336.88 125.53 338.17 125.38C339.46 125.23 340.35 125.23 341.34 125.53C342.34 125.84 343.05 126.26 344.16 127.21C345.28 128.16 346.63 129.59 348.04 131.22C349.45 132.86 351.09 135.54 352.62 137.02C354.14 138.5 355.67 139.58 357.2 140.08C358.72 140.58 360.25 140.43 361.78 140.01C363.3 139.6 365.15 138.59 366.36 137.59C367.56 136.6 368.41 135.22 369 134.03C369.59 132.84 369.73 131.6 369.88 130.44C370.03 129.28 369.88 127.64 369.88 127.08" fill="none" stroke-width="2.98"/>
<path d="M323.73 128.45C324.49 128.3 326.66 127.85 328.31 127.52C329.95 127.19 331.95 126.81 333.59 126.46C335.24 126.1 336.88 125.53 338.17 125.38C339.46 125.23 340.35 125.23 341.34 125.53C342.34 125.84 343.05 126.26 344.16 127.21C345.28 128.16 346.63 129.59 348.04 131.22C349.45 132.86 351.09 135.54 352.62 137.02C354.14 138.5 355.67 139.58 357.2 140.08C358.72 140.58 360.25 140.43 361.78 140.01C363.3 139.6 365.15 138.59 366.36 137.59C367.56 136.6 368.41 135.22 369 134.03C369.59 132.84 369.73 131.6 369.88 130.44C370.03 129.28 369.88 127.64 369.88 127.08" fill="none" stroke="#fff" stroke-width="1.22"/>
<path d="M317.95 128.06C317.67 127.83 316.88 127.18 316.28 126.69C315.67 126.21 314.94 125.65 314.34 125.14C313.74 124.63 313.14 123.91 312.67 123.63C312.19 123.36 311.87 123.27 311.5 123.49C311.14 123.7 310.88 124.06 310.47 124.9C310.06 125.75 309.57 127.05 309.05 128.55C308.54 130.05 307.94 132.59 307.38 133.92C306.82 135.25 306.26 136.19 305.7 136.55C305.14 136.91 304.58 136.61 304.03 136.06C303.47 135.5 302.79 134.31 302.35 133.2C301.91 132.09 301.6 130.64 301.38 129.4C301.17 128.15 301.11 126.9 301.06 125.72C301.01 124.55 301.06 122.92 301.06 122.36" fill="none" stroke-width="2.98"/>
<path d="M317.95 128.06C317.67 127.83 316.88 127.18 316.28 126.69C315.67 126.21 314.94 125.65 314.34 125.14C313.74 124.63 313.14 123.91 312.67 123.63C312.19 123.36 311.87 123.27 311.5 123.49C311.14 123.7 310.88 124.06 310.47 124.9C310.06 125.75 309.57 127.05 309.05 128.55C308.54 130.05 307.94 132.59 307.38 133.92C306.82 135.25 306.26 136.19 305.7 136.55C305.14 136.91 304.58 136.61 304.03 136.06C303.47 135.5 302.79 134.31 302.35 133.2C301.91 132.09 301.6 130.64 301.38 129.4C301.17 128.15 301.11 126.9 301.06 125.72C301.01 124.55 301.06 122.92 301.06 122.36" fill="none" stroke="#fff" stroke-width="1.22"/>
<path d="M321.05 128.06C321.33 127.83 322.12 127.18 322.72 126.69C323.33 126.21 324.06 125.65 324.66 125.14C325.26 124.63 325.86 123.91 326.33 123.63C326.81 123.36 327.13 123.27 327.5 123.49C327.86 123.7 328.12 124.06 328.53 124.9C328.94 125.75 329.43 127.05 329.95 128.55C330.46 130.05 331.06 132.59 331.62 133.92C332.18 135.25 332.74 136.19 333.3 136.55C333.86 136.91 334.42 136.61 334.97 136.06C335.53 135.5 336.21 134.31 336.65 133.2C337.09 132.09 337.4 130.64 337.62 129.4C337.83 128.15 337.89 126.9 337.94 125.72C337.99 124.55 337.94 122.92 337.94 122.36" fill="none" stroke-width="2.98"/>
<path d="M321.05 128.06C321.33 127.83 322.12 127.18 322.72 126.69C323.33 126.21 324.06 125.65 324.66 125.14C325.26 124.63 325.86 123.91 326.33 123.63C326.81 123.36 327.13 123.27 327.5 123.49C327.86 123.7 328.12 124.06 328.53 124.9C328.94 125.75 329.43 127.05 329.95 128.55C330.46 130.05 331.06 132.59 331.62 133.92C332.18 135.25 332.74 136.19 333.3 136.55C333.86 136.91 334.42 136.61 334.97 136.06C335.53 135.5 336.21 134.31 336.65 133.2C337.09 132.09 337.4 130.64 337.62 129.4C337.83 128.15 337.89 126.9 337.94 125.72C337.99 124.55 337.94 122.92 337.94 122.36" fill="none" stroke="#fff" stroke-width="1.22"/>
<path d="M242.43 98.32A8.25 1.69 0 0 1 258.93 98.32Q261.63 108.39 263.23 118.9A12.55 3.21 0 0 1 238.13 118.9Q239.73 108.39 242.43 98.32Z" fill="#fff" stroke-width="0.88"/>
<path d="M243.08 97.8L238.91 117.94M258.28 97.8L262.45 117.94" fill="none" stroke-width="0.53"/>
<ellipse cx="250.68" cy="118.9" rx="12.55" ry="3.21" fill="#fff" stroke-width="0.88"/>
<ellipse cx="250.68" cy="119.05" rx="11.45" ry="2.93" fill="#fff" stroke-width="0.88"/>
<path d="M238.33 117.94A12.35 3.16 0 0 1 263.03 117.94" fill="none" stroke-width="0.62"/>
<path d="M248.08 116.97L248.28 116.72L248.84 116.51L249.68 116.36L250.68 116.31L251.67 116.36L252.52 116.51L253.08 116.72L253.28 116.97L253.28 119.39L253.08 119.64L252.52 119.85L251.67 120L250.68 120.05L249.68 120L248.84 119.85L248.28 119.64L248.08 119.39Z" fill="#fff" stroke-width="0.7"/>
<path d="M248.08 119.38A2.6 0.67 0 0 1 253.28 119.38" fill="none" stroke-width="0.7"/>
<path d="M242.64 120.16A10.05 2.57 0 0 0 258.72 120.16" fill="none" stroke-width="0.53"/>
<path d="M245.08 123.8L245.35 122.71L245.68 121.8L246.08 121.18L246.72 120.61L247.75 120.04L248.48 119.81L249.59 119.63L250.68 119.58L251.77 119.63L252.88 119.81L253.6 120.04L254.64 120.61L255.28 121.18L255.68 121.8L256 122.71L256.28 123.8L256.28 123.81L256.12 124.14L255.45 124.7L252.88 126.42L251.99 126.66L250.68 126.75L249.37 126.66L248.48 126.42L245.9 124.7L245.23 124.14L245.08 123.81Z" fill="#fff" stroke-width="1.1"/>
<path d="M249.49 119.92L245.92 123.05L248.15 125.09M249.98 119.76L247.88 122.56L249.19 124.8M250.44 119.71L249.73 122.39L250.17 124.7M250.92 119.71L251.63 122.39L251.18 124.7M251.38 119.76L253.48 122.56L252.16 124.8M251.87 119.92L255.44 123.05L253.2 125.09" fill="none" stroke-width="0.88"/>
<path d="M249.73 119.82L247.31 121.1L247.25 122.75M250.22 119.73L249.04 120.83L249.01 122.45M250.68 119.7L250.68 120.76L250.68 122.37M251.14 119.73L252.31 120.83L252.34 122.45M251.63 119.82L254.04 121.1L254.1 122.75" fill="none" stroke-width="0.88"/>
<path d="M245.08 123.81A5.6 1.43 0 0 1 256.28 123.81" fill="none" stroke-width="0.88"/>
<path d="M244.37 128.56L244.49 127.71L244.85 126.97L245.3 126.42L246.05 125.86L246.77 125.55L247.88 125.28L249.21 125.1L250.68 125.03L252.17 125.1L253.54 125.29L254.57 125.54L255.37 125.9L256.05 126.42L256.68 127.26L256.94 128.03L256.98 128.56L256.98 128.58L256.91 129.4L256.75 129.98L256.5 130.49L256.05 131.03L255.31 131.66L254.77 132.01L254.18 132.27L253.48 132.48L253.43 133.36L253.32 133.47L252.86 133.68L252.08 133.85L252.08 135.98L251.91 136.14L251.66 136.22L250.68 136.33L249.94 136.27L249.37 136.1L249.28 135.98L249.28 133.85L248.5 133.68L248.04 133.47L247.93 133.36L247.88 132.48L247.17 132.27L246.57 132.01L246.05 131.66L245.3 131.03L244.85 130.49L244.61 129.98L244.45 129.4L244.37 128.58Z" fill="#fff" stroke-width="0.88"/>
<path d="M245.39 130.92A5.29 1.35 0 0 1 255.97 130.92" fill="none" stroke-width="0.88"/>
<path d="M249.28 133.23A1.4 0.36 0 0 1 252.08 133.23" fill="none" stroke-width="0.88"/>
<path d="M246.68 131.69A4 1.02 0 0 1 254.68 131.69" fill="none" stroke-width="1.76"/>
<path d="M380.07 98.32A8.25 1.69 0 0 1 396.57 98.32Q399.27 108.39 400.87 118.9A12.55 3.21 0 0 1 375.77 118.9Q377.37 108.39 380.07 98.32Z" fill="#fff" stroke-width="0.88"/>
<path d="M380.72 97.8L376.55 117.94M395.92 97.8L400.09 117.94" fill="none" stroke-width="0.53"/>
<ellipse cx="388.32" cy="118.9" rx="12.55" ry="3.21" fill="#fff" stroke-width="0.88"/>
<ellipse cx="388.32" cy="119.05" rx="11.45" ry="2.93" fill="#fff" stroke-width="0.88"/>
<path d="M375.97 117.94A12.35 3.16 0 0 1 400.67 117.94" fill="none" stroke-width="0.62"/>
<path d="M385.72 116.97L385.92 116.72L386.48 116.51L387.33 116.36L388.32 116.31L389.32 116.36L390.16 116.51L390.72 116.72L390.92 116.97L390.92 119.39L390.72 119.64L390.16 119.85L389.32 120L388.32 120.05L387.33 120L386.48 119.85L385.92 119.64L385.72 119.39Z" fill="#fff" stroke-width="0.7"/>
<path d="M385.72 119.38A2.6 0.67 0 0 1 390.92 119.38" fill="none" stroke-width="0.7"/>
<path d="M380.28 120.16A10.05 2.57 0 0 0 396.36 120.16" fill="none" stroke-width="0.53"/>
<path d="M382.72 123.8L383 122.71L383.32 121.8L383.72 121.18L384.36 120.61L385.4 120.04L386.12 119.81L387.23 119.63L388.32 119.58L389.41 119.63L390.52 119.81L391.25 120.04L392.28 120.61L392.92 121.18L393.32 121.8L393.65 122.71L393.92 123.8L393.92 123.81L393.77 124.14L393.1 124.7L390.52 126.42L389.63 126.66L388.32 126.75L387.01 126.66L386.12 126.42L383.55 124.7L382.88 124.14L382.72 123.81Z" fill="#fff" stroke-width="1.1"/>
<path d="M387.13 119.92L383.56 123.05L385.8 125.09M387.62 119.76L385.52 122.56L386.84 124.8M388.08 119.71L387.37 122.39L387.82 124.7M388.56 119.71L389.27 122.39L388.83 124.7M389.02 119.76L391.12 122.56L389.81 124.8M389.51 119.92L393.08 123.05L390.85 125.09" fill="none" stroke-width="0.88"/>
<path d="M387.37 119.82L384.96 121.1L384.9 122.75M387.86 119.73L386.69 120.83L386.66 122.45M388.32 119.7L388.32 120.76L388.32 122.37M388.78 119.73L389.96 120.83L389.99 122.45M389.27 119.82L391.69 121.1L391.75 122.75" fill="none" stroke-width="0.88"/>
<path d="M382.72 123.81A5.6 1.43 0 0 1 393.92 123.81" fill="none" stroke-width="0.88"/>
<path d="M382.02 128.56L382.14 127.71L382.5 126.97L382.95 126.42L383.69 125.86L384.42 125.55L385.52 125.28L386.85 125.1L388.32 125.03L389.82 125.1L391.19 125.29L392.22 125.54L393.02 125.9L393.7 126.42L394.32 127.26L394.58 128.03L394.63 128.56L394.63 128.58L394.55 129.4L394.39 129.98L394.15 130.49L393.7 131.03L392.95 131.66L392.42 132.01L391.83 132.27L391.12 132.48L391.07 133.36L390.96 133.47L390.5 133.68L389.72 133.85L389.72 135.98L389.55 136.14L389.31 136.22L388.32 136.33L387.58 136.27L387.02 136.1L386.92 135.98L386.92 133.85L386.14 133.68L385.68 133.47L385.57 133.36L385.52 132.48L384.82 132.27L384.22 132.01L383.69 131.66L382.95 131.03L382.5 130.49L382.25 129.98L382.09 129.4L382.02 128.58Z" fill="#fff" stroke-width="0.88"/>
<path d="M383.03 130.92A5.29 1.35 0 0 1 393.61 130.92" fill="none" stroke-width="0.88"/>
<path d="M386.92 133.23A1.4 0.36 0 0 1 389.72 133.23" fill="none" stroke-width="0.88"/>
<path d="M384.32 131.69A4 1.02 0 0 1 392.32 131.69" fill="none" stroke-width="1.76"/>
<path d="M260.87 90.15A8.25 1.69 0 0 1 277.37 90.15Q280.07 100.22 281.67 110.73A12.55 3.21 0 0 1 256.57 110.73Q258.17 100.22 260.87 90.15Z" fill="#fff" stroke-width="0.88"/>
<path d="M261.52 89.62L257.35 109.77M276.72 89.62L280.89 109.77" fill="none" stroke-width="0.53"/>
<ellipse cx="269.12" cy="110.73" rx="12.55" ry="3.21" fill="#fff" stroke-width="0.88"/>
<ellipse cx="269.12" cy="110.87" rx="11.45" ry="2.93" fill="#fff" stroke-width="0.88"/>
<path d="M256.77 109.77A12.35 3.16 0 0 1 281.47 109.77" fill="none" stroke-width="0.62"/>
<path d="M266.52 108.8L266.72 108.55L267.28 108.34L268.12 108.19L269.12 108.14L270.11 108.19L270.96 108.34L271.52 108.55L271.72 108.8L271.72 111.22L271.52 111.47L270.96 111.68L270.11 111.82L269.12 111.88L268.12 111.82L267.28 111.68L266.72 111.47L266.52 111.22Z" fill="#fff" stroke-width="0.7"/>
<path d="M266.52 111.21A2.6 0.67 0 0 1 271.72 111.21" fill="none" stroke-width="0.7"/>
<path d="M261.08 111.98A10.05 2.57 0 0 0 277.16 111.98" fill="none" stroke-width="0.53"/>
<path d="M263.52 115.62L263.79 114.54L264.12 113.63L264.52 113.01L265.16 112.44L266.19 111.87L266.92 111.64L268.03 111.46L269.12 111.41L270.21 111.46L271.32 111.64L272.04 111.87L273.08 112.44L273.72 113.01L274.12 113.63L274.44 114.54L274.72 115.62L274.72 115.64L274.56 115.97L273.89 116.53L271.32 118.24L270.43 118.49L269.12 118.58L267.81 118.49L266.92 118.24L264.34 116.53L263.67 115.97L263.52 115.64Z" fill="#fff" stroke-width="1.1"/>
<path d="M267.93 111.74L264.36 114.88L266.59 116.92M268.42 111.59L266.32 114.39L267.63 116.63M268.88 111.54L268.17 114.22L268.61 116.53M269.36 111.54L270.07 114.22L269.62 116.53M269.82 111.59L271.92 114.39L270.6 116.63M270.31 111.74L273.88 114.88L271.64 116.92" fill="none" stroke-width="0.88"/>
<path d="M268.17 111.65L265.75 112.93L265.69 114.58M268.66 111.56L267.49 112.66L267.46 114.28M269.12 111.53L269.12 112.59L269.12 114.2M269.58 111.56L270.75 112.66L270.78 114.28M270.07 111.65L272.48 112.93L272.55 114.58" fill="none" stroke-width="0.88"/>
<path d="M263.52 115.63A5.6 1.43 0 0 1 274.72 115.63" fill="none" stroke-width="0.88"/>
<path d="M262.81 120.39L262.93 119.54L263.29 118.8L263.74 118.25L264.49 117.69L265.21 117.38L266.32 117.1L267.65 116.92L269.12 116.86L270.61 116.93L271.98 117.12L273.01 117.37L273.81 117.72L274.5 118.25L275.12 119.08L275.38 119.86L275.42 120.39L275.42 120.41L275.35 121.23L275.19 121.81L274.94 122.31L274.5 122.86L273.75 123.48L273.21 123.84L272.62 124.1L271.92 124.31L271.87 125.19L271.76 125.29L271.3 125.51L270.52 125.68L270.52 127.81L270.35 127.97L270.11 128.05L269.12 128.15L268.38 128.1L267.81 127.93L267.72 127.81L267.72 125.68L266.94 125.51L266.48 125.29L266.37 125.19L266.32 124.31L265.62 124.1L265.01 123.83L264.49 123.48L263.74 122.86L263.29 122.31L263.05 121.81L262.89 121.23L262.81 120.41Z" fill="#fff" stroke-width="0.88"/>
<path d="M263.83 122.75A5.29 1.35 0 0 1 274.41 122.75" fill="none" stroke-width="0.88"/>
<path d="M267.72 125.06A1.4 0.36 0 0 1 270.52 125.06" fill="none" stroke-width="0.88"/>
<path d="M265.12 123.52A4 1.02 0 0 1 273.12 123.52" fill="none" stroke-width="1.76"/>
<path d="M361.63 90.15A8.25 1.69 0 0 1 378.13 90.15Q380.83 100.22 382.43 110.73A12.55 3.21 0 0 1 357.33 110.73Q358.93 100.22 361.63 90.15Z" fill="#fff" stroke-width="0.88"/>
<path d="M362.28 89.62L358.11 109.77M377.48 89.62L381.65 109.77" fill="none" stroke-width="0.53"/>
<ellipse cx="369.88" cy="110.73" rx="12.55" ry="3.21" fill="#fff" stroke-width="0.88"/>
<ellipse cx="369.88" cy="110.87" rx="11.45" ry="2.93" fill="#fff" stroke-width="0.88"/>
<path d="M357.53 109.77A12.35 3.16 0 0 1 382.23 109.77" fill="none" stroke-width="0.62"/>
<path d="M367.28 108.8L367.48 108.55L368.04 108.34L368.89 108.19L369.88 108.14L370.88 108.19L371.72 108.34L372.28 108.55L372.48 108.8L372.48 111.22L372.28 111.47L371.72 111.68L370.88 111.82L369.88 111.88L368.89 111.82L368.04 111.68L367.48 111.47L367.28 111.22Z" fill="#fff" stroke-width="0.7"/>
<path d="M367.28 111.21A2.6 0.67 0 0 1 372.48 111.21" fill="none" stroke-width="0.7"/>
<path d="M361.84 111.98A10.05 2.57 0 0 0 377.92 111.98" fill="none" stroke-width="0.53"/>
<path d="M364.28 115.62L364.56 114.54L364.88 113.63L365.28 113.01L365.92 112.44L366.96 111.87L367.68 111.64L368.79 111.46L369.88 111.41L370.97 111.46L372.08 111.64L372.81 111.87L373.84 112.44L374.48 113.01L374.88 113.63L375.21 114.54L375.48 115.62L375.48 115.64L375.33 115.97L374.66 116.53L372.08 118.24L371.19 118.49L369.88 118.58L368.57 118.49L367.68 118.24L365.11 116.53L364.44 115.97L364.28 115.64Z" fill="#fff" stroke-width="1.1"/>
<path d="M368.69 111.74L365.12 114.88L367.36 116.92M369.18 111.59L367.08 114.39L368.4 116.63M369.64 111.54L368.93 114.22L369.38 116.53M370.12 111.54L370.83 114.22L370.39 116.53M370.58 111.59L372.68 114.39L371.37 116.63M371.07 111.74L374.64 114.88L372.41 116.92" fill="none" stroke-width="0.88"/>
<path d="M368.93 111.65L366.52 112.93L366.45 114.58M369.42 111.56L368.25 112.66L368.22 114.28M369.88 111.53L369.88 112.59L369.88 114.2M370.34 111.56L371.51 112.66L371.54 114.28M370.83 111.65L373.25 112.93L373.31 114.58" fill="none" stroke-width="0.88"/>
<path d="M364.28 115.63A5.6 1.43 0 0 1 375.48 115.63" fill="none" stroke-width="0.88"/>
<path d="M363.58 120.39L363.7 119.54L364.06 118.8L364.5 118.25L365.25 117.69L365.98 117.38L367.08 117.1L368.41 116.92L369.88 116.86L371.37 116.93L372.74 117.12L373.77 117.37L374.57 117.72L375.26 118.25L375.88 119.08L376.14 119.86L376.19 120.39L376.19 120.41L376.11 121.23L375.95 121.81L375.71 122.31L375.26 122.86L374.51 123.48L373.98 123.84L373.38 124.1L372.68 124.31L372.63 125.19L372.52 125.29L372.06 125.51L371.28 125.68L371.28 127.81L371.11 127.97L370.87 128.05L369.88 128.15L369.14 128.1L368.57 127.93L368.48 127.81L368.48 125.68L367.7 125.51L367.24 125.29L367.13 125.19L367.08 124.31L366.38 124.1L365.77 123.83L365.25 123.48L364.5 122.86L364.06 122.31L363.81 121.81L363.65 121.23L363.58 120.41Z" fill="#fff" stroke-width="0.88"/>
<path d="M364.59 122.75A5.29 1.35 0 0 1 375.17 122.75" fill="none" stroke-width="0.88"/>
<path d="M368.48 125.06A1.4 0.36 0 0 1 371.28 125.06" fill="none" stroke-width="0.88"/>
<path d="M365.88 123.52A4 1.02 0 0 1 373.88 123.52" fill="none" stroke-width="1.76"/>
<path d="M292.81 85.43A8.25 1.69 0 0 1 309.31 85.43Q312.01 95.5 313.61 106.01A12.55 3.21 0 0 1 288.51 106.01Q290.11 95.5 292.81 85.43Z" fill="#fff" stroke-width="0.88"/>
<path d="M293.46 84.91L289.29 105.05M308.66 84.91L312.83 105.05" fill="none" stroke-width="0.53"/>
<ellipse cx="301.06" cy="106.01" rx="12.55" ry="3.21" fill="#fff" stroke-width="0.88"/>
<ellipse cx="301.06" cy="106.16" rx="11.45" ry="2.93" fill="#fff" stroke-width="0.88"/>
<path d="M288.71 105.05A12.35 3.16 0 0 1 313.41 105.05" fill="none" stroke-width="0.62"/>
<path d="M298.46 104.08L298.66 103.83L299.22 103.62L300.06 103.47L301.06 103.42L302.05 103.47L302.9 103.62L303.46 103.83L303.66 104.08L303.66 106.5L303.46 106.75L302.9 106.96L302.05 107.11L301.06 107.16L300.06 107.11L299.22 106.96L298.66 106.75L298.46 106.5Z" fill="#fff" stroke-width="0.7"/>
<path d="M298.46 106.49A2.6 0.67 0 0 1 303.66 106.49" fill="none" stroke-width="0.7"/>
<path d="M293.02 107.27A10.05 2.57 0 0 0 309.1 107.27" fill="none" stroke-width="0.53"/>
<path d="M295.46 110.91L295.73 109.82L296.06 108.91L296.46 108.29L297.1 107.72L298.13 107.15L298.86 106.92L299.97 106.74L301.06 106.69L302.15 106.74L303.26 106.92L303.99 107.15L305.02 107.72L305.66 108.29L306.06 108.91L306.39 109.82L306.66 110.91L306.66 110.92L306.5 111.25L305.83 111.81L303.26 113.53L302.37 113.77L301.06 113.86L299.75 113.77L298.86 113.53L296.28 111.81L295.61 111.25L295.46 110.92Z" fill="#fff" stroke-width="1.1"/>
<path d="M299.87 107.03L296.3 110.16L298.53 112.2M300.36 106.87L298.26 109.67L299.57 111.91M300.82 106.82L300.11 109.5L300.55 111.81M301.3 106.82L302.01 109.5L301.56 111.81M301.76 106.87L303.86 109.67L302.54 111.91M302.25 107.03L305.82 110.16L303.58 112.2" fill="none" stroke-width="0.88"/>
<path d="M300.11 106.93L297.69 108.21L297.63 109.86M300.6 106.84L299.43 107.94L299.4 109.56M301.06 106.81L301.06 107.87L301.06 109.48M301.52 106.84L302.69 107.94L302.72 109.56M302.01 106.93L304.43 108.21L304.49 109.86" fill="none" stroke-width="0.88"/>
<path d="M295.46 110.92A5.6 1.43 0 0 1 306.66 110.92" fill="none" stroke-width="0.88"/>
<path d="M294.75 115.67L294.87 114.82L295.23 114.08L295.68 113.53L296.43 112.97L297.15 112.66L298.26 112.39L299.59 112.21L301.06 112.14L302.55 112.21L303.92 112.4L304.95 112.65L305.75 113.01L306.44 113.53L307.06 114.37L307.32 115.14L307.37 115.67L307.37 115.69L307.29 116.51L307.13 117.09L306.89 117.6L306.44 118.14L305.69 118.77L305.15 119.12L304.56 119.38L303.86 119.59L303.81 120.47L303.7 120.58L303.24 120.79L302.46 120.96L302.46 123.09L302.29 123.25L302.05 123.33L301.06 123.44L300.32 123.38L299.75 123.21L299.66 123.09L299.66 120.96L298.88 120.79L298.42 120.58L298.31 120.47L298.26 119.59L297.56 119.38L296.95 119.12L296.43 118.77L295.68 118.14L295.23 117.6L294.99 117.09L294.83 116.51L294.75 115.69Z" fill="#fff" stroke-width="0.88"/>
<path d="M295.77 118.03A5.29 1.35 0 0 1 306.35 118.03" fill="none" stroke-width="0.88"/>
<path d="M299.66 120.34A1.4 0.36 0 0 1 302.46 120.34" fill="none" stroke-width="0.88"/>
<path d="M297.06 118.8A4 1.02 0 0 1 305.06 118.8" fill="none" stroke-width="1.76"/>
<path d="M329.69 85.43A8.25 1.69 0 0 1 346.19 85.43Q348.89 95.5 350.49 106.01A12.55 3.21 0 0 1 325.39 106.01Q326.99 95.5 329.69 85.43Z" fill="#fff" stroke-width="0.88"/>
<path d="M330.34 84.91L326.17 105.05M345.54 84.91L349.71 105.05" fill="none" stroke-width="0.53"/>
<ellipse cx="337.94" cy="106.01" rx="12.55" ry="3.21" fill="#fff" stroke-width="0.88"/>
<ellipse cx="337.94" cy="106.16" rx="11.45" ry="2.93" fill="#fff" stroke-width="0.88"/>
<path d="M325.59 105.05A12.35 3.16 0 0 1 350.29 105.05" fill="none" stroke-width="0.62"/>
<path d="M335.34 104.08L335.54 103.83L336.1 103.62L336.95 103.47L337.94 103.42L338.94 103.47L339.78 103.62L340.34 103.83L340.54 104.08L340.54 106.5L340.34 106.75L339.78 106.96L338.94 107.11L337.94 107.16L336.95 107.11L336.1 106.96L335.54 106.75L335.34 106.5Z" fill="#fff" stroke-width="0.7"/>
<path d="M335.34 106.49A2.6 0.67 0 0 1 340.54 106.49" fill="none" stroke-width="0.7"/>
<path d="M329.9 107.27A10.05 2.57 0 0 0 345.98 107.27" fill="none" stroke-width="0.53"/>
<path d="M332.34 110.91L332.61 109.82L332.94 108.91L333.34 108.29L333.98 107.72L335.01 107.15L335.74 106.92L336.85 106.74L337.94 106.69L339.03 106.74L340.14 106.92L340.87 107.15L341.9 107.72L342.54 108.29L342.94 108.91L343.27 109.82L343.54 110.91L343.54 110.92L343.39 111.25L342.72 111.81L340.14 113.53L339.25 113.77L337.94 113.86L336.63 113.77L335.74 113.53L333.17 111.81L332.5 111.25L332.34 110.92Z" fill="#fff" stroke-width="1.1"/>
<path d="M336.75 107.03L333.18 110.16L335.42 112.2M337.24 106.87L335.14 109.67L336.46 111.91M337.7 106.82L336.99 109.5L337.44 111.81M338.18 106.82L338.89 109.5L338.45 111.81M338.64 106.87L340.74 109.67L339.43 111.91M339.13 107.03L342.7 110.16L340.47 112.2" fill="none" stroke-width="0.88"/>
<path d="M336.99 106.93L334.57 108.21L334.51 109.86M337.48 106.84L336.31 107.94L336.28 109.56M337.94 106.81L337.94 107.87L337.94 109.48M338.4 106.84L339.57 107.94L339.6 109.56M338.89 106.93L341.31 108.21L341.37 109.86" fill="none" stroke-width="0.88"/>
<path d="M332.34 110.92A5.6 1.43 0 0 1 343.54 110.92" fill="none" stroke-width="0.88"/>
<path d="M331.63 115.67L331.76 114.82L332.11 114.08L332.56 113.53L333.31 112.97L334.04 112.66L335.14 112.39L336.47 112.21L337.94 112.14L339.43 112.21L340.8 112.4L341.83 112.65L342.63 113.01L343.32 113.53L343.94 114.37L344.2 115.14L344.25 115.67L344.25 115.69L344.17 116.51L344.01 117.09L343.77 117.6L343.32 118.14L342.57 118.77L342.04 119.12L341.44 119.38L340.74 119.59L340.69 120.47L340.58 120.58L340.12 120.79L339.34 120.96L339.34 123.09L339.17 123.25L338.93 123.33L337.94 123.44L337.2 123.38L336.63 123.21L336.54 123.09L336.54 120.96L335.76 120.79L335.3 120.58L335.19 120.47L335.14 119.59L334.44 119.38L333.83 119.12L333.31 118.77L332.56 118.14L332.11 117.6L331.87 117.09L331.71 116.51L331.63 115.69Z" fill="#fff" stroke-width="0.88"/>
<path d="M332.65 118.03A5.29 1.35 0 0 1 343.23 118.03" fill="none" stroke-width="0.88"/>
<path d="M336.54 120.34A1.4 0.36 0 0 1 339.34 120.34" fill="none" stroke-width="0.88"/>
<path d="M333.94 118.8A4 1.02 0 0 1 341.94 118.8" fill="none" stroke-width="1.76"/>
</g>
<g stroke="#111" stroke-linejoin="round" stroke-linecap="butt">
<path d="M318.06 199.64L318.09 199.11L318.25 198.42L318.54 197.69L318.8 197.22L319.48 196.38L320.66 195.45L322.04 194.74L323.86 194.13L325.82 193.77L327.7 193.66L329.58 193.77L331.46 194.11L333.06 194.62L334.66 195.41L335.71 196.19L336.26 196.76L336.6 197.22L336.86 197.69L337.15 198.42L337.31 199.11L337.34 199.64L337.34 199.69L337.27 200.32L337.15 200.76L336.97 201.22L336.6 201.88L335.71 202.94L334.24 204.2L333.96 205.25L333.06 207.96L332.66 208.56L331.73 209.41L330.58 210.02L329.21 210.41L327.7 210.54L326.19 210.41L324.82 210.02L323.67 209.41L322.67 208.48L322.26 207.79L321.16 204.2L319.69 202.94L318.8 201.88L318.26 200.81L318.13 200.32L318.06 199.69Z" fill="#fff" stroke-width="0.9"/>
<path d="M318.07 199.52A9.63 5.52 0 0 1 337.33 199.52" fill="none" stroke-width="0.9"/>
<path d="M321.19 203.62A6.51 3.74 0 0 1 334.21 203.62" fill="none" stroke-width="0.9"/>
<path d="M321.29 204.45A6.41 3.68 0 0 1 334.11 204.45" fill="none" stroke-width="0.9"/>
<path d="M322.14 207.13A5.55 3.19 0 0 1 333.25 207.13" fill="none" stroke-width="0.9"/>
<path d="M327.09 207.91L327.27 207.67L327.7 207.57L328.13 207.67L328.31 207.91L328.31 217.11L328.13 217.35L327.7 217.45L327.27 217.35L327.09 217.11Z" fill="#fff" stroke-width="0.9"/>
<path d="M326.59 217.1L326.67 216.86L326.91 216.65L327.27 216.52L327.7 216.47L328.13 216.52L328.49 216.65L328.73 216.86L328.81 217.1L328.81 219.68L328.73 219.91L328.49 220.12L328.13 220.26L327.7 220.31L327.27 220.26L326.91 220.12L326.67 219.91L326.59 219.68Z" fill="#444" stroke-width="0.9"/>
<path d="M327.7 219.67L327.7 221.65M327.7 225.46L327.7 230.01M327.7 233.82L327.7 238.37M327.7 242.17L327.7 245.56" fill="none" stroke-width="1.53"/>
<ellipse cx="327.7" cy="223.56" rx="1.36" ry="2.32" fill="#fff" stroke-width="1.12"/>
<ellipse cx="327.7" cy="231.91" rx="1.36" ry="2.32" fill="#fff" stroke-width="1.12"/>
<ellipse cx="327.7" cy="240.27" rx="1.36" ry="2.32" fill="#fff" stroke-width="1.12"/>
<path d="M300.74 311.16A8.33 3.82 0 0 1 317.41 311.16Q320.13 319.79 321.75 328.87A12.68 7.27 0 0 1 296.4 328.87Q298.02 319.79 300.74 311.16Z" fill="#fff" stroke-width="0.9"/>
<path d="M301.4 309.97L297.19 326.69M316.75 309.97L320.96 326.69" fill="none" stroke-width="0.54"/>
<ellipse cx="309.07" cy="328.87" rx="12.68" ry="7.27" fill="#fff" stroke-width="0.9"/>
<ellipse cx="309.07" cy="328.99" rx="11.56" ry="6.63" fill="#fff" stroke-width="0.9"/>
<path d="M296.6 328.04A12.47 7.15 0 0 1 321.55 328.04" fill="none" stroke-width="0.63"/>
<path d="M306.45 327.2L306.5 326.92L306.65 326.64L307.22 326.15L308.07 325.82L309.07 325.71L310.08 325.82L310.93 326.15L311.5 326.64L311.65 326.92L311.7 327.2L311.7 329.3L311.65 329.58L311.5 329.86L310.93 330.35L310.08 330.67L309.07 330.79L308.07 330.67L307.22 330.35L306.65 329.86L306.5 329.58L306.45 329.3Z" fill="#fff" stroke-width="0.72"/>
<path d="M306.45 329.28A2.63 1.51 0 0 1 311.7 329.28" fill="none" stroke-width="0.72"/>
<path d="M300.95 332.11A10.15 5.82 0 0 0 317.2 332.11" fill="none" stroke-width="0.54"/>
<path d="M303.42 332.66L303.53 332.04L304.04 330.88L304.63 330.02L305.24 329.47L306.02 328.97L306.91 328.58L307.97 328.32L309.07 328.23L310.18 328.32L311.22 328.58L312.03 328.92L312.91 329.47L313.52 330.02L314.11 330.88L314.62 332.04L314.73 332.66L314.73 332.69L314.62 333.31L314.3 333.92L313.78 334.48L313.22 334.88L312.22 335.39L311.24 335.74L309.74 336.06L309.07 336.11L308.41 336.06L306.82 335.72L305.93 335.39L304.92 334.88L304.25 334.37L303.85 333.92L303.53 333.31L303.42 332.69Z" fill="#fff" stroke-width="1.12"/>
<path d="M307.87 329.41L304.27 330.97L306.52 333.16M308.37 329.07L306.25 329.87L307.57 332.51M308.83 328.95L308.11 329.48L308.56 332.28M309.32 328.95L310.04 329.48L309.58 332.28M309.78 329.07L311.9 329.87L310.57 332.51M310.28 329.41L313.88 330.97L311.62 333.16" fill="none" stroke-width="0.9"/>
<path d="M308.11 329.2L305.68 329.25L305.61 330.3M308.61 328.99L307.42 328.64L307.39 329.61M309.07 328.93L309.07 328.48L309.07 329.43M309.54 328.99L310.72 328.64L310.75 329.61M310.04 329.2L312.47 329.25L312.54 330.3" fill="none" stroke-width="0.9"/>
<path d="M303.42 332.68A5.66 3.24 0 0 1 314.73 332.68" fill="none" stroke-width="0.9"/>
<path d="M302.71 336.76L302.78 335.96L303.1 335.03L303.71 334.12L304.57 333.31L305.54 332.72L306.51 332.34L307.71 332.06L309.07 331.96L310.32 332.04L311.51 332.3L312.61 332.72L313.58 333.31L314.51 334.2L315.05 335.03L315.37 335.96L315.44 336.76L315.44 336.8L315.4 337.45L315.21 338.31L314.86 339.1L314.37 339.79L313.92 340.24L313.21 340.76L312.51 341.15L311.71 341.48L311.04 341.95L310.49 342.19L310.49 343.17L310.32 343.53L309.82 343.83L309.07 343.95L308.33 343.83L307.83 343.53L307.66 343.17L307.66 342.19L307.11 341.95L306.51 341.5L305.71 341.18L304.94 340.76L304.23 340.24L303.78 339.79L303.29 339.1L302.94 338.31L302.75 337.45L302.71 336.8Z" fill="#fff" stroke-width="0.9"/>
<path d="M303.73 338.8A5.34 3.06 0 0 1 314.42 338.8" fill="none" stroke-width="0.9"/>
<path d="M307.66 340.78A1.41 0.81 0 0 1 310.49 340.78" fill="none" stroke-width="0.9"/>
<path d="M305.03 339.46A4.04 2.32 0 0 1 313.11 339.46" fill="none" stroke-width="1.8"/>
<path d="M326.14 297.02C325.85 297.66 325.05 299.47 324.44 300.85C323.84 302.23 323.1 303.93 322.49 305.28C321.88 306.64 321.27 307.82 320.8 308.99C320.32 310.16 319.99 311.05 319.62 312.33C319.26 313.6 319 314.68 318.58 316.62C318.17 318.57 317.67 321.16 317.15 323.99C316.63 326.83 316.02 330.8 315.46 333.62C314.89 336.43 314.33 338.91 313.76 340.88C313.2 342.85 312.63 344.27 312.07 345.46C311.51 346.64 310.82 347.65 310.38 348.01C309.93 348.37 309.62 348.05 309.4 347.62C309.18 347.18 309.13 346.27 309.07 345.42C309.02 344.57 309.07 343 309.07 342.52" fill="none" stroke-width="3.02"/>
<path d="M326.14 297.02C325.85 297.66 325.05 299.47 324.44 300.85C323.84 302.23 323.1 303.93 322.49 305.28C321.88 306.64 321.27 307.82 320.8 308.99C320.32 310.16 319.99 311.05 319.62 312.33C319.26 313.6 319 314.68 318.58 316.62C318.17 318.57 317.67 321.16 317.15 323.99C316.63 326.83 316.02 330.8 315.46 333.62C314.89 336.43 314.33 338.91 313.76 340.88C313.2 342.85 312.63 344.27 312.07 345.46C311.51 346.64 310.82 347.65 310.38 348.01C309.93 348.37 309.62 348.05 309.4 347.62C309.18 347.18 309.13 346.27 309.07 345.42C309.02 344.57 309.07 343 309.07 342.52" fill="none" stroke="#fff" stroke-width="1.22"/>
<path d="M337.99 311.16A8.33 3.82 0 0 1 354.66 311.16Q357.38 319.79 359 328.87A12.68 7.27 0 0 1 333.65 328.87Q335.27 319.79 337.99 311.16Z" fill="#fff" stroke-width="0.9"/>
<path d="M338.65 309.97L334.44 326.69M354 309.97L358.21 326.69" fill="none" stroke-width="0.54"/>
<ellipse cx="346.33" cy="328.87" rx="12.68" ry="7.27" fill="#fff" stroke-width="0.9"/>
<ellipse cx="346.33" cy="328.99" rx="11.56" ry="6.63" fill="#fff" stroke-width="0.9"/>
<path d="M333.85 328.04A12.47 7.15 0 0 1 358.8 328.04" fill="none" stroke-width="0.63"/>
<path d="M343.7 327.2L343.75 326.92L343.9 326.64L344.47 326.15L345.32 325.82L346.33 325.71L347.33 325.82L348.18 326.15L348.75 326.64L348.9 326.92L348.95 327.2L348.95 329.3L348.9 329.58L348.75 329.86L348.18 330.35L347.33 330.67L346.33 330.79L345.32 330.67L344.47 330.35L343.9 329.86L343.75 329.58L343.7 329.3Z" fill="#fff" stroke-width="0.72"/>
<path d="M343.7 329.28A2.63 1.51 0 0 1 348.95 329.28" fill="none" stroke-width="0.72"/>
<path d="M338.2 332.11A10.15 5.82 0 0 0 354.45 332.11" fill="none" stroke-width="0.54"/>
<path d="M340.67 332.66L340.78 332.04L341.29 330.88L341.88 330.02L342.49 329.47L343.27 328.97L344.16 328.58L345.22 328.32L346.33 328.23L347.43 328.32L348.47 328.58L349.28 328.92L350.16 329.47L350.77 330.02L351.36 330.88L351.87 332.04L351.98 332.66L351.98 332.69L351.87 333.31L351.55 333.92L351.03 334.48L350.47 334.88L349.47 335.39L348.49 335.74L346.99 336.06L346.33 336.11L345.66 336.06L344.07 335.72L343.18 335.39L342.17 334.88L341.5 334.37L341.1 333.92L340.78 333.31L340.67 332.69Z" fill="#fff" stroke-width="1.12"/>
<path d="M345.12 329.41L341.52 330.97L343.78 333.16M345.62 329.07L343.5 329.87L344.83 332.51M346.08 328.95L345.36 329.48L345.82 332.28M346.57 328.95L347.29 329.48L346.84 332.28M347.03 329.07L349.15 329.87L347.83 332.51M347.53 329.41L351.13 330.97L348.88 333.16" fill="none" stroke-width="0.9"/>
<path d="M345.36 329.2L342.93 329.25L342.86 330.3M345.86 328.99L344.68 328.64L344.65 329.61M346.33 328.93L346.33 328.48L346.33 329.43M346.79 328.99L347.98 328.64L348.01 329.61M347.29 329.2L349.72 329.25L349.79 330.3" fill="none" stroke-width="0.9"/>
<path d="M340.67 332.68A5.66 3.24 0 0 1 351.98 332.68" fill="none" stroke-width="0.9"/>
<path d="M339.96 336.76L340.03 335.96L340.35 335.03L340.96 334.12L341.82 333.31L342.79 332.72L343.76 332.34L344.96 332.06L346.33 331.96L347.57 332.04L348.76 332.3L349.86 332.72L350.83 333.31L351.76 334.2L352.3 335.03L352.62 335.96L352.69 336.76L352.69 336.8L352.65 337.45L352.46 338.31L352.11 339.1L351.62 339.79L351.17 340.24L350.46 340.76L349.76 341.15L348.96 341.48L348.29 341.95L347.74 342.19L347.74 343.17L347.57 343.53L347.07 343.83L346.33 343.95L345.58 343.83L345.08 343.53L344.91 343.17L344.91 342.19L344.36 341.95L343.76 341.5L342.96 341.18L342.19 340.76L341.48 340.24L341.03 339.79L340.54 339.1L340.19 338.31L340 337.45L339.96 336.8Z" fill="#fff" stroke-width="0.9"/>
<path d="M340.98 338.8A5.34 3.06 0 0 1 351.67 338.8" fill="none" stroke-width="0.9"/>
<path d="M344.91 340.78A1.41 0.81 0 0 1 347.74 340.78" fill="none" stroke-width="0.9"/>
<path d="M342.29 339.46A4.04 2.32 0 0 1 350.37 339.46" fill="none" stroke-width="1.8"/>
<path d="M329.26 297.02C329.55 297.66 330.35 299.47 330.96 300.85C331.56 302.23 332.3 303.93 332.91 305.28C333.52 306.64 334.13 307.82 334.6 308.99C335.08 310.16 335.41 311.05 335.78 312.33C336.14 313.6 336.4 314.68 336.82 316.62C337.23 318.57 337.73 321.16 338.25 323.99C338.77 326.83 339.38 330.8 339.94 333.62C340.51 336.43 341.07 338.91 341.64 340.88C342.2 342.85 342.77 344.27 343.33 345.46C343.89 346.64 344.58 347.65 345.02 348.01C345.47 348.37 345.78 348.05 346 347.62C346.22 347.18 346.27 346.27 346.33 345.42C346.38 344.57 346.33 343 346.33 342.52" fill="none" stroke-width="3.02"/>
<path d="M329.26 297.02C329.55 297.66 330.35 299.47 330.96 300.85C331.56 302.23 332.3 303.93 332.91 305.28C333.52 306.64 334.13 307.82 334.6 308.99C335.08 310.16 335.41 311.05 335.78 312.33C336.14 313.6 336.4 314.68 336.82 316.62C337.23 318.57 337.73 321.16 338.25 323.99C338.77 326.83 339.38 330.8 339.94 333.62C340.51 336.43 341.07 338.91 341.64 340.88C342.2 342.85 342.77 344.27 343.33 345.46C343.89 346.64 344.58 347.65 345.02 348.01C345.47 348.37 345.78 348.05 346 347.62C346.22 347.18 346.27 346.27 346.33 345.42C346.38 344.57 346.33 343 346.33 342.52" fill="none" stroke="#fff" stroke-width="1.22"/>
<path d="M268.48 300.48A8.33 3.82 0 0 1 285.15 300.48Q287.87 309.11 289.49 318.19A12.68 7.27 0 0 1 264.14 318.19Q265.76 309.11 268.48 300.48Z" fill="#fff" stroke-width="0.9"/>
<path d="M269.14 299.29L264.93 316.01M284.49 299.29L288.7 316.01" fill="none" stroke-width="0.54"/>
<ellipse cx="276.81" cy="318.19" rx="12.68" ry="7.27" fill="#fff" stroke-width="0.9"/>
<ellipse cx="276.81" cy="318.31" rx="11.56" ry="6.63" fill="#fff" stroke-width="0.9"/>
<path d="M264.34 317.36A12.47 7.15 0 0 1 289.29 317.36" fill="none" stroke-width="0.63"/>
<path d="M274.19 316.52L274.24 316.24L274.39 315.96L274.96 315.47L275.81 315.14L276.81 315.03L277.82 315.14L278.67 315.47L279.24 315.96L279.39 316.24L279.44 316.52L279.44 318.61L279.39 318.89L279.24 319.18L278.67 319.67L277.82 319.99L276.81 320.11L275.81 319.99L274.96 319.67L274.39 319.18L274.24 318.89L274.19 318.61Z" fill="#fff" stroke-width="0.72"/>
<path d="M274.19 318.6A2.63 1.51 0 0 1 279.44 318.6" fill="none" stroke-width="0.72"/>
<path d="M268.69 321.43A10.15 5.82 0 0 0 284.94 321.43" fill="none" stroke-width="0.54"/>
<path d="M271.16 321.97L271.27 321.36L271.78 320.19L272.37 319.33L272.98 318.78L273.76 318.28L274.65 317.9L275.71 317.63L276.81 317.54L277.92 317.63L278.96 317.89L279.77 318.23L280.65 318.78L281.26 319.33L281.85 320.19L282.36 321.36L282.47 321.97L282.47 322.01L282.36 322.63L282.04 323.23L281.52 323.79L280.96 324.2L279.96 324.71L278.98 325.06L277.48 325.38L276.81 325.43L276.15 325.38L274.56 325.03L273.67 324.71L272.66 324.19L271.99 323.69L271.59 323.23L271.27 322.63L271.16 322.01Z" fill="#fff" stroke-width="1.12"/>
<path d="M275.61 318.73L272.01 320.28L274.27 322.47M276.11 318.38L273.99 319.18L275.31 321.83M276.57 318.26L275.85 318.8L276.3 321.6M277.06 318.26L277.78 318.8L277.32 321.6M277.52 318.38L279.64 319.18L278.31 321.83M278.02 318.73L281.62 320.28L279.36 322.47" fill="none" stroke-width="0.9"/>
<path d="M275.85 318.52L273.42 318.57L273.35 319.61M276.35 318.31L275.16 317.96L275.13 318.93M276.81 318.25L276.81 317.8L276.81 318.75M277.28 318.31L278.46 317.96L278.49 318.93M277.78 318.52L280.21 318.57L280.28 319.61" fill="none" stroke-width="0.9"/>
<path d="M271.16 321.99A5.66 3.24 0 0 1 282.47 321.99" fill="none" stroke-width="0.9"/>
<path d="M270.45 326.07L270.52 325.27L270.84 324.34L271.45 323.44L272.31 322.63L273.28 322.04L274.25 321.66L275.45 321.38L276.81 321.27L278.06 321.36L279.25 321.62L280.35 322.04L281.32 322.63L282.25 323.51L282.79 324.34L283.11 325.27L283.18 326.07L283.18 326.12L283.14 326.77L282.95 327.63L282.6 328.42L282.11 329.1L281.66 329.55L280.95 330.07L280.25 330.46L279.45 330.8L278.78 331.27L278.23 331.5L278.23 332.49L278.06 332.85L277.56 333.15L276.81 333.27L276.07 333.15L275.57 332.85L275.4 332.49L275.4 331.5L274.85 331.27L274.25 330.82L273.45 330.49L272.68 330.07L271.97 329.55L271.52 329.1L271.03 328.42L270.68 327.63L270.49 326.77L270.45 326.12Z" fill="#fff" stroke-width="0.9"/>
<path d="M271.47 328.11A5.34 3.06 0 0 1 282.16 328.11" fill="none" stroke-width="0.9"/>
<path d="M275.4 330.1A1.41 0.81 0 0 1 278.23 330.1" fill="none" stroke-width="0.9"/>
<path d="M272.77 328.78A4.04 2.32 0 0 1 280.85 328.78" fill="none" stroke-width="1.8"/>
<path d="M323.43 296.12C322.66 296.6 320.46 297.96 318.8 298.98C317.14 300.01 315.13 301.29 313.47 302.29C311.81 303.3 310.15 304.13 308.84 305.03C307.54 305.93 306.65 306.63 305.64 307.69C304.63 308.75 303.92 309.69 302.79 311.4C301.66 313.1 300.3 315.41 298.88 317.94C297.45 320.48 295.79 324.1 294.25 326.59C292.71 329.08 291.17 331.24 289.63 332.89C288.08 334.54 286.54 335.63 285 336.49C283.46 337.36 281.59 337.97 280.37 338.07C279.16 338.17 278.3 337.67 277.7 337.12C277.11 336.56 276.96 335.61 276.81 334.73C276.67 333.85 276.81 332.32 276.81 331.84" fill="none" stroke-width="3.02"/>
<path d="M323.43 296.12C322.66 296.6 320.46 297.96 318.8 298.98C317.14 300.01 315.13 301.29 313.47 302.29C311.81 303.3 310.15 304.13 308.84 305.03C307.54 305.93 306.65 306.63 305.64 307.69C304.63 308.75 303.92 309.69 302.79 311.4C301.66 313.1 300.3 315.41 298.88 317.94C297.45 320.48 295.79 324.1 294.25 326.59C292.71 329.08 291.17 331.24 289.63 332.89C288.08 334.54 286.54 335.63 285 336.49C283.46 337.36 281.59 337.97 280.37 338.07C279.16 338.17 278.3 337.67 277.7 337.12C277.11 336.56 276.96 335.61 276.81 334.73C276.67 333.85 276.81 332.32 276.81 331.84" fill="none" stroke="#fff" stroke-width="1.22"/>
<path d="M370.25 300.48A8.33 3.82 0 0 1 386.92 300.48Q389.64 309.11 391.26 318.19A12.68 7.27 0 0 1 365.91 318.19Q367.53 309.11 370.25 300.48Z" fill="#fff" stroke-width="0.9"/>
<path d="M370.91 299.29L366.7 316.01M386.26 299.29L390.47 316.01" fill="none" stroke-width="0.54"/>
<ellipse cx="378.59" cy="318.19" rx="12.68" ry="7.27" fill="#fff" stroke-width="0.9"/>
<ellipse cx="378.59" cy="318.31" rx="11.56" ry="6.63" fill="#fff" stroke-width="0.9"/>
<path d="M366.11 317.36A12.47 7.15 0 0 1 391.06 317.36" fill="none" stroke-width="0.63"/>
<path d="M375.96 316.52L376.01 316.24L376.16 315.96L376.73 315.47L377.58 315.14L378.59 315.03L379.59 315.14L380.44 315.47L381.01 315.96L381.16 316.24L381.21 316.52L381.21 318.61L381.16 318.89L381.01 319.18L380.44 319.67L379.59 319.99L378.59 320.11L377.58 319.99L376.73 319.67L376.16 319.18L376.01 318.89L375.96 318.61Z" fill="#fff" stroke-width="0.72"/>
<path d="M375.96 318.6A2.63 1.51 0 0 1 381.21 318.6" fill="none" stroke-width="0.72"/>
<path d="M370.46 321.43A10.15 5.82 0 0 0 386.71 321.43" fill="none" stroke-width="0.54"/>
<path d="M372.93 321.97L373.04 321.36L373.55 320.19L374.14 319.33L374.75 318.78L375.53 318.28L376.42 317.9L377.48 317.63L378.59 317.54L379.69 317.63L380.73 317.89L381.54 318.23L382.42 318.78L383.03 319.33L383.62 320.19L384.13 321.36L384.24 321.97L384.24 322.01L384.13 322.63L383.81 323.23L383.29 323.79L382.73 324.2L381.73 324.71L380.75 325.06L379.25 325.38L378.59 325.43L377.92 325.38L376.33 325.03L375.44 324.71L374.43 324.19L373.76 323.69L373.36 323.23L373.04 322.63L372.93 322.01Z" fill="#fff" stroke-width="1.12"/>
<path d="M377.38 318.73L373.78 320.28L376.04 322.47M377.88 318.38L375.76 319.18L377.09 321.83M378.34 318.26L377.62 318.8L378.08 321.6M378.83 318.26L379.55 318.8L379.1 321.6M379.29 318.38L381.41 319.18L380.09 321.83M379.79 318.73L383.39 320.28L381.13 322.47" fill="none" stroke-width="0.9"/>
<path d="M377.62 318.52L375.19 318.57L375.12 319.61M378.12 318.31L376.94 317.96L376.91 318.93M378.59 318.25L378.59 317.8L378.59 318.75M379.05 318.31L380.24 317.96L380.27 318.93M379.55 318.52L381.98 318.57L382.05 319.61" fill="none" stroke-width="0.9"/>
<path d="M372.93 321.99A5.66 3.24 0 0 1 384.24 321.99" fill="none" stroke-width="0.9"/>
<path d="M372.22 326.07L372.29 325.27L372.61 324.34L373.22 323.44L374.08 322.63L375.05 322.04L376.02 321.66L377.22 321.38L378.59 321.27L379.83 321.36L381.02 321.62L382.12 322.04L383.09 322.63L384.02 323.51L384.56 324.34L384.88 325.27L384.95 326.07L384.95 326.12L384.91 326.77L384.72 327.63L384.37 328.42L383.88 329.1L383.43 329.55L382.72 330.07L382.02 330.46L381.22 330.8L380.55 331.27L380 331.5L380 332.49L379.83 332.85L379.33 333.15L378.59 333.27L377.84 333.15L377.34 332.85L377.17 332.49L377.17 331.5L376.62 331.27L376.02 330.82L375.22 330.49L374.45 330.07L373.74 329.55L373.29 329.1L372.8 328.42L372.45 327.63L372.26 326.77L372.22 326.12Z" fill="#fff" stroke-width="0.9"/>
<path d="M373.24 328.11A5.34 3.06 0 0 1 383.93 328.11" fill="none" stroke-width="0.9"/>
<path d="M377.17 330.1A1.41 0.81 0 0 1 380 330.1" fill="none" stroke-width="0.9"/>
<path d="M374.55 328.78A4.04 2.32 0 0 1 382.63 328.78" fill="none" stroke-width="1.8"/>
<path d="M331.97 296.12C332.74 296.6 334.94 297.96 336.6 298.98C338.26 300.01 340.27 301.29 341.93 302.29C343.59 303.3 345.25 304.13 346.56 305.03C347.86 305.93 348.75 306.63 349.76 307.69C350.77 308.75 351.48 309.69 352.61 311.4C353.74 313.1 355.1 315.41 356.52 317.94C357.95 320.48 359.61 324.1 361.15 326.59C362.69 329.08 364.23 331.24 365.77 332.89C367.32 334.54 368.86 335.63 370.4 336.49C371.94 337.36 373.81 337.97 375.03 338.07C376.24 338.17 377.1 337.67 377.7 337.12C378.29 336.56 378.44 335.61 378.59 334.73C378.73 333.85 378.59 332.32 378.59 331.84" fill="none" stroke-width="3.02"/>
<path d="M331.97 296.12C332.74 296.6 334.94 297.96 336.6 298.98C338.26 300.01 340.27 301.29 341.93 302.29C343.59 303.3 345.25 304.13 346.56 305.03C347.86 305.93 348.75 306.63 349.76 307.69C350.77 308.75 351.48 309.69 352.61 311.4C353.74 313.1 355.1 315.41 356.52 317.94C357.95 320.48 359.61 324.1 361.15 326.59C362.69 329.08 364.23 331.24 365.77 332.89C367.32 334.54 368.86 335.63 370.4 336.49C371.94 337.36 373.81 337.97 375.03 338.07C376.24 338.17 377.1 337.67 377.7 337.12C378.29 336.56 378.44 335.61 378.59 334.73C378.73 333.85 378.59 332.32 378.59 331.84" fill="none" stroke="#fff" stroke-width="1.22"/>
<path d="M249.86 281.98A8.33 3.82 0 0 1 266.52 281.98Q269.25 290.61 270.87 299.68A12.68 7.27 0 0 1 245.51 299.68Q247.13 290.61 249.86 281.98Z" fill="#fff" stroke-width="0.9"/>
<path d="M250.51 280.78L246.3 297.5M265.87 280.78L270.08 297.5" fill="none" stroke-width="0.54"/>
<ellipse cx="258.19" cy="299.68" rx="12.68" ry="7.27" fill="#fff" stroke-width="0.9"/>
<ellipse cx="258.19" cy="299.81" rx="11.56" ry="6.63" fill="#fff" stroke-width="0.9"/>
<path d="M245.72 298.86A12.47 7.15 0 0 1 270.66 298.86" fill="none" stroke-width="0.63"/>
<path d="M255.56 298.02L255.61 297.73L255.76 297.45L256.33 296.96L257.18 296.64L258.19 296.52L259.19 296.64L260.05 296.96L260.62 297.45L260.77 297.73L260.82 298.02L260.82 300.11L260.77 300.39L260.62 300.67L260.05 301.16L259.19 301.49L258.19 301.6L257.18 301.49L256.33 301.16L255.76 300.67L255.61 300.39L255.56 300.11Z" fill="#fff" stroke-width="0.72"/>
<path d="M255.56 300.1A2.63 1.51 0 0 1 260.82 300.1" fill="none" stroke-width="0.72"/>
<path d="M250.07 302.93A10.15 5.82 0 0 0 266.31 302.93" fill="none" stroke-width="0.54"/>
<path d="M252.53 303.47L252.64 302.86L253.15 301.69L253.75 300.83L254.35 300.28L255.13 299.78L256.03 299.4L257.09 299.13L258.19 299.04L259.29 299.13L260.33 299.39L261.14 299.73L262.03 300.28L262.63 300.83L263.23 301.69L263.74 302.86L263.85 303.47L263.85 303.51L263.74 304.12L263.42 304.73L262.89 305.29L262.33 305.7L261.33 306.21L260.35 306.56L258.85 306.87L258.19 306.92L257.52 306.87L255.93 306.53L255.05 306.21L254.04 305.69L253.37 305.18L252.96 304.73L252.64 304.12L252.53 303.51Z" fill="#fff" stroke-width="1.12"/>
<path d="M256.99 300.22L253.38 301.78L255.64 303.97M257.48 299.88L255.36 300.68L256.69 303.32M257.95 299.76L257.23 300.29L257.68 303.09M258.43 299.76L259.15 300.29L258.7 303.09M258.9 299.88L261.02 300.68L259.69 303.32M259.39 300.22L263 301.78L260.74 303.97" fill="none" stroke-width="0.9"/>
<path d="M257.23 300.02L254.79 300.06L254.73 301.11M257.72 299.8L256.54 299.46L256.51 300.43M258.19 299.74L258.19 299.3L258.19 300.24M258.66 299.8L259.84 299.46L259.87 300.43M259.15 300.02L261.59 300.06L261.65 301.11" fill="none" stroke-width="0.9"/>
<path d="M252.53 303.49A5.66 3.24 0 0 1 263.85 303.49" fill="none" stroke-width="0.9"/>
<path d="M251.82 307.57L251.9 306.77L252.21 305.84L252.82 304.94L253.69 304.12L254.65 303.54L255.62 303.16L256.82 302.88L258.19 302.77L259.43 302.86L260.63 303.12L261.73 303.54L262.69 304.12L263.62 305.01L264.17 305.84L264.48 306.77L264.56 307.57L264.56 307.61L264.51 308.27L264.32 309.13L263.97 309.91L263.49 310.6L263.03 311.05L262.33 311.57L261.62 311.96L260.82 312.3L260.16 312.76L259.6 313L259.6 313.99L259.43 314.34L258.94 314.64L258.19 314.77L257.44 314.64L256.95 314.34L256.78 313.99L256.77 313L256.22 312.76L255.62 312.32L254.82 311.99L254.05 311.57L253.35 311.05L252.89 310.6L252.41 309.91L252.06 309.13L251.86 308.27L251.82 307.61Z" fill="#fff" stroke-width="0.9"/>
<path d="M252.85 309.61A5.34 3.06 0 0 1 263.53 309.61" fill="none" stroke-width="0.9"/>
<path d="M256.78 311.6A1.41 0.81 0 0 1 259.6 311.6" fill="none" stroke-width="0.9"/>
<path d="M254.15 310.27A4.04 2.32 0 0 1 262.23 310.27" fill="none" stroke-width="1.8"/>
<path d="M321.87 294.57C320.81 294.77 317.82 295.32 315.55 295.75C313.28 296.17 310.52 296.71 308.26 297.12C305.99 297.52 303.72 297.75 301.94 298.17C300.16 298.6 298.94 298.98 297.56 299.67C296.19 300.37 295.21 301.04 293.67 302.34C292.13 303.64 290.27 305.45 288.33 307.46C286.38 309.48 284.11 312.5 282.01 314.43C279.9 316.36 277.8 317.95 275.69 319.04C273.58 320.13 271.48 320.66 269.37 320.96C267.26 321.27 264.71 321.2 263.05 320.86C261.39 320.52 260.21 319.71 259.4 318.94C258.59 318.17 258.39 317.16 258.19 316.23C257.99 315.3 258.19 313.82 258.19 313.33" fill="none" stroke-width="3.02"/>
<path d="M321.87 294.57C320.81 294.77 317.82 295.32 315.55 295.75C313.28 296.17 310.52 296.71 308.26 297.12C305.99 297.52 303.72 297.75 301.94 298.17C300.16 298.6 298.94 298.98 297.56 299.67C296.19 300.37 295.21 301.04 293.67 302.34C292.13 303.64 290.27 305.45 288.33 307.46C286.38 309.48 284.11 312.5 282.01 314.43C279.9 316.36 277.8 317.95 275.69 319.04C273.58 320.13 271.48 320.66 269.37 320.96C267.26 321.27 264.71 321.2 263.05 320.86C261.39 320.52 260.21 319.71 259.4 318.94C258.59 318.17 258.39 317.16 258.19 316.23C257.99 315.3 258.19 313.82 258.19 313.33" fill="none" stroke="#fff" stroke-width="1.22"/>
<path d="M388.88 281.98A8.33 3.82 0 0 1 405.54 281.98Q408.27 290.61 409.89 299.68A12.68 7.27 0 0 1 384.53 299.68Q386.15 290.61 388.88 281.98Z" fill="#fff" stroke-width="0.9"/>
<path d="M389.53 280.78L385.32 297.5M404.89 280.78L409.1 297.5" fill="none" stroke-width="0.54"/>
<ellipse cx="397.21" cy="299.68" rx="12.68" ry="7.27" fill="#fff" stroke-width="0.9"/>
<ellipse cx="397.21" cy="299.81" rx="11.56" ry="6.63" fill="#fff" stroke-width="0.9"/>
<path d="M384.74 298.86A12.47 7.15 0 0 1 409.68 298.86" fill="none" stroke-width="0.63"/>
<path d="M394.58 298.02L394.63 297.73L394.78 297.45L395.35 296.96L396.21 296.64L397.21 296.52L398.22 296.64L399.07 296.96L399.64 297.45L399.79 297.73L399.84 298.02L399.84 300.11L399.79 300.39L399.64 300.67L399.07 301.16L398.22 301.49L397.21 301.6L396.21 301.49L395.35 301.16L394.78 300.67L394.63 300.39L394.58 300.11Z" fill="#fff" stroke-width="0.72"/>
<path d="M394.58 300.1A2.63 1.51 0 0 1 399.84 300.1" fill="none" stroke-width="0.72"/>
<path d="M389.09 302.93A10.15 5.82 0 0 0 405.33 302.93" fill="none" stroke-width="0.54"/>
<path d="M391.55 303.47L391.66 302.86L392.17 301.69L392.77 300.83L393.37 300.28L394.15 299.78L395.05 299.4L396.11 299.13L397.21 299.04L398.31 299.13L399.35 299.39L400.17 299.73L401.05 300.28L401.65 300.83L402.25 301.69L402.76 302.86L402.87 303.47L402.87 303.51L402.76 304.12L402.44 304.73L401.91 305.29L401.35 305.7L400.35 306.21L399.37 306.56L397.88 306.87L397.21 306.92L396.55 306.87L394.95 306.53L394.07 306.21L393.06 305.69L392.39 305.18L391.98 304.73L391.66 304.12L391.55 303.51Z" fill="#fff" stroke-width="1.12"/>
<path d="M396.01 300.22L392.4 301.78L394.66 303.97M396.5 299.88L394.38 300.68L395.71 303.32M396.97 299.76L396.25 300.29L396.7 303.09M397.45 299.76L398.17 300.29L397.72 303.09M397.92 299.88L400.04 300.68L398.71 303.32M398.41 300.22L402.02 301.78L399.76 303.97" fill="none" stroke-width="0.9"/>
<path d="M396.25 300.02L393.81 300.06L393.75 301.11M396.74 299.8L395.56 299.46L395.53 300.43M397.21 299.74L397.21 299.3L397.21 300.24M397.68 299.8L398.86 299.46L398.89 300.43M398.17 300.02L400.61 300.06L400.67 301.11" fill="none" stroke-width="0.9"/>
<path d="M391.55 303.49A5.66 3.24 0 0 1 402.87 303.49" fill="none" stroke-width="0.9"/>
<path d="M390.84 307.57L390.92 306.77L391.23 305.84L391.84 304.94L392.71 304.12L393.67 303.54L394.64 303.16L395.84 302.88L397.21 302.77L398.45 302.86L399.65 303.12L400.75 303.54L401.71 304.12L402.64 305.01L403.19 305.84L403.5 306.77L403.58 307.57L403.58 307.61L403.54 308.27L403.34 309.13L402.99 309.91L402.51 310.6L402.05 311.05L401.35 311.57L400.64 311.96L399.84 312.3L399.18 312.76L398.63 313L398.62 313.99L398.45 314.34L397.96 314.64L397.21 314.77L396.46 314.64L395.97 314.34L395.8 313.99L395.8 313L395.24 312.76L394.64 312.32L393.84 311.99L393.07 311.57L392.37 311.05L391.91 310.6L391.43 309.91L391.08 309.13L390.89 308.27L390.84 307.61Z" fill="#fff" stroke-width="0.9"/>
<path d="M391.87 309.61A5.34 3.06 0 0 1 402.55 309.61" fill="none" stroke-width="0.9"/>
<path d="M395.8 311.6A1.41 0.81 0 0 1 398.62 311.6" fill="none" stroke-width="0.9"/>
<path d="M393.17 310.27A4.04 2.32 0 0 1 401.25 310.27" fill="none" stroke-width="1.8"/>
<path d="M333.53 294.57C334.59 294.77 337.58 295.32 339.85 295.75C342.12 296.17 344.88 296.71 347.14 297.12C349.41 297.52 351.68 297.75 353.46 298.17C355.24 298.6 356.46 298.98 357.84 299.67C359.21 300.37 360.19 301.04 361.73 302.34C363.27 303.64 365.13 305.45 367.07 307.46C369.02 309.48 371.29 312.5 373.39 314.43C375.5 316.36 377.6 317.95 379.71 319.04C381.82 320.13 383.92 320.66 386.03 320.96C388.14 321.27 390.69 321.2 392.35 320.86C394.01 320.52 395.19 319.71 396 318.94C396.81 318.17 397.01 317.16 397.21 316.23C397.41 315.3 397.21 313.82 397.21 313.33" fill="none" stroke-width="3.02"/>
<path d="M333.53 294.57C334.59 294.77 337.58 295.32 339.85 295.75C342.12 296.17 344.88 296.71 347.14 297.12C349.41 297.52 351.68 297.75 353.46 298.17C355.24 298.6 356.46 298.98 357.84 299.67C359.21 300.37 360.19 301.04 361.73 302.34C363.27 303.64 365.13 305.45 367.07 307.46C369.02 309.48 371.29 312.5 373.39 314.43C375.5 316.36 377.6 317.95 379.71 319.04C381.82 320.13 383.92 320.66 386.03 320.96C388.14 321.27 390.69 321.2 392.35 320.86C394.01 320.52 395.19 319.71 396 318.94C396.81 318.17 397.01 317.16 397.21 316.23C397.41 315.3 397.21 313.82 397.21 313.33" fill="none" stroke="#fff" stroke-width="1.22"/>
<path d="M318 248.68L318.07 248.01L318.27 247.28L318.89 246.01L319.64 245.12L320.6 244.35L322 243.6L323.8 242.98L325.8 242.6L327.7 242.49L329.59 242.6L331.41 242.93L333.09 243.47L334.6 244.23L335.76 245.12L336.51 246.01L337.13 247.28L337.33 248.01L337.4 248.68L337.4 248.73L337.33 249.41L337.13 250.14L336.66 251.16L336.34 251.65L335.76 252.3L334.82 253.05L333.7 253.68L332.44 254.19L332.2 255.4L331.76 256.04L331 256.62L329.96 257.08L328.84 257.33L327.7 257.41L326.56 257.33L325.44 257.08L324.6 256.73L323.8 256.2L323.3 255.6L323.06 254.8L322.96 254.19L321.7 253.68L320.6 253.07L319.8 252.45L319.06 251.65L318.74 251.16L318.27 250.14L318.07 249.41L318 248.73Z" fill="#fff" stroke-width="0.9"/>
<path d="M318.31 247.88A9.39 5.39 0 0 1 337.09 247.88" fill="none" stroke-width="0.9"/>
<path d="M318.31 249.54A9.39 5.39 0 0 1 337.09 249.54" fill="none" stroke-width="0.9"/>
<path d="M322.85 252.85A4.85 2.78 0 0 1 332.55 252.85" fill="none" stroke-width="0.9"/>
<path d="M323.46 257.3L323.51 256.58L323.72 255.7L324.08 254.96L324.59 254.39L325.26 253.93L325.92 253.62L326.71 253.4L327.7 253.3L328.69 253.4L329.48 253.62L330.27 254L330.81 254.39L331.32 254.96L331.68 255.7L331.89 256.58L331.94 257.3L331.94 257.33L331.89 258.01L331.66 258.88L331.26 259.63L330.81 260.12L330.06 260.65L329.17 261.06L328.46 261.26L327.7 261.33L326.87 261.25L326.23 261.06L325.26 260.6L324.59 260.12L324.08 259.54L323.72 258.83L323.51 258.01L323.46 257.33Z" fill="#fff" stroke-width="0.9"/>
<path d="M323.46 257.31A4.24 2.43 0 0 1 331.94 257.31" fill="none" stroke-width="0.9"/>
<path d="M326.49 253.59L325.15 255.37L326.34 258.72M327.3 253.33L326.85 254.93L327.25 258.46M328.1 253.33L328.55 254.93L328.15 258.46M328.91 253.59L330.25 255.37L329.06 258.72" fill="none" stroke-width="0.68"/>
<path d="M322.55 261.02L322.65 259.76L322.75 259.22L323.02 258.7L323.55 258.15L324.35 257.62L325.36 257.23L326.5 256.98L327.7 256.9L328.9 256.98L329.95 257.2L330.89 257.55L331.75 258.06L332.29 258.59L332.66 259.24L332.85 261.02L332.85 261.05L332.75 261.62L332.46 262.17L331.98 262.68L331.34 263.12L330.56 263.49L329.67 263.77L328.7 263.93L327.7 263.99L326.7 263.93L325.73 263.77L324.84 263.49L324.06 263.12L323.42 262.68L322.94 262.17L322.65 261.62L322.55 261.05Z" fill="#fff" stroke-width="0.9"/>
<path d="M322.65 259.79A5.05 2.9 0 0 1 332.75 259.79" fill="none" stroke-width="0.9"/>
<path d="M322.2 261.1L322.3 260.5L322.61 259.91L323.12 259.36L323.81 258.89L324.64 258.49L325.59 258.2L326.63 258.02L327.7 257.96L328.77 258.02L329.81 258.2L330.76 258.49L331.59 258.89L332.28 259.36L332.79 259.91L333.1 260.5L333.2 261.1L333.2 261.14L333.05 262.14L332.8 262.84L331.74 264.48L331.44 265.19L331.08 266.28L330.93 267.2L330.76 267.76L330.39 268.19L329.6 268.66L328.77 268.91L327.7 269.01L326.63 268.91L325.79 268.66L325.01 268.19L324.64 267.76L324.47 267.2L324.32 266.28L323.96 265.19L323.66 264.48L322.61 262.86L322.35 262.14L322.2 261.14Z" fill="#fff" stroke="none"/>
<path d="M324.47 267.13L324.32 266.28L323.81 264.8L323.51 264.25L322.7 263.04L322.46 262.51L322.3 261.93L322.2 261.24L322.3 260.5L322.61 259.91L323.01 259.47L323.6 259.01L324.29 258.64L325.2 258.31L326 258.12L327.7 257.96L328.56 258L329.6 258.15L330.4 258.37L331.2 258.68L331.89 259.07L332.4 259.47L332.8 259.92L333.1 260.5L333.2 261.24L333.1 261.93L332.94 262.51L332.7 263.04L331.89 264.25L331.59 264.8L331.2 265.87L330.93 267.13" fill="none" stroke-width="0.9"/>
<path d="M320.02 278.72L320.05 277.97L320.17 277.05L320.4 276.15L320.73 275.2L321.82 272.95L323.95 269.5L324.32 268.51L324.47 267.65L324.49 266.96L324.62 266.59L325.04 266.1L325.82 265.65L326.8 265.38L327.7 265.3L328.6 265.38L329.42 265.59L330.07 265.9L330.64 266.38L330.91 266.96L331.02 268.29L331.45 269.5L331.84 270.21L333.42 272.68L334.24 274.23L334.67 275.2L335.02 276.22L335.23 277.05L335.35 277.97L335.38 278.72L335.38 278.76L335.23 280.32L335.09 280.99L334.79 281.92L334.4 282.78L334.08 283.3L333.13 284.52L332.62 285.03L331.99 285.55L330.36 286.52L329.2 286.91L327.7 287.07L326.22 286.92L325.04 286.52L323.41 285.55L322.71 284.97L322.27 284.52L321.32 283.3L320.62 281.97L320.31 280.99L320.17 280.32L320.02 278.76Z" fill="#fff" stroke="none"/>
<path d="M330.93 267.65L331.08 268.51L331.45 269.5L333.73 273.23L334.4 274.56L334.9 275.83L335.16 276.74L335.35 277.97L335.35 279.29L335.23 280.32L334.9 281.63L334.4 282.78L333.73 283.8L332.62 285.03L331.71 285.74L330.07 286.64L328.9 286.97L327.7 287.07L326.5 286.97L325.33 286.64L323.82 285.83L322.71 284.97L321.67 283.8L321 282.78L320.5 281.63L320.17 280.32L320.05 279.29L320.05 277.97L320.22 276.79L320.5 275.83L321.02 274.52L321.67 273.23L323.95 269.5L324.32 268.51L324.47 267.65" fill="none" stroke-width="0.9"/>
<path d="M323.86 269.97A3.84 2.2 0 0 1 331.54 269.97" fill="none" stroke-width="0.9"/>
<path d="M321.64 273.82A6.06 3.48 0 0 1 333.76 273.82" fill="none" stroke-width="0.9"/>
<path d="M320.02 278.74A7.68 4.4 0 0 0 335.38 278.74" fill="none" stroke-width="0.9"/>
<path d="M323.76 284.68L323.84 284.26L324.06 283.83L324.42 283.44L324.91 283.1L325.51 282.82L326.19 282.61L326.93 282.48L327.7 282.44L328.47 282.48L329.21 282.61L329.89 282.82L330.49 283.1L330.98 283.44L331.34 283.83L331.56 284.25L331.64 284.68L331.64 287.15L331.56 287.59L331.34 288L330.98 288.39L330.49 288.74L329.89 289.02L329.21 289.23L328.47 289.35L327.7 289.4L326.93 289.35L326.19 289.23L325.51 289.02L324.91 288.74L324.42 288.39L324.06 288L323.84 287.58L323.76 287.15Z" fill="#fff" stroke="none"/>
<path d="M323.76 284.68L323.91 284.08L324.34 283.52L325.03 283.04L325.91 282.68L326.93 282.48L327.96 282.44L328.92 282.55L329.89 282.82L330.49 283.1L330.98 283.44L331.34 283.83L331.56 284.25L331.64 284.68L331.64 287.19L331.56 287.59L331.28 288.08L330.73 288.58L330.02 288.97L329.21 289.23L328.32 289.37L327.39 289.39L326.48 289.29L325.56 289.04L325.03 288.8L324.51 288.47L324.12 288.08L323.87 287.67L323.76 287.19L323.76 284.68" fill="none" stroke-width="0.9"/>
<path d="M322.15 290.22L322.25 289.62L322.66 288.8L323.14 288.06L323.77 287.42L324.67 286.8L325.94 286.14L326.75 285.9L327.7 285.81L328.57 285.89L329.42 286.12L330.73 286.8L331.63 287.42L332.19 287.99L332.74 288.8L333.14 289.61L333.25 290.22L333.25 290.26L333.1 290.98L332.74 291.57L332.06 292.21L331.24 292.7L331.23 294.84L331.14 295.26L330.88 295.68L330.34 296.14L329.55 296.52L328.75 296.73L327.7 296.82L326.75 296.74L325.78 296.49L324.99 296.09L324.52 295.68L324.26 295.26L324.17 294.84L324.16 292.7L323.34 292.21L322.66 291.57L322.3 290.98L322.15 290.26Z" fill="#fff" stroke="none"/>
<path d="M329.94 286.38L331.31 287.17L331.78 287.55L332.32 288.15L332.74 288.8L333.14 289.61L333.25 290.12L333.22 290.62L332.98 291.23L332.55 291.8L331.94 292.3L331.24 292.7L331.23 294.84L331.14 295.26L330.88 295.68L330.34 296.14L329.55 296.52L328.75 296.73L327.7 296.82L326.75 296.74L325.78 296.49L324.99 296.09L324.52 295.68L324.26 295.26L324.17 294.84L324.16 292.7L323.48 292.31L322.85 291.8L322.42 291.23L322.18 290.62L322.15 290.12L322.25 289.62L322.66 288.8L323.14 288.06L323.62 287.55L324.16 287.12L325.55 286.33" fill="none" stroke-width="0.9"/>
<path d="M323.76 287.14A3.94 2.26 0 0 1 331.64 287.14" fill="none" stroke-width="0.9"/>
<path d="M322.14 290.24A5.55 3.19 0 0 1 333.25 290.24" fill="none" stroke-width="0.9"/>
<path d="M319.67 294.26L319.72 293.74L319.87 293.22L320.41 292.17L321.07 291.44L322.02 290.75L323.24 290.16L324.63 289.72L326.13 289.45L327.7 289.36L329.27 289.45L330.77 289.72L332.27 290.2L333.47 290.8L334.38 291.48L335.07 292.28L335.58 293.35L335.73 294.26L335.73 294.31L335.63 295.11L335.24 296.01L334.55 296.95L333.81 297.62L333.07 298.1L332.27 298.5L331.35 298.83L330.38 299.09L329.57 299.69L329.27 299.85L328.64 300.04L327.7 300.14L326.76 300.04L326.13 299.85L325.83 299.69L325.02 299.09L324.05 298.83L323.07 298.47L322.27 298.07L321.59 297.62L320.85 296.95L320.16 296.01L319.77 295.11L319.67 294.31Z" fill="#fff" stroke-width="0.9"/>
<path d="M319.82 293.88A7.88 4.52 0 0 1 335.58 293.88" fill="none" stroke-width="0.9"/>
<path d="M320.02 294.96A7.68 4.4 0 0 1 335.38 294.96" fill="none" stroke-width="0.9"/>
<path d="M316.72 303.6L316.85 302.26L317.13 301.44L317.39 300.94L317.72 300.44L318.33 299.74L318.92 299.22L319.72 298.65L321.24 297.83L322.33 297.37L323.5 296.98L325.56 296.55L327.7 296.39L329.84 296.55L331.9 296.98L333.07 297.37L334.16 297.83L335.72 298.67L336.52 299.25L337.07 299.74L337.68 300.44L338.01 300.94L338.27 301.44L338.55 302.26L338.68 303.6L338.68 303.65L338.61 305.24L338.38 306.22L338.01 307.32L337.49 308.27L337.07 308.84L336.33 309.64L335.77 310.13L334.92 310.76L334.12 311.24L333.07 311.75L332.12 312.11L331.09 312.41L329.84 312.66L327.7 312.82L326.52 312.77L325.56 312.66L324.31 312.41L323.32 312.12L322.33 311.75L321.32 311.26L320.52 310.78L319.63 310.13L318.92 309.48L318.33 308.84L317.91 308.27L317.39 307.32L317.02 306.22L316.79 305.24L316.72 303.65Z" fill="#fff" stroke-width="0.9"/>
<path d="M317.09 302.65A10.61 6.08 0 0 1 338.31 302.65" fill="none" stroke-width="0.9"/>
<path d="M316.74 304.64A10.96 6.29 0 0 1 338.66 304.64" fill="none" stroke-width="0.9"/>
<path d="M318.71 307.62A8.99 5.16 0 0 1 336.69 307.62" fill="none" stroke-width="0.9"/>
<path d="M323.46 311.16L323.66 310.18L323.85 309.62L324.17 309.06L324.59 308.65L325.21 308.23L325.92 307.94L326.86 307.73L327.7 307.67L328.53 307.72L329.48 307.94L330.19 308.23L330.86 308.68L331.23 309.06L331.55 309.62L331.73 310.16L331.94 311.16L331.94 311.19L331.86 311.65L331.62 312.1L330.46 313.22L328.69 314.73L328.2 314.93L327.7 314.99L327.2 314.93L326.71 314.73L324.95 313.22L323.78 312.1L323.54 311.65L323.46 311.19Z" fill="#fff" stroke-width="0.9"/>
<path d="M323.46 311.17A4.24 2.43 0 0 1 331.94 311.17" fill="none" stroke-width="0.9"/>
<path d="M325.78 308.54L324.09 309.89L326.7 313.84M326.57 307.99L325.58 309.07L327.11 313.58M327.32 307.8L326.98 308.78L327.5 313.49M328.08 307.8L328.42 308.78L327.9 313.49M328.83 307.99L329.82 309.07L328.29 313.58M329.62 308.54L331.31 309.89L328.7 313.84" fill="none" stroke-width="0.68"/>
<path d="M326.13 315.38L326.28 314.62L326.55 314.2L327.05 313.9L327.7 313.79L328.33 313.89L328.85 314.2L329.12 314.62L329.27 315.38L329.27 315.4L329.12 316.16L328.85 316.58L328.35 316.89L327.7 317.01L327.05 316.89L326.55 316.58L326.28 316.16L326.13 315.4Z" fill="#fff" stroke-width="0.9"/>
<path d="M321.87 292.78C320.81 292.65 317.82 292.29 315.55 292.01C313.28 291.74 310.52 291.43 308.26 291.14C305.99 290.85 303.72 290.38 301.94 290.25C300.16 290.13 298.94 290.14 297.56 290.41C296.19 290.68 295.21 291.05 293.67 291.88C292.13 292.7 290.27 293.94 288.33 295.36C286.38 296.78 284.11 299.1 282.01 300.39C279.9 301.67 277.8 302.61 275.69 303.06C273.58 303.5 271.48 303.38 269.37 303.04C267.26 302.69 264.71 301.84 263.05 300.99C261.39 300.14 260.21 298.97 259.4 297.95C258.59 296.93 258.39 295.86 258.19 294.86C257.99 293.87 258.19 292.45 258.19 291.97" fill="none" stroke-width="3.02"/>
<path d="M321.87 292.78C320.81 292.65 317.82 292.29 315.55 292.01C313.28 291.74 310.52 291.43 308.26 291.14C305.99 290.85 303.72 290.38 301.94 290.25C300.16 290.13 298.94 290.14 297.56 290.41C296.19 290.68 295.21 291.05 293.67 291.88C292.13 292.7 290.27 293.94 288.33 295.36C286.38 296.78 284.11 299.1 282.01 300.39C279.9 301.67 277.8 302.61 275.69 303.06C273.58 303.5 271.48 303.38 269.37 303.04C267.26 302.69 264.71 301.84 263.05 300.99C261.39 300.14 260.21 298.97 259.4 297.95C258.59 296.93 258.39 295.86 258.19 294.86C257.99 293.87 258.19 292.45 258.19 291.97" fill="none" stroke="#fff" stroke-width="1.22"/>
<path d="M333.53 292.78C334.59 292.65 337.58 292.29 339.85 292.01C342.12 291.74 344.88 291.43 347.14 291.14C349.41 290.85 351.68 290.38 353.46 290.25C355.24 290.13 356.46 290.14 357.84 290.41C359.21 290.68 360.19 291.05 361.73 291.88C363.27 292.7 365.13 293.94 367.07 295.36C369.02 296.78 371.29 299.1 373.39 300.39C375.5 301.67 377.6 302.61 379.71 303.06C381.82 303.5 383.92 303.38 386.03 303.04C388.14 302.69 390.69 301.84 392.35 300.99C394.01 300.14 395.19 298.97 396 297.95C396.81 296.93 397.01 295.86 397.21 294.86C397.41 293.87 397.21 292.45 397.21 291.97" fill="none" stroke-width="3.02"/>
<path d="M333.53 292.78C334.59 292.65 337.58 292.29 339.85 292.01C342.12 291.74 344.88 291.43 347.14 291.14C349.41 290.85 351.68 290.38 353.46 290.25C355.24 290.13 356.46 290.14 357.84 290.41C359.21 290.68 360.19 291.05 361.73 291.88C363.27 292.7 365.13 293.94 367.07 295.36C369.02 296.78 371.29 299.1 373.39 300.39C375.5 301.67 377.6 302.61 379.71 303.06C381.82 303.5 383.92 303.38 386.03 303.04C388.14 302.69 390.69 301.84 392.35 300.99C394.01 300.14 395.19 298.97 396 297.95C396.81 296.93 397.01 295.86 397.21 294.86C397.41 293.87 397.21 292.45 397.21 291.97" fill="none" stroke="#fff" stroke-width="1.22"/>
<path d="M323.43 291.23C322.66 290.82 320.46 289.66 318.8 288.78C317.14 287.9 315.13 286.86 313.47 285.97C311.81 285.07 310.15 283.99 308.84 283.39C307.54 282.8 306.65 282.48 305.64 282.39C304.63 282.29 303.92 282.41 302.79 282.82C301.66 283.24 300.3 283.98 298.88 284.88C297.45 285.78 295.79 287.5 294.25 288.22C292.71 288.94 291.17 289.33 289.63 289.21C288.08 289.09 286.54 288.41 285 287.51C283.46 286.6 281.59 285.07 280.37 283.78C279.16 282.49 278.3 281 277.7 279.77C277.11 278.53 276.96 277.41 276.81 276.36C276.67 275.31 276.81 273.95 276.81 273.46" fill="none" stroke-width="3.02"/>
<path d="M323.43 291.23C322.66 290.82 320.46 289.66 318.8 288.78C317.14 287.9 315.13 286.86 313.47 285.97C311.81 285.07 310.15 283.99 308.84 283.39C307.54 282.8 306.65 282.48 305.64 282.39C304.63 282.29 303.92 282.41 302.79 282.82C301.66 283.24 300.3 283.98 298.88 284.88C297.45 285.78 295.79 287.5 294.25 288.22C292.71 288.94 291.17 289.33 289.63 289.21C288.08 289.09 286.54 288.41 285 287.51C283.46 286.6 281.59 285.07 280.37 283.78C279.16 282.49 278.3 281 277.7 279.77C277.11 278.53 276.96 277.41 276.81 276.36C276.67 275.31 276.81 273.95 276.81 273.46" fill="none" stroke="#fff" stroke-width="1.22"/>
<path d="M331.97 291.23C332.74 290.82 334.94 289.66 336.6 288.78C338.26 287.9 340.27 286.86 341.93 285.97C343.59 285.07 345.25 283.99 346.56 283.39C347.86 282.8 348.75 282.48 349.76 282.39C350.77 282.29 351.48 282.41 352.61 282.82C353.74 283.24 355.1 283.98 356.52 284.88C357.95 285.78 359.61 287.5 361.15 288.22C362.69 288.94 364.23 289.33 365.77 289.21C367.32 289.09 368.86 288.41 370.4 287.51C371.94 286.6 373.81 285.07 375.03 283.78C376.24 282.49 377.1 281 377.7 279.77C378.29 278.53 378.44 277.41 378.59 276.36C378.73 275.31 378.59 273.95 378.59 273.46" fill="none" stroke-width="3.02"/>
<path d="M331.97 291.23C332.74 290.82 334.94 289.66 336.6 288.78C338.26 287.9 340.27 286.86 341.93 285.97C343.59 285.07 345.25 283.99 346.56 283.39C347.86 282.8 348.75 282.48 349.76 282.39C350.77 282.29 351.48 282.41 352.61 282.82C353.74 283.24 355.1 283.98 356.52 284.88C357.95 285.78 359.61 287.5 361.15 288.22C362.69 288.94 364.23 289.33 365.77 289.21C367.32 289.09 368.86 288.41 370.4 287.51C371.94 286.6 373.81 285.07 375.03 283.78C376.24 282.49 377.1 281 377.7 279.77C378.29 278.53 378.44 277.41 378.59 276.36C378.73 275.31 378.59 273.95 378.59 273.46" fill="none" stroke="#fff" stroke-width="1.22"/>
<path d="M326.14 290.33C325.85 289.76 325.05 288.14 324.44 286.91C323.84 285.69 323.1 284.22 322.49 282.98C321.88 281.73 321.27 280.31 320.8 279.44C320.32 278.56 319.99 278.06 319.62 277.75C319.26 277.45 319 277.41 318.58 277.59C318.17 277.77 317.67 278.23 317.15 278.83C316.63 279.43 316.02 280.8 315.46 281.2C314.89 281.6 314.33 281.66 313.76 281.22C313.2 280.77 312.63 279.77 312.07 278.54C311.51 277.31 310.82 275.39 310.38 273.84C309.93 272.3 309.62 270.63 309.4 269.27C309.18 267.91 309.13 266.76 309.07 265.68C309.02 264.6 309.07 263.26 309.07 262.78" fill="none" stroke-width="3.02"/>
<path d="M326.14 290.33C325.85 289.76 325.05 288.14 324.44 286.91C323.84 285.69 323.1 284.22 322.49 282.98C321.88 281.73 321.27 280.31 320.8 279.44C320.32 278.56 319.99 278.06 319.62 277.75C319.26 277.45 319 277.41 318.58 277.59C318.17 277.77 317.67 278.23 317.15 278.83C316.63 279.43 316.02 280.8 315.46 281.2C314.89 281.6 314.33 281.66 313.76 281.22C313.2 280.77 312.63 279.77 312.07 278.54C311.51 277.31 310.82 275.39 310.38 273.84C309.93 272.3 309.62 270.63 309.4 269.27C309.18 267.91 309.13 266.76 309.07 265.68C309.02 264.6 309.07 263.26 309.07 262.78" fill="none" stroke="#fff" stroke-width="1.22"/>
<path d="M329.26 290.33C329.55 289.76 330.35 288.14 330.96 286.91C331.56 285.69 332.3 284.22 332.91 282.98C333.52 281.73 334.13 280.31 334.6 279.44C335.08 278.56 335.41 278.06 335.78 277.75C336.14 277.45 336.4 277.41 336.82 277.59C337.23 277.77 337.73 278.23 338.25 278.83C338.77 279.43 339.38 280.8 339.94 281.2C340.51 281.6 341.07 281.66 341.64 281.22C342.2 280.77 342.77 279.77 343.33 278.54C343.89 277.31 344.58 275.39 345.02 273.84C345.47 272.3 345.78 270.63 346 269.27C346.22 267.91 346.27 266.76 346.33 265.68C346.38 264.6 346.33 263.26 346.33 262.78" fill="none" stroke-width="3.02"/>
<path d="M329.26 290.33C329.55 289.76 330.35 288.14 330.96 286.91C331.56 285.69 332.3 284.22 332.91 282.98C333.52 281.73 334.13 280.31 334.6 279.44C335.08 278.56 335.41 278.06 335.78 277.75C336.14 277.45 336.4 277.41 336.82 277.59C337.23 277.77 337.73 278.23 338.25 278.83C338.77 279.43 339.38 280.8 339.94 281.2C340.51 281.6 341.07 281.66 341.64 281.22C342.2 280.77 342.77 279.77 343.33 278.54C343.89 277.31 344.58 275.39 345.02 273.84C345.47 272.3 345.78 270.63 346 269.27C346.22 267.91 346.27 266.76 346.33 265.68C346.38 264.6 346.33 263.26 346.33 262.78" fill="none" stroke="#fff" stroke-width="1.22"/>
<path d="M249.86 260.61A8.33 3.82 0 0 1 266.52 260.61Q269.25 269.24 270.87 278.32A12.68 7.27 0 0 1 245.51 278.32Q247.13 269.24 249.86 260.61Z" fill="#fff" stroke-width="0.9"/>
<path d="M250.51 259.42L246.3 276.14M265.87 259.42L270.08 276.14" fill="none" stroke-width="0.54"/>
<ellipse cx="258.19" cy="278.32" rx="12.68" ry="7.27" fill="#fff" stroke-width="0.9"/>
<ellipse cx="258.19" cy="278.44" rx="11.56" ry="6.63" fill="#fff" stroke-width="0.9"/>
<path d="M245.72 277.49A12.47 7.15 0 0 1 270.66 277.49" fill="none" stroke-width="0.63"/>
<path d="M255.56 276.65L255.61 276.37L255.76 276.09L256.33 275.6L257.18 275.27L258.19 275.16L259.19 275.27L260.05 275.6L260.62 276.09L260.77 276.37L260.82 276.65L260.82 278.74L260.77 279.02L260.62 279.31L260.05 279.8L259.19 280.12L258.19 280.24L257.18 280.12L256.33 279.8L255.76 279.31L255.61 279.02L255.56 278.74Z" fill="#fff" stroke-width="0.72"/>
<path d="M255.56 278.73A2.63 1.51 0 0 1 260.82 278.73" fill="none" stroke-width="0.72"/>
<path d="M250.07 281.56A10.15 5.82 0 0 0 266.31 281.56" fill="none" stroke-width="0.54"/>
<path d="M252.53 282.1L252.64 281.49L253.15 280.32L253.75 279.46L254.35 278.91L255.13 278.41L256.03 278.03L257.09 277.76L258.19 277.67L259.29 277.76L260.33 278.02L261.14 278.36L262.03 278.91L262.63 279.46L263.23 280.32L263.74 281.49L263.85 282.1L263.85 282.14L263.74 282.76L263.42 283.36L262.89 283.93L262.33 284.33L261.33 284.84L260.35 285.19L258.85 285.51L258.19 285.56L257.52 285.51L255.93 285.16L255.05 284.84L254.04 284.32L253.37 283.82L252.96 283.36L252.64 282.76L252.53 282.14Z" fill="#fff" stroke-width="1.12"/>
<path d="M256.99 278.86L253.38 280.41L255.64 282.6M257.48 278.51L255.36 279.31L256.69 281.96M257.95 278.39L257.23 278.93L257.68 281.73M258.43 278.39L259.15 278.93L258.7 281.73M258.9 278.51L261.02 279.31L259.69 281.96M259.39 278.86L263 280.41L260.74 282.6" fill="none" stroke-width="0.9"/>
<path d="M257.23 278.65L254.79 278.7L254.73 279.74M257.72 278.44L256.54 278.09L256.51 279.06M258.19 278.38L258.19 277.93L258.19 278.88M258.66 278.44L259.84 278.09L259.87 279.06M259.15 278.65L261.59 278.7L261.65 279.74" fill="none" stroke-width="0.9"/>
<path d="M252.53 282.12A5.66 3.24 0 0 1 263.85 282.12" fill="none" stroke-width="0.9"/>
<path d="M251.82 286.2L251.9 285.4L252.21 284.47L252.82 283.57L253.69 282.76L254.65 282.17L255.62 281.79L256.82 281.51L258.19 281.41L259.43 281.49L260.63 281.75L261.73 282.17L262.69 282.76L263.62 283.65L264.17 284.47L264.48 285.4L264.56 286.2L264.56 286.25L264.51 286.9L264.32 287.76L263.97 288.55L263.49 289.23L263.03 289.68L262.33 290.2L261.62 290.6L260.82 290.93L260.16 291.4L259.6 291.64L259.6 292.62L259.43 292.98L258.94 293.28L258.19 293.4L257.44 293.28L256.95 292.98L256.78 292.62L256.77 291.64L256.22 291.4L255.62 290.95L254.82 290.62L254.05 290.2L253.35 289.68L252.89 289.23L252.41 288.55L252.06 287.76L251.86 286.9L251.82 286.25Z" fill="#fff" stroke-width="0.9"/>
<path d="M252.85 288.25A5.34 3.06 0 0 1 263.53 288.25" fill="none" stroke-width="0.9"/>
<path d="M256.78 290.23A1.41 0.81 0 0 1 259.6 290.23" fill="none" stroke-width="0.9"/>
<path d="M254.15 288.91A4.04 2.32 0 0 1 262.23 288.91" fill="none" stroke-width="1.8"/>
<path d="M388.88 260.61A8.33 3.82 0 0 1 405.54 260.61Q408.27 269.24 409.89 278.32A12.68 7.27 0 0 1 384.53 278.32Q386.15 269.24 388.88 260.61Z" fill="#fff" stroke-width="0.9"/>
<path d="M389.53 259.42L385.32 276.14M404.89 259.42L409.1 276.14" fill="none" stroke-width="0.54"/>
<ellipse cx="397.21" cy="278.32" rx="12.68" ry="7.27" fill="#fff" stroke-width="0.9"/>
<ellipse cx="397.21" cy="278.44" rx="11.56" ry="6.63" fill="#fff" stroke-width="0.9"/>
<path d="M384.74 277.49A12.47 7.15 0 0 1 409.68 277.49" fill="none" stroke-width="0.63"/>
<path d="M394.58 276.65L394.63 276.37L394.78 276.09L395.35 275.6L396.21 275.27L397.21 275.16L398.22 275.27L399.07 275.6L399.64 276.09L399.79 276.37L399.84 276.65L399.84 278.74L399.79 279.02L399.64 279.31L399.07 279.8L398.22 280.12L397.21 280.24L396.21 280.12L395.35 279.8L394.78 279.31L394.63 279.02L394.58 278.74Z" fill="#fff" stroke-width="0.72"/>
<path d="M394.58 278.73A2.63 1.51 0 0 1 399.84 278.73" fill="none" stroke-width="0.72"/>
<path d="M389.09 281.56A10.15 5.82 0 0 0 405.33 281.56" fill="none" stroke-width="0.54"/>
<path d="M391.55 282.1L391.66 281.49L392.17 280.32L392.77 279.46L393.37 278.91L394.15 278.41L395.05 278.03L396.11 277.76L397.21 277.67L398.31 277.76L399.35 278.02L400.17 278.36L401.05 278.91L401.65 279.46L402.25 280.32L402.76 281.49L402.87 282.1L402.87 282.14L402.76 282.76L402.44 283.36L401.91 283.93L401.35 284.33L400.35 284.84L399.37 285.19L397.88 285.51L397.21 285.56L396.55 285.51L394.95 285.16L394.07 284.84L393.06 284.32L392.39 283.82L391.98 283.36L391.66 282.76L391.55 282.14Z" fill="#fff" stroke-width="1.12"/>
<path d="M396.01 278.86L392.4 280.41L394.66 282.6M396.5 278.51L394.38 279.31L395.71 281.96M396.97 278.39L396.25 278.93L396.7 281.73M397.45 278.39L398.17 278.93L397.72 281.73M397.92 278.51L400.04 279.31L398.71 281.96M398.41 278.86L402.02 280.41L399.76 282.6" fill="none" stroke-width="0.9"/>
<path d="M396.25 278.65L393.81 278.7L393.75 279.74M396.74 278.44L395.56 278.09L395.53 279.06M397.21 278.38L397.21 277.93L397.21 278.88M397.68 278.44L398.86 278.09L398.89 279.06M398.17 278.65L400.61 278.7L400.67 279.74" fill="none" stroke-width="0.9"/>
<path d="M391.55 282.12A5.66 3.24 0 0 1 402.87 282.12" fill="none" stroke-width="0.9"/>
<path d="M390.84 286.2L390.92 285.4L391.23 284.47L391.84 283.57L392.71 282.76L393.67 282.17L394.64 281.79L395.84 281.51L397.21 281.41L398.45 281.49L399.65 281.75L400.75 282.17L401.71 282.76L402.64 283.65L403.19 284.47L403.5 285.4L403.58 286.2L403.58 286.25L403.54 286.9L403.34 287.76L402.99 288.55L402.51 289.23L402.05 289.68L401.35 290.2L400.64 290.6L399.84 290.93L399.18 291.4L398.63 291.64L398.62 292.62L398.45 292.98L397.96 293.28L397.21 293.4L396.46 293.28L395.97 292.98L395.8 292.62L395.8 291.64L395.24 291.4L394.64 290.95L393.84 290.62L393.07 290.2L392.37 289.68L391.91 289.23L391.43 288.55L391.08 287.76L390.89 286.9L390.84 286.25Z" fill="#fff" stroke-width="0.9"/>
<path d="M391.87 288.25A5.34 3.06 0 0 1 402.55 288.25" fill="none" stroke-width="0.9"/>
<path d="M395.8 290.23A1.41 0.81 0 0 1 398.62 290.23" fill="none" stroke-width="0.9"/>
<path d="M393.17 288.91A4.04 2.32 0 0 1 401.25 288.91" fill="none" stroke-width="1.8"/>
<path d="M268.48 242.11A8.33 3.82 0 0 1 285.15 242.11Q287.87 250.74 289.49 259.81A12.68 7.27 0 0 1 264.14 259.81Q265.76 250.74 268.48 242.11Z" fill="#fff" stroke-width="0.9"/>
<path d="M269.14 240.91L264.93 257.63M284.49 240.91L288.7 257.63" fill="none" stroke-width="0.54"/>
<ellipse cx="276.81" cy="259.81" rx="12.68" ry="7.27" fill="#fff" stroke-width="0.9"/>
<ellipse cx="276.81" cy="259.94" rx="11.56" ry="6.63" fill="#fff" stroke-width="0.9"/>
<path d="M264.34 258.99A12.47 7.15 0 0 1 289.29 258.99" fill="none" stroke-width="0.63"/>
<path d="M274.19 258.15L274.24 257.86L274.39 257.58L274.96 257.09L275.81 256.77L276.81 256.65L277.82 256.77L278.67 257.09L279.24 257.58L279.39 257.86L279.44 258.15L279.44 260.24L279.39 260.52L279.24 260.8L278.67 261.29L277.82 261.62L276.81 261.73L275.81 261.62L274.96 261.29L274.39 260.8L274.24 260.52L274.19 260.24Z" fill="#fff" stroke-width="0.72"/>
<path d="M274.19 260.23A2.63 1.51 0 0 1 279.44 260.23" fill="none" stroke-width="0.72"/>
<path d="M268.69 263.06A10.15 5.82 0 0 0 284.94 263.06" fill="none" stroke-width="0.54"/>
<path d="M271.16 263.6L271.27 262.99L271.78 261.82L272.37 260.96L272.98 260.41L273.76 259.91L274.65 259.53L275.71 259.26L276.81 259.17L277.92 259.26L278.96 259.52L279.77 259.86L280.65 260.41L281.26 260.96L281.85 261.82L282.36 262.99L282.47 263.6L282.47 263.64L282.36 264.25L282.04 264.86L281.52 265.42L280.96 265.83L279.96 266.34L278.98 266.69L277.48 267L276.81 267.05L276.15 267L274.56 266.66L273.67 266.34L272.66 265.82L271.99 265.31L271.59 264.86L271.27 264.25L271.16 263.64Z" fill="#fff" stroke-width="1.12"/>
<path d="M275.61 260.35L272.01 261.91L274.27 264.1M276.11 260.01L273.99 260.81L275.31 263.45M276.57 259.89L275.85 260.42L276.3 263.22M277.06 259.89L277.78 260.42L277.32 263.22M277.52 260.01L279.64 260.81L278.31 263.45M278.02 260.35L281.62 261.91L279.36 264.1" fill="none" stroke-width="0.9"/>
<path d="M275.85 260.15L273.42 260.19L273.35 261.24M276.35 259.93L275.16 259.59L275.13 260.56M276.81 259.88L276.81 259.43L276.81 260.38M277.28 259.93L278.46 259.59L278.49 260.56M277.78 260.15L280.21 260.19L280.28 261.24" fill="none" stroke-width="0.9"/>
<path d="M271.16 263.62A5.66 3.24 0 0 1 282.47 263.62" fill="none" stroke-width="0.9"/>
<path d="M270.45 267.7L270.52 266.9L270.84 265.97L271.45 265.07L272.31 264.25L273.28 263.67L274.25 263.29L275.45 263.01L276.81 262.9L278.06 262.99L279.25 263.25L280.35 263.67L281.32 264.25L282.25 265.14L282.79 265.97L283.11 266.9L283.18 267.7L283.18 267.74L283.14 268.4L282.95 269.26L282.6 270.04L282.11 270.73L281.66 271.18L280.95 271.7L280.25 272.09L279.45 272.43L278.78 272.89L278.23 273.13L278.23 274.12L278.06 274.47L277.56 274.77L276.81 274.9L276.07 274.77L275.57 274.47L275.4 274.12L275.4 273.13L274.85 272.89L274.25 272.45L273.45 272.12L272.68 271.7L271.97 271.18L271.52 270.73L271.03 270.04L270.68 269.26L270.49 268.4L270.45 267.74Z" fill="#fff" stroke-width="0.9"/>
<path d="M271.47 269.74A5.34 3.06 0 0 1 282.16 269.74" fill="none" stroke-width="0.9"/>
<path d="M275.4 271.73A1.41 0.81 0 0 1 278.23 271.73" fill="none" stroke-width="0.9"/>
<path d="M272.77 270.4A4.04 2.32 0 0 1 280.85 270.4" fill="none" stroke-width="1.8"/>
<path d="M370.25 242.11A8.33 3.82 0 0 1 386.92 242.11Q389.64 250.74 391.26 259.81A12.68 7.27 0 0 1 365.91 259.81Q367.53 250.74 370.25 242.11Z" fill="#fff" stroke-width="0.9"/>
<path d="M370.91 240.91L366.7 257.63M386.26 240.91L390.47 257.63" fill="none" stroke-width="0.54"/>
<ellipse cx="378.59" cy="259.81" rx="12.68" ry="7.27" fill="#fff" stroke-width="0.9"/>
<ellipse cx="378.59" cy="259.94" rx="11.56" ry="6.63" fill="#fff" stroke-width="0.9"/>
<path d="M366.11 258.99A12.47 7.15 0 0 1 391.06 258.99" fill="none" stroke-width="0.63"/>
<path d="M375.96 258.15L376.01 257.86L376.16 257.58L376.73 257.09L377.58 256.77L378.59 256.65L379.59 256.77L380.44 257.09L381.01 257.58L381.16 257.86L381.21 258.15L381.21 260.24L381.16 260.52L381.01 260.8L380.44 261.29L379.59 261.62L378.59 261.73L377.58 261.62L376.73 261.29L376.16 260.8L376.01 260.52L375.96 260.24Z" fill="#fff" stroke-width="0.72"/>
<path d="M375.96 260.23A2.63 1.51 0 0 1 381.21 260.23" fill="none" stroke-width="0.72"/>
<path d="M370.46 263.06A10.15 5.82 0 0 0 386.71 263.06" fill="none" stroke-width="0.54"/>
<path d="M372.93 263.6L373.04 262.99L373.55 261.82L374.14 260.96L374.75 260.41L375.53 259.91L376.42 259.53L377.48 259.26L378.59 259.17L379.69 259.26L380.73 259.52L381.54 259.86L382.42 260.41L383.03 260.96L383.62 261.82L384.13 262.99L384.24 263.6L384.24 263.64L384.13 264.25L383.81 264.86L383.29 265.42L382.73 265.83L381.73 266.34L380.75 266.69L379.25 267L378.59 267.05L377.92 267L376.33 266.66L375.44 266.34L374.43 265.82L373.76 265.31L373.36 264.86L373.04 264.25L372.93 263.64Z" fill="#fff" stroke-width="1.12"/>
<path d="M377.38 260.35L373.78 261.91L376.04 264.1M377.88 260.01L375.76 260.81L377.09 263.45M378.34 259.89L377.62 260.42L378.08 263.22M378.83 259.89L379.55 260.42L379.1 263.22M379.29 260.01L381.41 260.81L380.09 263.45M379.79 260.35L383.39 261.91L381.13 264.1" fill="none" stroke-width="0.9"/>
<path d="M377.62 260.15L375.19 260.19L375.12 261.24M378.12 259.93L376.94 259.59L376.91 260.56M378.59 259.88L378.59 259.43L378.59 260.38M379.05 259.93L380.24 259.59L380.27 260.56M379.55 260.15L381.98 260.19L382.05 261.24" fill="none" stroke-width="0.9"/>
<path d="M372.93 263.62A5.66 3.24 0 0 1 384.24 263.62" fill="none" stroke-width="0.9"/>
<path d="M372.22 267.7L372.29 266.9L372.61 265.97L373.22 265.07L374.08 264.25L375.05 263.67L376.02 263.29L377.22 263.01L378.59 262.9L379.83 262.99L381.02 263.25L382.12 263.67L383.09 264.25L384.02 265.14L384.56 265.97L384.88 266.9L384.95 267.7L384.95 267.74L384.91 268.4L384.72 269.26L384.37 270.04L383.88 270.73L383.43 271.18L382.72 271.7L382.02 272.09L381.22 272.43L380.55 272.89L380 273.13L380 274.12L379.83 274.47L379.33 274.77L378.59 274.9L377.84 274.77L377.34 274.47L377.17 274.12L377.17 273.13L376.62 272.89L376.02 272.45L375.22 272.12L374.45 271.7L373.74 271.18L373.29 270.73L372.8 270.04L372.45 269.26L372.26 268.4L372.22 267.74Z" fill="#fff" stroke-width="0.9"/>
<path d="M373.24 269.74A5.34 3.06 0 0 1 383.93 269.74" fill="none" stroke-width="0.9"/>
<path d="M377.17 271.73A1.41 0.81 0 0 1 380 271.73" fill="none" stroke-width="0.9"/>
<path d="M374.55 270.4A4.04 2.32 0 0 1 382.63 270.4" fill="none" stroke-width="1.8"/>
<path d="M300.74 231.43A8.33 3.82 0 0 1 317.41 231.43Q320.13 240.06 321.75 249.13A12.68 7.27 0 0 1 296.4 249.13Q298.02 240.06 300.74 231.43Z" fill="#fff" stroke-width="0.9"/>
<path d="M301.4 230.23L297.19 246.95M316.75 230.23L320.96 246.95" fill="none" stroke-width="0.54"/>
<ellipse cx="309.07" cy="249.13" rx="12.68" ry="7.27" fill="#fff" stroke-width="0.9"/>
<ellipse cx="309.07" cy="249.25" rx="11.56" ry="6.63" fill="#fff" stroke-width="0.9"/>
<path d="M296.6 248.3A12.47 7.15 0 0 1 321.55 248.3" fill="none" stroke-width="0.63"/>
<path d="M306.45 247.46L306.5 247.18L306.65 246.9L307.22 246.41L308.07 246.08L309.07 245.97L310.08 246.08L310.93 246.41L311.5 246.9L311.65 247.18L311.7 247.46L311.7 249.56L311.65 249.84L311.5 250.12L310.93 250.61L310.08 250.94L309.07 251.05L308.07 250.94L307.22 250.61L306.65 250.12L306.5 249.84L306.45 249.56Z" fill="#fff" stroke-width="0.72"/>
<path d="M306.45 249.54A2.63 1.51 0 0 1 311.7 249.54" fill="none" stroke-width="0.72"/>
<path d="M300.95 252.38A10.15 5.82 0 0 0 317.2 252.38" fill="none" stroke-width="0.54"/>
<path d="M303.42 252.92L303.53 252.3L304.04 251.14L304.63 250.28L305.24 249.73L306.02 249.23L306.91 248.84L307.97 248.58L309.07 248.49L310.18 248.58L311.22 248.84L312.03 249.18L312.91 249.73L313.52 250.28L314.11 251.14L314.62 252.3L314.73 252.92L314.73 252.96L314.62 253.57L314.3 254.18L313.78 254.74L313.22 255.14L312.22 255.65L311.24 256L309.74 256.32L309.07 256.37L308.41 256.32L306.82 255.98L305.93 255.65L304.92 255.14L304.37 254.74L303.85 254.18L303.53 253.57L303.42 252.96Z" fill="#fff" stroke-width="1.12"/>
<path d="M307.87 249.67L304.27 251.23L306.52 253.42M308.37 249.33L306.25 250.13L307.57 252.77M308.83 249.21L308.11 249.74L308.56 252.54M309.32 249.21L310.04 249.74L309.58 252.54M309.78 249.33L311.9 250.13L310.57 252.77M310.28 249.67L313.88 251.23L311.62 253.42" fill="none" stroke-width="0.9"/>
<path d="M308.11 249.46L305.68 249.51L305.61 250.56M308.61 249.25L307.42 248.91L307.39 249.87M309.07 249.19L309.07 248.74L309.07 249.69M309.54 249.25L310.72 248.91L310.75 249.87M310.04 249.46L312.47 249.51L312.54 250.56" fill="none" stroke-width="0.9"/>
<path d="M303.42 252.94A5.66 3.24 0 0 1 314.73 252.94" fill="none" stroke-width="0.9"/>
<path d="M302.71 257.02L302.78 256.22L303.1 255.29L303.71 254.39L304.57 253.57L305.54 252.98L306.51 252.6L307.71 252.32L309.07 252.22L310.32 252.3L311.51 252.56L312.61 252.98L313.58 253.57L314.51 254.46L315.05 255.29L315.37 256.22L315.44 257.02L315.44 257.06L315.4 257.72L315.21 258.57L314.86 259.36L314.37 260.05L313.92 260.5L313.21 261.02L312.51 261.41L311.71 261.74L311.04 262.21L310.49 262.45L310.49 263.43L310.32 263.79L309.82 264.09L309.07 264.21L308.33 264.09L307.83 263.79L307.66 263.43L307.66 262.45L307.11 262.21L306.51 261.76L305.71 261.44L304.94 261.02L304.23 260.5L303.78 260.05L303.29 259.36L302.94 258.57L302.75 257.72L302.71 257.06Z" fill="#fff" stroke-width="0.9"/>
<path d="M303.73 259.06A5.34 3.06 0 0 1 314.42 259.06" fill="none" stroke-width="0.9"/>
<path d="M307.66 261.04A1.41 0.81 0 0 1 310.49 261.04" fill="none" stroke-width="0.9"/>
<path d="M305.03 259.72A4.04 2.32 0 0 1 313.11 259.72" fill="none" stroke-width="1.8"/>
<path d="M337.99 231.43A8.33 3.82 0 0 1 354.66 231.43Q357.38 240.06 359 249.13A12.68 7.27 0 0 1 333.65 249.13Q335.27 240.06 337.99 231.43Z" fill="#fff" stroke-width="0.9"/>
<path d="M338.65 230.23L334.44 246.95M354 230.23L358.21 246.95" fill="none" stroke-width="0.54"/>
<ellipse cx="346.33" cy="249.13" rx="12.68" ry="7.27" fill="#fff" stroke-width="0.9"/>
<ellipse cx="346.33" cy="249.25" rx="11.56" ry="6.63" fill="#fff" stroke-width="0.9"/>
<path d="M333.85 248.3A12.47 7.15 0 0 1 358.8 248.3" fill="none" stroke-width="0.63"/>
<path d="M343.7 247.46L343.75 247.18L343.9 246.9L344.47 246.41L345.32 246.08L346.33 245.97L347.33 246.08L348.18 246.41L348.75 246.9L348.9 247.18L348.95 247.46L348.95 249.56L348.9 249.84L348.75 250.12L348.18 250.61L347.33 250.94L346.33 251.05L345.32 250.94L344.47 250.61L343.9 250.12L343.75 249.84L343.7 249.56Z" fill="#fff" stroke-width="0.72"/>
<path d="M343.7 249.54A2.63 1.51 0 0 1 348.95 249.54" fill="none" stroke-width="0.72"/>
<path d="M338.2 252.38A10.15 5.82 0 0 0 354.45 252.38" fill="none" stroke-width="0.54"/>
<path d="M340.67 252.92L340.78 252.3L341.29 251.14L341.88 250.28L342.49 249.73L343.27 249.23L344.16 248.84L345.22 248.58L346.33 248.49L347.43 248.58L348.47 248.84L349.28 249.18L350.16 249.73L350.77 250.28L351.36 251.14L351.87 252.3L351.98 252.92L351.98 252.96L351.87 253.57L351.55 254.18L351.03 254.74L350.47 255.14L349.47 255.65L348.49 256L346.99 256.32L346.33 256.37L345.66 256.32L344.07 255.98L343.18 255.65L342.17 255.14L341.62 254.74L341.1 254.18L340.78 253.57L340.67 252.96Z" fill="#fff" stroke-width="1.12"/>
<path d="M345.12 249.67L341.52 251.23L343.78 253.42M345.62 249.33L343.5 250.13L344.83 252.77M346.08 249.21L345.36 249.74L345.82 252.54M346.57 249.21L347.29 249.74L346.84 252.54M347.03 249.33L349.15 250.13L347.83 252.77M347.53 249.67L351.13 251.23L348.88 253.42" fill="none" stroke-width="0.9"/>
<path d="M345.36 249.46L342.93 249.51L342.86 250.56M345.86 249.25L344.68 248.91L344.65 249.87M346.33 249.19L346.33 248.74L346.33 249.69M346.79 249.25L347.98 248.91L348.01 249.87M347.29 249.46L349.72 249.51L349.79 250.56" fill="none" stroke-width="0.9"/>
<path d="M340.67 252.94A5.66 3.24 0 0 1 351.98 252.94" fill="none" stroke-width="0.9"/>
<path d="M339.96 257.02L340.03 256.22L340.35 255.29L340.96 254.39L341.82 253.57L342.79 252.98L343.76 252.6L344.96 252.32L346.33 252.22L347.57 252.3L348.76 252.56L349.86 252.98L350.83 253.57L351.76 254.46L352.3 255.29L352.62 256.22L352.69 257.02L352.69 257.06L352.65 257.72L352.46 258.57L352.11 259.36L351.62 260.05L351.17 260.5L350.46 261.02L349.76 261.41L348.96 261.74L348.29 262.21L347.74 262.45L347.74 263.43L347.57 263.79L347.07 264.09L346.33 264.21L345.58 264.09L345.08 263.79L344.91 263.43L344.91 262.45L344.36 262.21L343.76 261.76L342.96 261.44L342.19 261.02L341.48 260.5L341.03 260.05L340.54 259.36L340.19 258.57L340 257.72L339.96 257.06Z" fill="#fff" stroke-width="0.9"/>
<path d="M340.98 259.06A5.34 3.06 0 0 1 351.67 259.06" fill="none" stroke-width="0.9"/>
<path d="M344.91 261.04A1.41 0.81 0 0 1 347.74 261.04" fill="none" stroke-width="0.9"/>
<path d="M342.29 259.72A4.04 2.32 0 0 1 350.37 259.72" fill="none" stroke-width="1.8"/>
</g>
<g stroke="#000" fill="none">
<path d="M95 275.6L168.3 275.6" stroke-width="4.2"/>
<path d="M95 275.6L168.3 275.6" stroke="#fff" stroke-width="1.9"/>
<path d="M95 275.6L158.48 238.95" stroke-width="4.2"/>
<path d="M95 275.6L158.48 238.95" stroke="#fff" stroke-width="1.9"/>
<path d="M95 275.6L131.65 212.12" stroke-width="4.2"/>
<path d="M95 275.6L131.65 212.12" stroke="#fff" stroke-width="1.9"/>
<path d="M95 275.6L95 202.3" stroke-width="4.2"/>
<path d="M95 275.6L95 202.3" stroke="#fff" stroke-width="1.9"/>
<path d="M95 275.6L58.35 212.12" stroke-width="4.2"/>
<path d="M95 275.6L58.35 212.12" stroke="#fff" stroke-width="1.9"/>
<path d="M95 275.6L31.52 238.95" stroke-width="4.2"/>
<path d="M95 275.6L31.52 238.95" stroke="#fff" stroke-width="1.9"/>
<path d="M95 275.6L21.7 275.6" stroke-width="4.2"/>
<path d="M95 275.6L21.7 275.6" stroke="#fff" stroke-width="1.9"/>
<path d="M95 275.6L31.52 312.25" stroke-width="4.2"/>
<path d="M95 275.6L31.52 312.25" stroke="#fff" stroke-width="1.9"/>
<path d="M95 275.6L58.35 339.08" stroke-width="4.2"/>
<path d="M95 275.6L58.35 339.08" stroke="#fff" stroke-width="1.9"/>
<path d="M95 275.6L95 348.9" stroke-width="4.2"/>
<path d="M95 275.6L95 348.9" stroke="#fff" stroke-width="1.9"/>
<path d="M95 275.6L131.65 339.08" stroke-width="4.2"/>
<path d="M95 275.6L131.65 339.08" stroke="#fff" stroke-width="1.9"/>
<path d="M95 275.6L158.48 312.25" stroke-width="4.2"/>
<path d="M95 275.6L158.48 312.25" stroke="#fff" stroke-width="1.9"/>
<circle cx="168.3" cy="275.6" r="12.6" fill="#fff" stroke-width="1.2"/>
<circle cx="168.3" cy="275.6" r="8.4" fill="#fff" stroke-width="0.8"/>
<circle cx="168.3" cy="275.6" r="5.4" stroke-width="4.0"/>
<path d="M171.06 273.29L173.82 270.97M164.92 274.37L161.53 273.14M168.93 279.15L169.55 282.69" stroke="#fff" stroke-width="0.8"/>
<circle cx="158.48" cy="238.95" r="12.6" fill="#fff" stroke-width="1.2"/>
<circle cx="158.48" cy="238.95" r="8.4" fill="#fff" stroke-width="0.8"/>
<circle cx="158.48" cy="238.95" r="5.4" stroke-width="4.0"/>
<path d="M159.71 235.57L160.94 232.18M154.93 239.58L151.39 240.2M160.79 241.71L163.11 244.47" stroke="#fff" stroke-width="0.8"/>
<circle cx="131.65" cy="212.12" r="12.6" fill="#fff" stroke-width="1.2"/>
<circle cx="131.65" cy="212.12" r="8.4" fill="#fff" stroke-width="0.8"/>
<circle cx="131.65" cy="212.12" r="5.4" stroke-width="4.0"/>
<path d="M131.02 208.58L130.4 205.03M128.89 214.43L126.13 216.75M135.03 213.35L138.42 214.58" stroke="#fff" stroke-width="0.8"/>
<circle cx="95" cy="202.3" r="12.6" fill="#fff" stroke-width="1.2"/>
<circle cx="95" cy="202.3" r="8.4" fill="#fff" stroke-width="0.8"/>
<circle cx="95" cy="202.3" r="5.4" stroke-width="4.0"/>
<path d="M92.69 199.54L90.37 196.78M93.77 205.68L92.54 209.07M98.55 201.67L102.09 201.05" stroke="#fff" stroke-width="0.8"/>
<circle cx="58.35" cy="212.12" r="12.6" fill="#fff" stroke-width="1.2"/>
<circle cx="58.35" cy="212.12" r="8.4" fill="#fff" stroke-width="0.8"/>
<circle cx="58.35" cy="212.12" r="5.4" stroke-width="4.0"/>
<path d="M54.97 210.89L51.58 209.66M58.98 215.67L59.6 219.21M61.11 209.81L63.87 207.49" stroke="#fff" stroke-width="0.8"/>
<circle cx="31.52" cy="238.95" r="12.6" fill="#fff" stroke-width="1.2"/>
<circle cx="31.52" cy="238.95" r="8.4" fill="#fff" stroke-width="0.8"/>
<circle cx="31.52" cy="238.95" r="5.4" stroke-width="4.0"/>
<path d="M27.98 239.58L24.43 240.2M33.83 241.71L36.15 244.47M32.75 235.57L33.98 232.18" stroke="#fff" stroke-width="0.8"/>
<circle cx="21.7" cy="275.6" r="12.6" fill="#fff" stroke-width="1.2"/>
<circle cx="21.7" cy="275.6" r="8.4" fill="#fff" stroke-width="0.8"/>
<circle cx="21.7" cy="275.6" r="5.4" stroke-width="4.0"/>
<path d="M18.94 277.91L16.18 280.23M25.08 276.83L28.47 278.06M21.07 272.05L20.45 268.51" stroke="#fff" stroke-width="0.8"/>
<circle cx="31.52" cy="312.25" r="12.6" fill="#fff" stroke-width="1.2"/>
<circle cx="31.52" cy="312.25" r="8.4" fill="#fff" stroke-width="0.8"/>
<circle cx="31.52" cy="312.25" r="5.4" stroke-width="4.0"/>
<path d="M30.29 315.63L29.06 319.02M35.07 311.62L38.61 311M29.21 309.49L26.89 306.73" stroke="#fff" stroke-width="0.8"/>
<circle cx="58.35" cy="339.08" r="12.6" fill="#fff" stroke-width="1.2"/>
<circle cx="58.35" cy="339.08" r="8.4" fill="#fff" stroke-width="0.8"/>
<circle cx="58.35" cy="339.08" r="5.4" stroke-width="4.0"/>
<path d="M58.98 342.62L59.6 346.17M61.11 336.77L63.87 334.45M54.97 337.85L51.58 336.62" stroke="#fff" stroke-width="0.8"/>
<circle cx="95" cy="348.9" r="12.6" fill="#fff" stroke-width="1.2"/>
<circle cx="95" cy="348.9" r="8.4" fill="#fff" stroke-width="0.8"/>
<circle cx="95" cy="348.9" r="5.4" stroke-width="4.0"/>
<path d="M97.31 351.66L99.63 354.42M96.23 345.52L97.46 342.13M91.45 349.53L87.91 350.15" stroke="#fff" stroke-width="0.8"/>
<circle cx="131.65" cy="339.08" r="12.6" fill="#fff" stroke-width="1.2"/>
<circle cx="131.65" cy="339.08" r="8.4" fill="#fff" stroke-width="0.8"/>
<circle cx="131.65" cy="339.08" r="5.4" stroke-width="4.0"/>
<path d="M135.03 340.31L138.42 341.54M131.02 335.53L130.4 331.99M128.89 341.39L126.13 343.71" stroke="#fff" stroke-width="0.8"/>
<circle cx="158.48" cy="312.25" r="12.6" fill="#fff" stroke-width="1.2"/>
<circle cx="158.48" cy="312.25" r="8.4" fill="#fff" stroke-width="0.8"/>
<circle cx="158.48" cy="312.25" r="5.4" stroke-width="4.0"/>
<path d="M162.02 311.62L165.57 311M156.17 309.49L153.85 306.73M157.25 315.63L156.02 319.02" stroke="#fff" stroke-width="0.8"/>
<circle cx="95" cy="275.6" r="9.0" fill="#fff" stroke-width="1.5"/>
<circle cx="95" cy="275.6" r="6.0" fill="#fff" stroke-width="1.3"/>
<path d="M89 275.6H101" stroke-width="2.3"/>
<path d="M90.6 272.6H99.4M90.6 278.6H99.4" stroke-width="0.7"/>
</g><g stroke="#222" fill="none">
<circle cx="195.5" cy="454.9" r="90.8" stroke-width="1" stroke-dasharray="4.2 2.2"/>
<circle cx="273.4" cy="454.6" r="12.95" fill="#fff" stroke-width="1.7"/>
<circle cx="273.4" cy="454.6" r="12.95" stroke="#999" stroke-width="0.5"/>
<path d="M266.39 458.65L262.23 461.05M280.41 458.65L284.57 461.05M273.4 446.5L273.4 441.7" stroke-width="2.5"/>
<path d="M266.39 458.65L262.23 461.05M280.41 458.65L284.57 461.05M273.4 446.5L273.4 441.7" stroke="#fff" stroke-width="1.1"/>
<circle cx="273.4" cy="454.6" r="8.1" stroke-width="1.6"/>
<circle cx="273.4" cy="454.6" r="8.1" stroke="#aaa" stroke-width="0.5"/>
<circle cx="273.4" cy="454.6" r="5.0" stroke-width="0.9"/>
<circle cx="262.98" cy="415.7" r="12.95" fill="#fff" stroke-width="1.7"/>
<circle cx="262.98" cy="415.7" r="12.95" stroke="#999" stroke-width="0.5"/>
<path d="M258.93 422.71L256.53 426.87M271.08 415.7L275.88 415.7M258.93 408.69L256.53 404.53" stroke-width="2.5"/>
<path d="M258.93 422.71L256.53 426.87M271.08 415.7L275.88 415.7M258.93 408.69L256.53 404.53" stroke="#fff" stroke-width="1.1"/>
<circle cx="262.98" cy="415.7" r="8.1" stroke-width="1.6"/>
<circle cx="262.98" cy="415.7" r="8.1" stroke="#aaa" stroke-width="0.5"/>
<circle cx="262.98" cy="415.7" r="5.0" stroke-width="0.9"/>
<circle cx="234.5" cy="387.22" r="12.95" fill="#fff" stroke-width="1.7"/>
<circle cx="234.5" cy="387.22" r="12.95" stroke="#999" stroke-width="0.5"/>
<path d="M234.5 395.32L234.5 400.12M241.51 383.17L245.67 380.77M227.49 383.17L223.33 380.77" stroke-width="2.5"/>
<path d="M234.5 395.32L234.5 400.12M241.51 383.17L245.67 380.77M227.49 383.17L223.33 380.77" stroke="#fff" stroke-width="1.1"/>
<circle cx="234.5" cy="387.22" r="8.1" stroke-width="1.6"/>
<circle cx="234.5" cy="387.22" r="8.1" stroke="#aaa" stroke-width="0.5"/>
<circle cx="234.5" cy="387.22" r="5.0" stroke-width="0.9"/>
<circle cx="195.6" cy="376.8" r="12.95" fill="#fff" stroke-width="1.7"/>
<circle cx="195.6" cy="376.8" r="12.95" stroke="#999" stroke-width="0.5"/>
<path d="M199.65 383.81L202.05 387.97M199.65 369.79L202.05 365.63M187.5 376.8L182.7 376.8" stroke-width="2.5"/>
<path d="M199.65 383.81L202.05 387.97M199.65 369.79L202.05 365.63M187.5 376.8L182.7 376.8" stroke="#fff" stroke-width="1.1"/>
<circle cx="195.6" cy="376.8" r="8.1" stroke-width="1.6"/>
<circle cx="195.6" cy="376.8" r="8.1" stroke="#aaa" stroke-width="0.5"/>
<circle cx="195.6" cy="376.8" r="5.0" stroke-width="0.9"/>
<circle cx="156.7" cy="387.22" r="12.95" fill="#fff" stroke-width="1.7"/>
<circle cx="156.7" cy="387.22" r="12.95" stroke="#999" stroke-width="0.5"/>
<path d="M163.71 391.27L167.87 393.67M156.7 379.12L156.7 374.32M149.69 391.27L145.53 393.67" stroke-width="2.5"/>
<path d="M163.71 391.27L167.87 393.67M156.7 379.12L156.7 374.32M149.69 391.27L145.53 393.67" stroke="#fff" stroke-width="1.1"/>
<circle cx="156.7" cy="387.22" r="8.1" stroke-width="1.6"/>
<circle cx="156.7" cy="387.22" r="8.1" stroke="#aaa" stroke-width="0.5"/>
<circle cx="156.7" cy="387.22" r="5.0" stroke-width="0.9"/>
<circle cx="128.22" cy="415.7" r="12.95" fill="#fff" stroke-width="1.7"/>
<circle cx="128.22" cy="415.7" r="12.95" stroke="#999" stroke-width="0.5"/>
<path d="M136.32 415.7L141.12 415.7M124.17 408.69L121.77 404.53M124.17 422.71L121.77 426.87" stroke-width="2.5"/>
<path d="M136.32 415.7L141.12 415.7M124.17 408.69L121.77 404.53M124.17 422.71L121.77 426.87" stroke="#fff" stroke-width="1.1"/>
<circle cx="128.22" cy="415.7" r="8.1" stroke-width="1.6"/>
<circle cx="128.22" cy="415.7" r="8.1" stroke="#aaa" stroke-width="0.5"/>
<circle cx="128.22" cy="415.7" r="5.0" stroke-width="0.9"/>
<circle cx="117.8" cy="454.6" r="12.95" fill="#fff" stroke-width="1.7"/>
<circle cx="117.8" cy="454.6" r="12.95" stroke="#999" stroke-width="0.5"/>
<path d="M124.81 450.55L128.97 448.15M110.79 450.55L106.63 448.15M117.8 462.7L117.8 467.5" stroke-width="2.5"/>
<path d="M124.81 450.55L128.97 448.15M110.79 450.55L106.63 448.15M117.8 462.7L117.8 467.5" stroke="#fff" stroke-width="1.1"/>
<circle cx="117.8" cy="454.6" r="8.1" stroke-width="1.6"/>
<circle cx="117.8" cy="454.6" r="8.1" stroke="#aaa" stroke-width="0.5"/>
<circle cx="117.8" cy="454.6" r="5.0" stroke-width="0.9"/>
<circle cx="128.22" cy="493.5" r="12.95" fill="#fff" stroke-width="1.7"/>
<circle cx="128.22" cy="493.5" r="12.95" stroke="#999" stroke-width="0.5"/>
<path d="M132.27 486.49L134.67 482.33M120.12 493.5L115.32 493.5M132.27 500.51L134.67 504.67" stroke-width="2.5"/>
<path d="M132.27 486.49L134.67 482.33M120.12 493.5L115.32 493.5M132.27 500.51L134.67 504.67" stroke="#fff" stroke-width="1.1"/>
<circle cx="128.22" cy="493.5" r="8.1" stroke-width="1.6"/>
<circle cx="128.22" cy="493.5" r="8.1" stroke="#aaa" stroke-width="0.5"/>
<circle cx="128.22" cy="493.5" r="5.0" stroke-width="0.9"/>
<circle cx="156.7" cy="521.98" r="12.95" fill="#fff" stroke-width="1.7"/>
<circle cx="156.7" cy="521.98" r="12.95" stroke="#999" stroke-width="0.5"/>
<path d="M156.7 513.88L156.7 509.08M149.69 526.03L145.53 528.43M163.71 526.03L167.87 528.43" stroke-width="2.5"/>
<path d="M156.7 513.88L156.7 509.08M149.69 526.03L145.53 528.43M163.71 526.03L167.87 528.43" stroke="#fff" stroke-width="1.1"/>
<circle cx="156.7" cy="521.98" r="8.1" stroke-width="1.6"/>
<circle cx="156.7" cy="521.98" r="8.1" stroke="#aaa" stroke-width="0.5"/>
<circle cx="156.7" cy="521.98" r="5.0" stroke-width="0.9"/>
<circle cx="195.6" cy="532.4" r="12.95" fill="#fff" stroke-width="1.7"/>
<circle cx="195.6" cy="532.4" r="12.95" stroke="#999" stroke-width="0.5"/>
<path d="M191.55 525.39L189.15 521.23M191.55 539.41L189.15 543.57M203.7 532.4L208.5 532.4" stroke-width="2.5"/>
<path d="M191.55 525.39L189.15 521.23M191.55 539.41L189.15 543.57M203.7 532.4L208.5 532.4" stroke="#fff" stroke-width="1.1"/>
<circle cx="195.6" cy="532.4" r="8.1" stroke-width="1.6"/>
<circle cx="195.6" cy="532.4" r="8.1" stroke="#aaa" stroke-width="0.5"/>
<circle cx="195.6" cy="532.4" r="5.0" stroke-width="0.9"/>
<circle cx="234.5" cy="521.98" r="12.95" fill="#fff" stroke-width="1.7"/>
<circle cx="234.5" cy="521.98" r="12.95" stroke="#999" stroke-width="0.5"/>
<path d="M227.49 517.93L223.33 515.53M234.5 530.08L234.5 534.88M241.51 517.93L245.67 515.53" stroke-width="2.5"/>
<path d="M227.49 517.93L223.33 515.53M234.5 530.08L234.5 534.88M241.51 517.93L245.67 515.53" stroke="#fff" stroke-width="1.1"/>
<circle cx="234.5" cy="521.98" r="8.1" stroke-width="1.6"/>
<circle cx="234.5" cy="521.98" r="8.1" stroke="#aaa" stroke-width="0.5"/>
<circle cx="234.5" cy="521.98" r="5.0" stroke-width="0.9"/>
<circle cx="262.98" cy="493.5" r="12.95" fill="#fff" stroke-width="1.7"/>
<circle cx="262.98" cy="493.5" r="12.95" stroke="#999" stroke-width="0.5"/>
<path d="M254.88 493.5L250.08 493.5M267.03 500.51L269.43 504.67M267.03 486.49L269.43 482.33" stroke-width="2.5"/>
<path d="M254.88 493.5L250.08 493.5M267.03 500.51L269.43 504.67M267.03 486.49L269.43 482.33" stroke="#fff" stroke-width="1.1"/>
<circle cx="262.98" cy="493.5" r="8.1" stroke-width="1.6"/>
<circle cx="262.98" cy="493.5" r="8.1" stroke="#aaa" stroke-width="0.5"/>
<circle cx="262.98" cy="493.5" r="5.0" stroke-width="0.9"/>
<path d="M195.6 454.6L273.4 454.6" stroke-width="3.7"/>
<path d="M195.6 454.6L273.4 454.6" stroke="#fff" stroke-width="1.7"/>
<circle cx="273.4" cy="454.6" r="2.0" fill="#333" stroke-width="0.8"/>
<path d="M195.6 454.6L262.98 415.7" stroke-width="3.7"/>
<path d="M195.6 454.6L262.98 415.7" stroke="#fff" stroke-width="1.7"/>
<circle cx="262.98" cy="415.7" r="2.0" fill="#333" stroke-width="0.8"/>
<path d="M195.6 454.6L234.5 387.22" stroke-width="3.7"/>
<path d="M195.6 454.6L234.5 387.22" stroke="#fff" stroke-width="1.7"/>
<circle cx="234.5" cy="387.22" r="2.0" fill="#333" stroke-width="0.8"/>
<path d="M195.6 454.6L195.6 376.8" stroke-width="3.7"/>
<path d="M195.6 454.6L195.6 376.8" stroke="#fff" stroke-width="1.7"/>
<circle cx="195.6" cy="376.8" r="2.0" fill="#333" stroke-width="0.8"/>
<path d="M195.6 454.6L156.7 387.22" stroke-width="3.7"/>
<path d="M195.6 454.6L156.7 387.22" stroke="#fff" stroke-width="1.7"/>
<circle cx="156.7" cy="387.22" r="2.0" fill="#333" stroke-width="0.8"/>
<path d="M195.6 454.6L128.22 415.7" stroke-width="3.7"/>
<path d="M195.6 454.6L128.22 415.7" stroke="#fff" stroke-width="1.7"/>
<circle cx="128.22" cy="415.7" r="2.0" fill="#333" stroke-width="0.8"/>
<path d="M195.6 454.6L117.8 454.6" stroke-width="3.7"/>
<path d="M195.6 454.6L117.8 454.6" stroke="#fff" stroke-width="1.7"/>
<circle cx="117.8" cy="454.6" r="2.0" fill="#333" stroke-width="0.8"/>
<path d="M195.6 454.6L128.22 493.5" stroke-width="3.7"/>
<path d="M195.6 454.6L128.22 493.5" stroke="#fff" stroke-width="1.7"/>
<circle cx="128.22" cy="493.5" r="2.0" fill="#333" stroke-width="0.8"/>
<path d="M195.6 454.6L156.7 521.98" stroke-width="3.7"/>
<path d="M195.6 454.6L156.7 521.98" stroke="#fff" stroke-width="1.7"/>
<circle cx="156.7" cy="521.98" r="2.0" fill="#333" stroke-width="0.8"/>
<path d="M195.6 454.6L195.6 532.4" stroke-width="3.7"/>
<path d="M195.6 454.6L195.6 532.4" stroke="#fff" stroke-width="1.7"/>
<circle cx="195.6" cy="532.4" r="2.0" fill="#333" stroke-width="0.8"/>
<path d="M195.6 454.6L234.5 521.98" stroke-width="3.7"/>
<path d="M195.6 454.6L234.5 521.98" stroke="#fff" stroke-width="1.7"/>
<circle cx="234.5" cy="521.98" r="2.0" fill="#333" stroke-width="0.8"/>
<path d="M195.6 454.6L262.98 493.5" stroke-width="3.7"/>
<path d="M195.6 454.6L262.98 493.5" stroke="#fff" stroke-width="1.7"/>
<circle cx="262.98" cy="493.5" r="2.0" fill="#333" stroke-width="0.8"/>
<circle cx="195.6" cy="454.6" r="10.6" fill="#fff" stroke-width="1.2"/>
<circle cx="195.6" cy="454.6" r="9.0" stroke-width="0.7"/>
<circle cx="195.6" cy="454.6" r="4.2" fill="#fff" stroke-width="1.0"/>
<circle cx="195.6" cy="454.6" r="2.4" stroke-width="1.4" stroke-dasharray="1 0.8"/>
</g>
<path d="M282.91 430.33L318.5 418.3" stroke="#222" stroke-width="0.9" fill="none"/>
<path d="M282.91 430.33L287.74 427.43L288.51 429.71Z" fill="#111" stroke="none"/>
<text font-size="8.6" fill="#222" transform="translate(296.2 425.84) rotate(-18.68)" x="0" y="-1.2">&#981;1000</text></g>
</svg>
</body></html>
